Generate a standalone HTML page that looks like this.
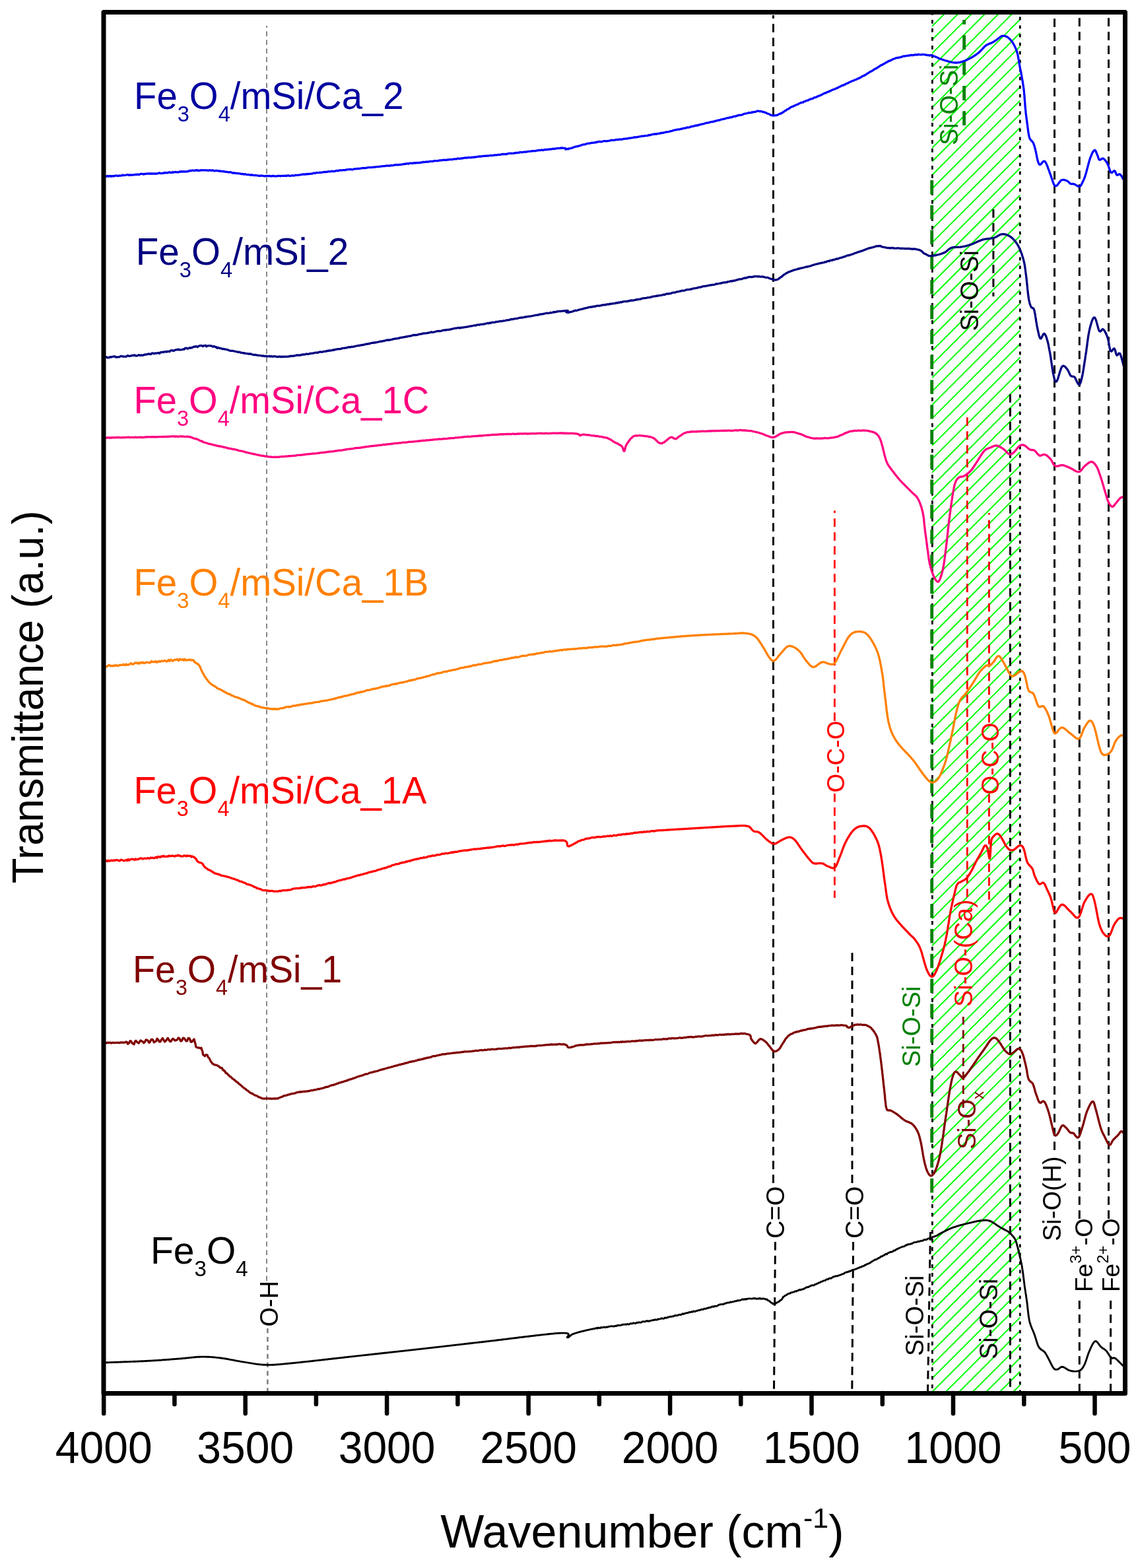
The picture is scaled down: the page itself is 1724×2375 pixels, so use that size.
<!DOCTYPE html><html><head><meta charset="utf-8"><title>FTIR spectra</title><style>html,body{margin:0;padding:0;background:#fff}svg{display:block}</style></head><body>
<svg width="1724" height="2375" viewBox="0 0 1724 2375" font-family="'Liberation Sans', Arial, sans-serif">
<rect width="1724" height="2375" fill="#fff"/>
<defs><clipPath id="gclip"><rect x="1412" y="22" width="133.5" height="2085"/></clipPath></defs>
<g clip-path="url(#gclip)"><path d="M1412,19.4L1545.5,-114.1M1412,39.9L1545.5,-93.6M1412,60.4L1545.5,-73.1M1412,80.9L1545.5,-52.6M1412,101.3L1545.5,-32.2M1412,121.8L1545.5,-11.7M1412,142.3L1545.5,8.8M1412,162.8L1545.5,29.3M1412,183.3L1545.5,49.8M1412,203.7L1545.5,70.2M1412,224.2L1545.5,90.7M1412,244.7L1545.5,111.2M1412,265.2L1545.5,131.7M1412,285.7L1545.5,152.2M1412,306.1L1545.5,172.6M1412,326.6L1545.5,193.1M1412,347.1L1545.5,213.6M1412,367.6L1545.5,234.1M1412,388.1L1545.5,254.6M1412,408.5L1545.5,275.0M1412,429.0L1545.5,295.5M1412,449.5L1545.5,316.0M1412,470.0L1545.5,336.5M1412,490.5L1545.5,357.0M1412,510.9L1545.5,377.4M1412,531.4L1545.5,397.9M1412,551.9L1545.5,418.4M1412,572.4L1545.5,438.9M1412,592.9L1545.5,459.4M1412,613.3L1545.5,479.8M1412,633.8L1545.5,500.3M1412,654.3L1545.5,520.8M1412,674.8L1545.5,541.3M1412,695.3L1545.5,561.8M1412,715.7L1545.5,582.2M1412,736.2L1545.5,602.7M1412,756.7L1545.5,623.2M1412,777.2L1545.5,643.7M1412,797.7L1545.5,664.2M1412,818.1L1545.5,684.6M1412,838.6L1545.5,705.1M1412,859.1L1545.5,725.6M1412,879.6L1545.5,746.1M1412,900.1L1545.5,766.6M1412,920.5L1545.5,787.0M1412,941.0L1545.5,807.5M1412,961.5L1545.5,828.0M1412,982.0L1545.5,848.5M1412,1002.5L1545.5,869.0M1412,1022.9L1545.5,889.4M1412,1043.4L1545.5,909.9M1412,1063.9L1545.5,930.4M1412,1084.4L1545.5,950.9M1412,1104.9L1545.5,971.4M1412,1125.3L1545.5,991.8M1412,1145.8L1545.5,1012.3M1412,1166.3L1545.5,1032.8M1412,1186.8L1545.5,1053.3M1412,1207.3L1545.5,1073.8M1412,1227.7L1545.5,1094.2M1412,1248.2L1545.5,1114.7M1412,1268.7L1545.5,1135.2M1412,1289.2L1545.5,1155.7M1412,1309.7L1545.5,1176.2M1412,1330.1L1545.5,1196.6M1412,1350.6L1545.5,1217.1M1412,1371.1L1545.5,1237.6M1412,1391.6L1545.5,1258.1M1412,1412.1L1545.5,1278.6M1412,1432.5L1545.5,1299.0M1412,1453.0L1545.5,1319.5M1412,1473.5L1545.5,1340.0M1412,1494.0L1545.5,1360.5M1412,1514.5L1545.5,1381.0M1412,1534.9L1545.5,1401.4M1412,1555.4L1545.5,1421.9M1412,1575.9L1545.5,1442.4M1412,1596.4L1545.5,1462.9M1412,1616.9L1545.5,1483.4M1412,1637.3L1545.5,1503.8M1412,1657.8L1545.5,1524.3M1412,1678.3L1545.5,1544.8M1412,1698.8L1545.5,1565.3M1412,1719.3L1545.5,1585.8M1412,1739.7L1545.5,1606.2M1412,1760.2L1545.5,1626.7M1412,1780.7L1545.5,1647.2M1412,1801.2L1545.5,1667.7M1412,1821.7L1545.5,1688.2M1412,1842.1L1545.5,1708.6M1412,1862.6L1545.5,1729.1M1412,1883.1L1545.5,1749.6M1412,1903.6L1545.5,1770.1M1412,1924.1L1545.5,1790.6M1412,1944.5L1545.5,1811.0M1412,1965.0L1545.5,1831.5M1412,1985.5L1545.5,1852.0M1412,2006.0L1545.5,1872.5M1412,2026.5L1545.5,1893.0M1412,2046.9L1545.5,1913.4M1412,2067.4L1545.5,1933.9M1412,2087.9L1545.5,1954.4M1412,2108.4L1545.5,1974.9M1412,2128.9L1545.5,1995.4M1412,2149.3L1545.5,2015.8M1412,2169.8L1545.5,2036.3M1412,2190.3L1545.5,2056.8M1412,2210.8L1545.5,2077.3M1412,2231.3L1545.5,2097.8" stroke="#00ff00" stroke-width="2" fill="none"/></g>
<line x1="404" y1="1940" x2="404" y2="39" stroke="#7a7a7a" stroke-width="1.8" stroke-dasharray="7.4 5.6" stroke-dashoffset="0"/>
<line x1="405.4" y1="2012" x2="405.4" y2="2107" stroke="#808080" stroke-width="2.6" stroke-dasharray="7.3 5.6" stroke-dashoffset="0"/>
<line x1="1171.5" y1="1792" x2="1171.5" y2="23" stroke="#000" stroke-width="3" stroke-dasharray="12.7 8.3" stroke-dashoffset="0"/>
<line x1="1174.5" y1="1881" x2="1172.5" y2="2107" stroke="#000" stroke-width="3" stroke-dasharray="12.7 8.3" stroke-dashoffset="0"/>
<line x1="1291" y1="1792" x2="1291" y2="1442" stroke="#000" stroke-width="3" stroke-dasharray="12.7 8.3" stroke-dashoffset="0"/>
<line x1="1292.6" y1="1881" x2="1290.8" y2="2107" stroke="#000" stroke-width="3" stroke-dasharray="12.7 8.3" stroke-dashoffset="0"/>
<line x1="1412.4" y1="22" x2="1412.4" y2="2107" stroke="#000" stroke-width="2.8" stroke-dasharray="5.6 7.4" stroke-dashoffset="4.9"/>
<line x1="1545.3" y1="22" x2="1545.3" y2="2107" stroke="#000" stroke-width="2.8" stroke-dasharray="5 8" stroke-dashoffset="9.6"/>
<line x1="1264.4" y1="1092" x2="1264.4" y2="773.5" stroke="#ff0000" stroke-width="2.8" stroke-dasharray="12.7 8.3" stroke-dashoffset="0"/>
<line x1="1264.4" y1="1202" x2="1264.4" y2="1360" stroke="#ff0000" stroke-width="2.8" stroke-dasharray="12.7 8.3" stroke-dashoffset="0"/>
<line x1="1498.4" y1="1094.5" x2="1498.4" y2="777" stroke="#ff0000" stroke-width="2.8" stroke-dasharray="12.7 8.3" stroke-dashoffset="0"/>
<line x1="1498.4" y1="1203" x2="1498.4" y2="1363" stroke="#ff0000" stroke-width="2.8" stroke-dasharray="12.7 8.3" stroke-dashoffset="0"/>
<line x1="1465.3" y1="1359" x2="1465.3" y2="624" stroke="#ff0000" stroke-width="2.8" stroke-dasharray="12.7 8.3" stroke-dashoffset="0"/>
<line x1="1459.3" y1="1678" x2="1459.3" y2="1540" stroke="#800000" stroke-width="2.8" stroke-dasharray="12.7 8.3" stroke-dashoffset="0"/>
<line x1="1460.6" y1="30" x2="1460.6" y2="190" stroke="#008000" stroke-width="4.8" stroke-dasharray="22 16.3" stroke-dashoffset="15"/>
<line x1="1411.7" y1="273" x2="1411.7" y2="1807" stroke="#008000" stroke-width="4.8" stroke-dasharray="21.4 16.4" stroke-dashoffset="0"/>
<line x1="1504.9" y1="317" x2="1504.9" y2="449" stroke="#000" stroke-width="3" stroke-dasharray="12.7 8.3" stroke-dashoffset="0"/>
<line x1="1530.4" y1="597" x2="1530.4" y2="2107" stroke="#000" stroke-width="3" stroke-dasharray="12.7 8.3" stroke-dashoffset="0"/>
<line x1="1597.5" y1="1742" x2="1597.5" y2="24" stroke="#000" stroke-width="3" stroke-dasharray="12.7 8.3" stroke-dashoffset="0"/>
<line x1="1635.3" y1="1846" x2="1635.3" y2="24" stroke="#000" stroke-width="3" stroke-dasharray="12.7 8.3" stroke-dashoffset="0"/>
<line x1="1635.3" y1="1970" x2="1635.3" y2="2107" stroke="#000" stroke-width="3" stroke-dasharray="12.7 8.3" stroke-dashoffset="0"/>
<line x1="1679.5" y1="1846" x2="1679.5" y2="24" stroke="#000" stroke-width="3" stroke-dasharray="12.7 8.3" stroke-dashoffset="0"/>
<line x1="1682.6" y1="1970" x2="1682.6" y2="2107" stroke="#000" stroke-width="3" stroke-dasharray="12.7 8.3" stroke-dashoffset="0"/>
<line x1="1409.5" y1="1866" x2="1405.5" y2="2107" stroke="#000" stroke-width="3" stroke-dasharray="12.7 8.3" stroke-dashoffset="0"/>
<path d="M157.3,267.2 L158.1,267.5 L159.0,267.2 L159.9,267.4 L160.9,267.4 L162.0,266.7 L163.2,266.5 L164.4,267.4 L165.6,266.6 L167.0,266.5 L168.3,267.3 L169.8,266.6 L171.2,267.0 L172.8,266.4 L174.3,266.5 L175.9,265.8 L177.5,266.3 L179.2,266.5 L180.8,265.9 L182.5,266.1 L184.2,265.9 L186.0,265.0 L187.7,265.7 L189.5,265.4 L191.2,265.0 L193.0,264.5 L194.7,265.4 L196.5,264.8 L198.2,265.0 L199.9,265.1 L201.7,264.8 L203.4,264.9 L205.0,264.2 L206.7,264.6 L208.3,264.0 L209.7,264.5 L211.2,264.4 L212.7,263.3 L214.2,263.3 L215.8,263.3 L217.3,264.1 L218.9,263.4 L220.4,263.5 L222.0,263.0 L223.6,263.2 L225.2,263.0 L226.8,262.8 L228.5,263.0 L230.1,262.9 L231.7,263.2 L233.3,262.9 L235.0,263.1 L236.6,262.9 L238.2,263.0 L239.8,262.5 L241.4,261.8 L243.0,262.5 L244.6,262.6 L246.2,262.4 L247.8,261.9 L249.4,262.0 L250.9,261.3 L252.5,262.0 L254.0,261.6 L255.5,261.1 L256.9,260.8 L258.4,261.6 L259.8,261.7 L261.2,260.5 L262.6,261.3 L264.0,260.8 L265.3,260.4 L266.6,260.5 L268.4,260.9 L270.3,260.9 L272.0,259.8 L273.8,260.3 L275.4,259.5 L277.1,260.2 L278.7,259.6 L280.3,260.1 L281.9,260.1 L283.4,259.4 L284.9,259.8 L286.4,258.8 L287.9,258.4 L289.3,258.9 L290.7,258.1 L292.1,258.2 L293.5,258.3 L294.9,258.5 L296.2,257.8 L297.6,257.6 L298.9,258.5 L300.2,257.8 L301.6,258.5 L302.9,258.4 L304.2,257.7 L305.5,257.8 L307.3,257.8 L309.0,257.9 L310.7,257.9 L312.3,257.9 L313.9,258.0 L315.4,258.4 L317.0,257.9 L318.5,257.9 L320.0,258.3 L321.4,257.9 L322.9,258.0 L324.4,259.0 L325.8,258.5 L327.3,258.7 L328.7,258.2 L330.2,258.8 L331.7,259.1 L333.2,258.8 L334.7,259.4 L336.2,259.6 L337.8,259.3 L339.3,259.9 L340.8,260.0 L342.4,260.3 L343.9,260.3 L345.5,260.8 L347.0,261.0 L348.5,260.7 L350.1,260.9 L351.6,261.6 L353.1,262.1 L354.7,261.8 L356.2,262.1 L357.8,262.5 L359.3,262.5 L360.8,262.7 L362.4,262.9 L363.9,263.1 L365.4,263.5 L367.0,263.4 L368.5,263.6 L370.0,264.1 L371.6,263.7 L373.1,264.3 L374.6,264.6 L376.2,264.5 L377.7,264.6 L379.2,265.2 L380.7,264.9 L382.3,265.0 L383.8,265.3 L385.3,265.7 L386.9,265.3 L388.4,265.6 L389.9,265.8 L391.5,266.3 L393.0,266.1 L394.5,266.5 L396.1,266.0 L397.6,266.2 L399.1,266.5 L400.7,266.8 L402.2,266.5 L403.8,266.3 L405.3,266.3 L406.8,266.6 L408.4,266.4 L409.9,266.9 L411.4,266.9 L413.0,266.4 L414.5,266.5 L416.1,266.9 L417.6,266.8 L419.1,266.9 L420.7,266.5 L422.2,266.3 L423.7,266.4 L425.2,266.8 L426.7,266.3 L428.2,266.3 L429.6,266.4 L431.1,266.3 L432.5,266.2 L434.0,266.6 L435.4,265.9 L436.9,265.7 L438.4,266.4 L439.9,266.3 L441.4,266.2 L442.9,265.7 L444.5,266.0 L446.2,265.9 L447.8,265.2 L449.5,265.4 L451.3,265.4 L452.6,265.1 L453.9,264.9 L455.3,264.6 L456.6,264.5 L458.0,264.2 L459.4,263.9 L460.8,264.2 L462.2,263.8 L463.7,264.1 L465.1,263.3 L466.6,263.8 L468.0,263.4 L469.5,263.4 L471.0,263.2 L472.6,263.1 L474.1,262.6 L475.6,262.0 L477.2,262.4 L478.8,261.7 L480.4,261.6 L482.0,261.7 L483.6,261.4 L485.2,261.2 L486.9,261.4 L488.5,261.0 L490.2,260.6 L491.6,260.4 L492.9,260.7 L494.3,260.3 L495.6,260.4 L497.0,259.9 L498.4,259.6 L499.7,259.8 L501.1,259.8 L502.5,259.2 L503.9,259.5 L505.2,259.5 L506.6,259.3 L508.1,259.2 L509.5,258.4 L510.9,258.7 L512.4,258.8 L513.8,258.0 L515.3,258.0 L516.8,257.9 L518.4,257.9 L519.9,257.7 L521.5,257.6 L523.1,257.7 L524.7,256.9 L526.4,256.8 L528.0,256.7 L529.8,256.5 L531.5,256.3 L533.3,256.8 L535.1,256.6 L536.9,255.8 L538.8,255.9 L540.1,255.6 L541.4,255.5 L542.7,255.4 L544.0,255.5 L545.4,255.3 L546.7,255.0 L548.1,254.7 L549.5,254.7 L551.0,254.4 L552.4,254.6 L553.9,254.6 L555.3,254.2 L556.8,253.8 L558.3,253.7 L559.8,253.7 L561.3,253.7 L562.8,253.7 L564.4,253.2 L565.9,253.4 L567.5,253.1 L569.0,252.8 L570.6,252.6 L572.2,252.6 L573.7,252.6 L575.3,252.2 L576.9,252.2 L578.5,251.9 L580.1,251.6 L581.7,251.6 L583.3,251.6 L584.9,250.9 L586.5,251.1 L588.1,250.9 L589.7,251.1 L591.3,251.0 L592.9,250.4 L594.5,250.6 L596.1,250.4 L597.7,249.8 L599.3,249.8 L600.8,249.4 L602.4,249.8 L604.0,249.5 L605.5,249.5 L607.1,249.3 L608.6,249.0 L610.2,248.9 L611.7,248.7 L613.2,248.1 L614.7,248.4 L616.2,247.8 L617.7,247.7 L619.2,248.1 L620.6,247.3 L622.1,247.2 L623.6,247.1 L625.0,247.6 L626.5,246.9 L627.9,246.6 L629.4,247.1 L630.8,246.4 L632.2,246.8 L633.7,246.5 L635.1,246.5 L636.5,246.5 L638.0,246.0 L639.4,246.1 L640.8,245.3 L642.3,245.7 L643.7,245.4 L645.2,245.4 L646.6,244.8 L648.1,245.2 L649.6,245.2 L651.0,244.3 L652.5,244.4 L654.0,244.4 L655.5,244.5 L657.0,243.9 L658.5,243.7 L660.0,243.6 L661.6,243.7 L663.1,243.7 L664.7,243.2 L666.2,243.0 L667.8,242.9 L669.4,242.7 L671.0,242.6 L672.7,242.2 L674.3,242.3 L676.0,242.5 L677.7,241.9 L679.4,242.0 L681.1,241.4 L682.8,241.6 L684.6,241.5 L685.9,241.3 L687.3,241.0 L688.6,240.9 L690.0,240.9 L691.4,240.9 L692.8,240.2 L694.2,240.0 L695.6,240.4 L697.1,240.4 L698.5,239.9 L700.0,239.7 L701.5,239.8 L703.0,239.2 L704.5,239.1 L706.0,238.9 L707.5,239.1 L709.0,238.7 L710.6,238.5 L712.1,238.7 L713.7,238.8 L715.2,238.1 L716.8,238.3 L718.4,237.9 L720.0,238.1 L721.5,237.7 L723.1,237.3 L724.7,237.1 L726.3,236.8 L727.9,237.0 L729.5,236.8 L731.1,236.4 L732.7,236.4 L734.3,236.2 L735.9,236.4 L737.5,235.8 L739.1,236.3 L740.7,235.7 L742.3,235.7 L743.8,235.4 L745.4,235.5 L747.0,235.4 L748.6,235.0 L750.1,234.8 L751.7,234.8 L753.2,234.8 L754.8,234.3 L756.3,234.4 L757.8,234.4 L759.4,233.8 L760.9,233.5 L762.4,233.4 L763.8,233.6 L765.3,233.4 L766.8,233.5 L768.2,233.3 L769.6,232.6 L771.1,232.4 L772.5,232.4 L773.8,232.2 L775.2,232.4 L776.6,232.4 L777.9,232.3 L779.2,231.7 L780.5,232.0 L781.8,231.5 L783.6,231.3 L785.5,231.4 L787.3,230.7 L789.1,230.5 L791.0,230.9 L792.8,230.3 L794.6,230.1 L796.4,230.1 L798.2,230.0 L800.0,229.3 L801.8,229.3 L803.6,229.2 L805.3,229.0 L807.1,228.6 L808.8,228.7 L810.5,228.8 L812.2,228.2 L813.9,228.1 L815.6,227.6 L817.3,227.5 L818.9,227.7 L820.5,227.0 L822.1,227.5 L823.7,227.3 L825.2,226.5 L826.8,227.0 L828.3,226.4 L829.7,226.5 L831.2,226.4 L832.6,225.8 L834.0,226.0 L835.4,225.8 L836.7,225.8 L838.0,225.2 L839.3,225.5 L840.5,225.5 L841.7,225.2 L842.8,225.0 L844.0,224.5 L845.1,224.7 L846.1,224.5 L847.1,224.7 L848.1,224.6 L849.0,224.4 L849.9,224.0 L854.6,224.3 L856.6,224.6 L856.9,224.8 L856.7,226.0 L857.3,226.1 L859.6,225.4 L860.6,225.9 L861.6,225.0 L862.7,224.9 L863.8,224.9 L865.0,224.5 L866.2,224.2 L867.4,223.9 L868.7,223.3 L870.1,222.8 L871.5,222.3 L872.9,221.8 L874.4,221.8 L876.0,221.4 L877.5,220.8 L879.2,220.5 L880.8,219.8 L882.5,219.2 L884.3,218.9 L886.1,218.9 L887.9,217.8 L889.7,217.7 L891.7,217.2 L893.6,217.2 L894.8,216.7 L896.1,216.4 L897.4,216.3 L898.8,216.2 L900.2,216.2 L901.6,215.6 L903.0,215.8 L904.5,215.0 L905.9,214.9 L907.4,214.6 L909.0,214.4 L910.5,214.8 L912.1,214.5 L913.7,213.9 L915.3,213.7 L916.9,213.7 L918.5,213.8 L920.1,213.6 L921.7,213.4 L923.4,213.1 L925.0,212.5 L926.6,212.5 L928.3,212.2 L929.9,212.3 L931.5,212.1 L933.1,211.6 L934.7,211.5 L936.3,211.7 L937.9,210.9 L939.5,211.3 L941.1,211.2 L942.6,211.1 L944.1,210.4 L945.6,210.3 L947.1,210.2 L948.6,210.0 L950.0,210.1 L951.6,209.6 L953.2,209.1 L954.8,209.3 L956.4,208.8 L957.9,208.7 L959.4,208.5 L960.9,207.7 L962.4,208.1 L963.9,207.8 L965.4,207.5 L966.8,207.3 L968.3,207.0 L969.7,206.6 L971.1,206.7 L972.6,206.1 L974.0,206.2 L975.5,206.1 L976.9,205.7 L978.4,205.6 L979.8,205.7 L981.3,205.4 L982.7,204.5 L984.2,204.8 L985.7,204.4 L987.2,203.7 L988.7,203.7 L990.3,203.3 L991.8,202.9 L993.4,203.0 L995.0,203.0 L996.6,202.3 L998.3,202.4 L999.7,202.0 L1001.1,201.3 L1002.5,201.6 L1003.9,201.1 L1005.3,201.1 L1006.7,200.7 L1008.2,200.4 L1009.6,199.8 L1011.1,199.9 L1012.6,199.7 L1014.0,199.3 L1015.5,198.7 L1017.0,198.6 L1018.5,198.1 L1020.0,197.5 L1021.5,197.1 L1023.1,196.8 L1024.6,196.6 L1026.1,196.2 L1027.6,196.2 L1029.2,196.0 L1030.7,195.6 L1032.2,195.1 L1033.8,195.0 L1035.3,194.4 L1036.9,194.2 L1038.4,194.1 L1039.9,193.4 L1041.5,192.9 L1043.0,193.2 L1044.6,192.7 L1046.1,192.1 L1047.6,191.7 L1049.1,191.5 L1050.7,191.2 L1052.2,190.6 L1053.7,190.1 L1055.2,189.9 L1056.7,190.0 L1058.2,189.2 L1059.7,189.1 L1061.3,188.5 L1062.8,188.2 L1064.4,187.8 L1066.0,187.6 L1067.6,187.0 L1069.2,186.5 L1070.8,186.2 L1072.4,185.9 L1074.0,185.8 L1075.6,185.0 L1077.2,184.6 L1078.8,184.6 L1080.5,184.1 L1082.1,184.0 L1083.7,183.1 L1085.3,183.0 L1086.9,182.6 L1088.5,181.9 L1090.1,182.2 L1091.6,181.3 L1093.2,180.8 L1094.7,180.7 L1096.2,180.1 L1097.7,180.1 L1099.2,179.5 L1100.7,179.0 L1102.1,178.6 L1103.5,178.7 L1104.9,178.0 L1106.3,178.1 L1107.6,177.5 L1108.9,177.6 L1110.2,176.8 L1111.5,176.4 L1112.7,176.2 L1113.9,176.3 L1115.0,175.9 L1117.2,175.1 L1119.4,174.4 L1121.4,174.4 L1123.4,174.2 L1125.3,173.4 L1127.0,172.5 L1128.7,172.1 L1130.4,171.8 L1131.9,171.5 L1133.4,171.1 L1134.8,170.7 L1136.1,170.9 L1137.4,170.8 L1138.6,170.0 L1139.8,170.3 L1140.9,169.7 L1142.0,169.7 L1143.1,169.6 L1144.1,169.5 L1147.2,168.2 L1149.1,168.2 L1150.4,168.5 L1151.5,168.9 L1152.9,168.5 L1154.3,168.9 L1155.8,169.7 L1157.2,169.6 L1158.6,170.3 L1160.1,170.7 L1161.6,171.5 L1163.0,172.2 L1164.4,172.3 L1165.9,173.3 L1167.3,174.0 L1168.8,174.6 L1170.3,174.8 L1171.8,175.2 L1173.2,174.8 L1174.4,174.8 L1175.6,174.5 L1176.9,174.6 L1178.3,173.9 L1180.0,173.0 L1182.0,172.0 L1183.0,172.0 L1184.2,171.3 L1185.3,170.7 L1186.5,169.7 L1187.8,169.0 L1189.0,167.9 L1190.4,167.5 L1191.8,166.1 L1193.2,165.5 L1194.6,164.9 L1196.1,163.9 L1197.7,162.6 L1199.3,161.8 L1200.9,161.5 L1202.5,160.5 L1203.8,160.1 L1205.1,159.5 L1206.4,158.6 L1207.8,158.4 L1209.2,157.7 L1210.6,156.8 L1212.0,156.3 L1213.5,155.5 L1215.0,155.2 L1216.5,155.1 L1218.0,153.9 L1219.5,153.7 L1221.1,152.7 L1222.6,152.2 L1224.1,152.0 L1225.6,151.1 L1227.1,150.4 L1228.6,149.9 L1230.1,149.7 L1231.6,149.1 L1233.0,148.0 L1234.4,147.6 L1235.8,147.6 L1237.2,146.5 L1238.5,146.1 L1239.9,145.4 L1241.3,145.1 L1242.7,144.4 L1244.1,143.9 L1245.5,143.1 L1246.9,142.3 L1248.3,141.6 L1249.7,141.0 L1251.1,140.9 L1252.5,139.8 L1253.8,139.1 L1255.2,139.2 L1256.6,138.0 L1258.0,137.9 L1259.4,136.7 L1260.8,136.4 L1262.2,135.6 L1263.6,135.4 L1265.1,134.6 L1266.6,134.0 L1268.1,133.4 L1269.6,132.8 L1271.1,131.7 L1272.6,131.2 L1274.1,130.4 L1275.6,129.5 L1277.1,129.4 L1278.5,128.5 L1279.9,128.1 L1281.4,127.0 L1282.7,126.6 L1284.1,125.9 L1285.4,125.6 L1286.6,124.5 L1287.8,124.2 L1288.9,123.8 L1290.0,123.0 L1292.0,122.4 L1293.8,121.8 L1295.4,120.9 L1296.9,120.5 L1298.2,119.9 L1299.4,119.1 L1300.6,118.7 L1301.8,118.6 L1303.1,117.5 L1304.5,116.8 L1305.8,115.9 L1307.0,115.3 L1308.1,114.6 L1309.2,114.6 L1310.3,113.7 L1311.5,113.1 L1312.7,112.4 L1314.1,111.3 L1315.6,110.6 L1317.2,109.3 L1319.1,108.1 L1320.1,108.0 L1321.2,107.3 L1322.4,106.6 L1323.6,105.5 L1324.9,105.0 L1326.2,103.9 L1327.6,103.6 L1329.0,102.7 L1330.4,101.4 L1331.9,101.0 L1333.3,99.6 L1334.8,98.7 L1336.3,98.4 L1337.7,97.2 L1339.2,96.6 L1340.6,95.9 L1342.0,94.6 L1343.3,94.5 L1344.6,93.4 L1345.9,92.9 L1347.1,92.2 L1348.3,92.0 L1350.0,91.2 L1351.7,90.2 L1353.2,89.4 L1354.7,89.0 L1356.1,88.5 L1357.5,87.8 L1358.9,87.5 L1360.2,87.6 L1361.6,87.2 L1362.9,87.0 L1364.3,86.7 L1365.7,86.3 L1367.2,85.6 L1368.7,85.1 L1370.2,85.0 L1371.7,84.8 L1373.2,84.6 L1374.8,84.4 L1376.4,84.0 L1378.0,84.2 L1379.6,83.5 L1381.2,83.5 L1382.9,83.7 L1384.4,83.5 L1386.0,82.9 L1387.6,82.8 L1389.1,83.2 L1390.6,82.5 L1392.0,82.5 L1393.7,82.8 L1395.5,82.8 L1397.2,82.5 L1398.8,82.5 L1400.5,82.7 L1402.1,83.2 L1403.6,83.1 L1405.2,83.7 L1406.7,83.7 L1408.1,84.1 L1409.6,83.6 L1411.0,83.9 L1412.6,84.2 L1414.1,85.0 L1415.6,85.4 L1417.0,85.7 L1418.3,86.7 L1419.7,86.9 L1421.1,87.8 L1422.5,88.4 L1423.9,89.0 L1425.4,89.5 L1426.9,90.0 L1428.4,90.5 L1429.9,91.0 L1431.5,91.5 L1433.2,92.0 L1434.8,92.4 L1436.3,92.9 L1437.9,93.3 L1439.3,93.7 L1440.7,94.0 L1442.0,94.3 L1444.1,94.7 L1445.9,94.9 L1447.5,95.0 L1449.1,95.0 L1450.7,94.9 L1452.3,94.7 L1453.8,94.5 L1455.2,94.1 L1456.7,93.7 L1458.2,93.3 L1459.6,92.7 L1461.1,92.2 L1462.6,91.6 L1464.1,91.0 L1465.6,90.3 L1467.1,89.6 L1468.5,88.9 L1470.0,88.1 L1471.5,87.3 L1473.0,86.4 L1474.3,85.6 L1475.6,84.8 L1476.9,84.0 L1478.2,83.1 L1479.4,82.2 L1480.7,81.3 L1482.0,80.3 L1483.3,79.2 L1484.4,78.2 L1485.6,77.0 L1486.7,75.8 L1487.9,74.5 L1489.0,73.3 L1490.2,72.0 L1491.3,70.9 L1492.5,69.8 L1493.6,68.9 L1495.1,67.9 L1496.6,67.2 L1498.2,66.5 L1499.7,65.9 L1501.2,65.4 L1502.6,64.8 L1504.0,64.1 L1505.5,63.2 L1507.0,62.2 L1508.4,61.3 L1509.7,60.3 L1511.0,59.4 L1512.2,58.5 L1513.8,57.2 L1515.3,56.0 L1516.7,55.0 L1518.4,54.4 L1519.9,54.3 L1521.6,54.4 L1523.3,54.8 L1525.0,55.5 L1526.7,56.5 L1527.7,57.3 L1528.8,58.2 L1529.9,59.2 L1530.9,60.4 L1532.0,61.6 L1533.0,62.9 L1534.0,64.3 L1534.9,65.8 L1535.6,67.0 L1536.3,68.3 L1537.0,69.6 L1537.6,70.9 L1538.3,72.3 L1538.9,73.8 L1539.5,75.3 L1540.1,76.9 L1540.6,78.5 L1541.1,80.2 L1541.5,81.6 L1541.8,83.0 L1542.1,84.5 L1542.4,86.0 L1542.7,87.6 L1543.0,89.2 L1543.3,90.8 L1543.5,92.4 L1543.8,94.0 L1544.0,95.6 L1544.3,97.1 L1544.5,98.6 L1544.8,100.0 L1545.1,101.6 L1545.4,103.1 L1545.7,104.6 L1546.0,106.0 L1546.3,107.4 L1546.6,108.8 L1546.9,110.2 L1547.1,111.6 L1547.4,113.1 L1547.7,114.7 L1548.0,116.4 L1548.2,117.8 L1548.5,119.2 L1548.7,120.6 L1549.0,122.1 L1549.2,123.6 L1549.5,125.1 L1549.7,126.7 L1550.0,128.2 L1550.2,129.9 L1550.4,131.5 L1550.7,133.2 L1550.9,134.8 L1551.1,136.6 L1551.3,138.3 L1551.4,139.7 L1551.6,141.1 L1551.7,142.6 L1551.9,144.1 L1552.0,145.6 L1552.1,147.2 L1552.2,148.8 L1552.3,150.4 L1552.4,151.9 L1552.5,153.5 L1552.7,155.1 L1552.8,156.7 L1552.9,158.3 L1553.0,159.8 L1553.1,161.3 L1553.2,162.8 L1553.4,164.2 L1553.5,165.6 L1553.7,167.3 L1553.9,169.0 L1554.0,170.7 L1554.2,172.3 L1554.4,173.9 L1554.6,175.4 L1554.8,177.0 L1555.0,178.5 L1555.2,180.0 L1555.4,181.5 L1555.6,183.0 L1555.8,184.5 L1556.0,186.0 L1556.2,187.5 L1556.4,189.1 L1556.6,190.6 L1556.8,192.3 L1557.0,193.9 L1557.2,195.6 L1557.5,197.2 L1557.7,198.8 L1557.9,200.4 L1558.1,201.9 L1558.4,203.4 L1558.6,204.7 L1558.9,206.0 L1559.2,207.2 L1559.5,208.3 L1560.3,210.3 L1561.3,211.7 L1562.2,212.8 L1563.2,213.7 L1564.2,214.7 L1565.0,215.9 L1565.7,217.3 L1566.2,218.7 L1566.7,220.1 L1567.2,221.7 L1567.7,223.6 L1568.3,225.8 L1568.6,227.0 L1568.9,228.4 L1569.3,230.0 L1569.6,231.6 L1570.0,233.3 L1570.3,235.1 L1570.7,236.8 L1571.0,238.6 L1571.4,240.2 L1571.7,241.8 L1572.1,243.2 L1572.4,244.4 L1572.7,245.4 L1573.8,248.2 L1574.7,249.2 L1575.9,249.3 L1577.1,248.5 L1578.4,246.9 L1579.7,245.3 L1580.9,244.4 L1582.2,244.2 L1583.3,244.9 L1584.7,247.1 L1585.2,248.0 L1585.6,249.1 L1586.2,250.4 L1586.7,251.7 L1587.3,253.2 L1587.8,254.8 L1588.4,256.3 L1589.0,258.0 L1589.6,259.5 L1590.1,261.1 L1590.7,262.6 L1591.2,264.0 L1591.8,265.7 L1592.4,267.4 L1593.0,269.1 L1593.6,270.9 L1594.1,272.6 L1594.7,274.3 L1595.2,275.8 L1595.7,277.2 L1596.2,278.4 L1596.7,279.4 L1598.5,282.0 L1600.5,281.5 L1601.4,280.7 L1602.4,279.5 L1603.5,278.0 L1604.7,276.4 L1605.8,274.9 L1607.0,273.6 L1608.2,272.8 L1609.9,272.3 L1611.6,272.4 L1613.3,272.8 L1614.9,273.3 L1616.4,273.9 L1618.0,274.9 L1619.3,276.1 L1620.6,277.4 L1621.9,278.3 L1623.7,278.6 L1625.4,278.5 L1627.3,278.8 L1628.6,279.4 L1630.0,280.3 L1631.5,281.2 L1632.8,282.1 L1633.9,282.6 L1636.6,282.1 L1637.1,281.3 L1637.7,280.3 L1638.4,279.1 L1639.1,277.8 L1639.8,276.4 L1640.6,274.8 L1641.4,273.1 L1642.2,271.3 L1642.9,269.4 L1643.7,267.3 L1644.1,266.1 L1644.5,264.7 L1645.0,263.3 L1645.4,261.8 L1645.8,260.2 L1646.3,258.6 L1646.7,256.9 L1647.1,255.2 L1647.6,253.5 L1648.0,251.8 L1648.5,250.1 L1648.9,248.5 L1649.3,246.9 L1649.8,245.3 L1650.2,243.8 L1650.6,242.5 L1651.0,241.2 L1651.4,240.0 L1652.2,237.8 L1653.0,235.8 L1653.8,234.0 L1654.5,232.3 L1655.3,230.8 L1656.0,229.6 L1656.7,228.6 L1657.4,227.9 L1658.0,227.4 L1659.0,227.5 L1659.9,228.8 L1660.8,230.7 L1661.5,232.7 L1662.3,234.5 L1663.0,236.2 L1663.6,238.0 L1664.2,239.8 L1664.8,241.3 L1665.6,242.2 L1667.2,241.8 L1669.1,240.4 L1671.1,240.0 L1672.1,240.6 L1673.2,241.6 L1674.3,242.8 L1675.5,244.3 L1676.6,245.9 L1677.6,247.6 L1678.3,248.9 L1678.9,250.5 L1679.5,252.3 L1680.1,254.2 L1680.7,256.0 L1681.3,257.7 L1681.9,259.2 L1682.5,260.5 L1683.1,261.3 L1684.5,261.6 L1686.0,260.4 L1687.4,259.0 L1688.6,258.6 L1689.5,259.8 L1690.3,261.8 L1691.0,263.8 L1691.9,265.1 L1693.4,265.0 L1695.1,264.0 L1696.8,264.0 L1697.7,264.9 L1698.8,266.3 L1699.8,268.0 L1700.8,269.7 L1701.6,271.2 L1702.2,272.2" fill="none" stroke="#0000ff" stroke-width="3.3" stroke-linejoin="round" stroke-linecap="round"/>
<path d="M157.3,541.2 L158.1,540.9 L159.0,541.4 L159.9,540.9 L161.0,540.7 L162.1,541.2 L163.2,542.0 L164.4,541.7 L165.7,541.6 L167.0,540.5 L168.4,541.0 L169.8,540.5 L171.3,540.2 L172.8,539.9 L174.4,540.0 L176.0,541.2 L177.6,540.9 L179.3,540.8 L181.0,540.7 L182.7,539.5 L184.4,539.5 L186.2,540.0 L187.9,540.1 L189.7,540.2 L191.5,540.1 L193.3,538.5 L195.1,539.3 L196.9,539.3 L198.7,538.9 L200.5,538.2 L202.2,538.6 L204.0,537.7 L205.7,539.1 L207.4,538.9 L209.1,538.2 L210.8,537.6 L212.5,538.5 L214.1,537.8 L215.7,538.2 L217.2,538.0 L218.7,537.2 L220.1,536.9 L221.5,537.1 L222.9,536.7 L224.7,536.0 L226.4,536.1 L228.2,536.8 L229.9,535.2 L231.6,535.0 L233.3,535.8 L235.0,534.9 L236.7,535.1 L238.4,534.8 L240.0,534.3 L241.6,535.3 L243.2,533.6 L244.8,533.7 L246.4,533.1 L247.9,533.6 L249.5,532.7 L251.0,532.6 L252.5,533.1 L254.0,532.1 L255.4,532.3 L256.9,532.6 L258.3,531.0 L259.7,530.7 L261.1,530.7 L262.5,531.5 L263.8,531.0 L265.2,530.1 L266.5,530.0 L267.8,529.5 L269.0,529.8 L270.3,528.9 L271.5,529.9 L273.5,529.9 L275.4,529.7 L277.3,529.0 L279.1,529.1 L280.8,527.1 L282.5,527.3 L284.1,528.2 L285.7,527.6 L287.2,526.6 L288.7,527.3 L290.1,526.5 L291.5,526.6 L292.9,525.4 L294.2,525.0 L295.5,525.3 L296.8,524.5 L298.1,524.8 L299.4,525.7 L300.7,524.4 L302.6,523.6 L304.3,523.5 L305.9,523.6 L307.4,524.6 L308.7,523.7 L310.1,523.6 L311.5,523.2 L312.9,524.8 L314.5,523.9 L316.1,523.7 L318.0,523.6 L320.1,523.9 L321.3,524.3 L322.5,525.4 L323.8,524.7 L325.1,524.7 L326.4,525.8 L327.8,525.7 L329.2,527.3 L330.7,526.4 L332.1,527.1 L333.6,527.6 L335.1,527.7 L336.6,528.5 L338.2,528.5 L339.8,528.7 L341.3,529.2 L342.9,529.2 L344.5,529.9 L346.1,530.1 L347.7,531.0 L349.3,531.3 L350.9,531.4 L352.5,531.3 L354.1,531.8 L355.5,532.1 L357.0,532.3 L358.5,532.6 L360.0,533.4 L361.6,533.1 L363.1,533.3 L364.7,534.2 L366.3,534.2 L368.0,534.8 L369.6,534.6 L371.2,535.3 L372.8,535.4 L374.5,535.7 L376.1,536.0 L377.7,536.0 L379.2,535.9 L380.8,536.3 L382.3,537.0 L383.8,537.3 L385.2,537.5 L386.7,537.3 L388.0,537.7 L389.4,538.0 L390.6,538.1 L391.8,538.4 L393.0,538.3 L395.1,538.7 L397.0,539.0 L398.7,538.8 L400.3,539.5 L401.7,539.7 L403.0,539.1 L404.3,539.9 L405.5,539.9 L406.8,539.7 L408.1,539.3 L409.4,540.0 L410.9,539.4 L412.5,540.2 L413.8,540.0 L415.1,539.6 L416.3,539.7 L417.6,540.2 L418.8,540.2 L420.0,540.4 L421.2,540.6 L422.5,540.1 L423.9,540.0 L425.3,540.7 L426.9,540.0 L428.6,540.6 L430.4,540.0 L432.3,540.4 L434.5,540.2 L436.8,540.1 L437.9,539.7 L439.1,539.9 L440.3,539.2 L441.5,539.5 L442.7,539.1 L444.0,539.4 L445.3,539.1 L446.6,538.7 L448.0,538.6 L449.4,538.0 L450.8,537.9 L452.2,538.1 L453.7,537.8 L455.1,538.0 L456.6,537.6 L458.1,537.0 L459.7,536.9 L461.2,537.0 L462.8,536.6 L464.4,536.0 L466.0,536.4 L467.7,536.2 L469.3,535.4 L471.0,535.5 L472.7,535.1 L474.4,535.2 L476.1,534.5 L477.8,534.2 L479.5,534.1 L481.3,534.3 L483.1,533.3 L484.8,533.0 L486.6,533.2 L488.4,533.1 L490.2,532.5 L491.5,532.2 L492.8,532.4 L494.1,532.1 L495.5,531.3 L496.8,531.7 L498.2,531.0 L499.6,530.8 L501.0,531.0 L502.4,530.4 L503.8,530.5 L505.2,529.8 L506.7,530.1 L508.1,529.3 L509.6,529.0 L511.1,529.0 L512.6,528.7 L514.0,528.6 L515.5,528.6 L517.1,528.2 L518.6,527.4 L520.1,527.3 L521.6,527.3 L523.1,526.9 L524.7,526.9 L526.2,526.4 L527.7,525.8 L529.3,525.7 L530.8,525.9 L532.4,525.2 L533.9,525.3 L535.5,525.2 L537.0,524.6 L538.6,524.3 L540.1,524.0 L541.7,523.5 L543.3,523.7 L544.8,523.1 L546.4,523.1 L547.9,522.4 L549.4,522.6 L551.0,522.2 L552.5,521.8 L554.0,521.4 L555.6,520.9 L557.1,521.1 L558.6,520.5 L560.1,520.5 L561.6,519.8 L563.1,519.5 L564.6,519.2 L566.1,519.5 L567.5,518.7 L569.0,519.0 L570.4,518.4 L571.9,518.3 L573.3,517.8 L574.7,517.7 L576.2,517.1 L577.6,517.0 L579.0,517.2 L580.4,516.3 L581.8,516.4 L583.2,515.9 L584.6,515.6 L586.0,515.1 L587.4,514.8 L588.8,515.3 L590.2,514.9 L591.7,514.6 L593.1,514.4 L594.5,514.2 L595.9,513.3 L597.3,513.4 L598.7,513.0 L600.2,512.8 L601.6,512.8 L603.1,512.4 L604.5,512.3 L606.0,511.3 L607.4,511.5 L608.9,511.2 L610.4,511.0 L611.9,510.6 L613.4,510.5 L614.9,509.8 L616.5,510.0 L618.0,509.3 L619.6,509.2 L621.1,509.1 L622.7,508.7 L624.3,508.1 L625.9,507.7 L627.6,507.5 L629.2,507.5 L630.9,507.5 L632.6,507.1 L634.3,506.4 L636.0,506.1 L637.3,506.2 L638.6,505.6 L640.0,505.5 L641.3,504.9 L642.6,504.8 L644.0,504.9 L645.3,504.8 L646.7,504.5 L648.0,504.1 L649.4,504.3 L650.8,503.8 L652.2,503.2 L653.6,502.9 L655.0,503.4 L656.4,503.2 L657.8,502.9 L659.2,502.5 L660.6,502.0 L662.0,501.6 L663.5,501.5 L664.9,501.3 L666.4,501.6 L667.8,501.3 L669.3,501.0 L670.7,500.3 L672.2,500.1 L673.7,499.9 L675.1,500.2 L676.6,499.4 L678.1,499.6 L679.6,499.3 L681.1,499.0 L682.6,499.1 L684.1,498.3 L685.6,498.2 L687.2,497.7 L688.7,497.4 L690.2,497.1 L691.7,497.1 L693.3,496.7 L694.8,496.4 L696.4,497.0 L697.9,496.1 L699.5,496.4 L701.1,496.0 L702.6,495.8 L704.2,495.5 L705.8,495.4 L707.4,495.1 L708.9,494.8 L710.5,494.4 L712.1,494.2 L713.7,494.0 L715.3,493.6 L716.9,493.3 L718.5,492.8 L720.2,493.1 L721.8,492.5 L723.4,491.9 L725.0,491.8 L726.6,492.1 L728.3,491.3 L729.9,491.1 L731.6,491.1 L733.2,491.0 L734.6,490.3 L736.0,490.2 L737.4,489.9 L738.9,489.4 L740.3,489.8 L741.8,488.9 L743.3,489.4 L744.9,488.5 L746.4,488.2 L748.0,488.5 L749.6,488.2 L751.2,487.5 L752.8,487.5 L754.4,487.1 L756.0,487.1 L757.7,486.3 L759.3,486.6 L761.0,486.4 L762.7,485.9 L764.4,485.8 L766.1,485.5 L767.8,484.8 L769.5,484.9 L771.2,484.6 L772.9,484.1 L774.6,483.4 L776.3,483.5 L778.1,483.4 L779.8,482.7 L781.5,482.6 L783.3,482.5 L785.0,482.0 L786.7,481.3 L788.5,481.4 L790.2,480.8 L791.9,481.0 L793.6,480.6 L795.3,480.0 L797.0,480.2 L798.7,479.7 L800.4,479.1 L802.1,479.3 L803.7,479.0 L805.4,478.7 L807.1,478.4 L808.7,478.0 L810.3,477.7 L811.9,477.4 L813.5,477.1 L815.1,477.2 L816.7,476.4 L818.2,475.9 L819.7,476.2 L821.2,475.7 L822.7,475.5 L824.2,475.3 L825.7,474.8 L827.1,474.5 L828.5,474.2 L829.9,474.5 L831.2,474.4 L832.6,474.0 L833.9,473.4 L835.2,473.8 L836.4,473.5 L837.6,473.1 L838.8,472.5 L840.0,473.0 L841.2,472.6 L842.3,472.4 L843.3,471.8 L844.4,472.2 L845.4,471.5 L846.4,471.7 L847.3,471.3 L848.2,471.3 L849.1,471.6 L849.9,471.4 L857.4,470.7 L860.2,470.5 L859.9,471.4 L858.5,472.5 L857.8,472.8 L859.6,473.1 L860.6,473.4 L861.6,473.1 L862.7,473.0 L863.9,472.3 L865.1,472.3 L866.4,472.1 L867.8,471.7 L869.1,471.1 L870.6,470.6 L872.0,470.1 L873.5,470.4 L875.1,470.0 L876.7,469.1 L878.3,469.1 L879.9,468.4 L881.6,468.2 L883.2,467.9 L884.9,467.1 L886.6,467.0 L888.4,466.3 L890.1,466.1 L891.9,465.4 L893.6,465.2 L894.9,465.0 L896.2,465.2 L897.6,464.4 L898.9,464.6 L900.3,463.9 L901.6,464.4 L903.0,463.5 L904.4,463.2 L905.8,463.1 L907.2,463.4 L908.7,463.0 L910.1,462.9 L911.6,462.4 L913.0,461.8 L914.5,461.8 L916.0,461.6 L917.5,461.8 L919.1,461.0 L920.6,460.8 L922.2,461.0 L923.7,460.2 L925.3,460.6 L926.9,459.9 L928.5,459.8 L930.1,459.6 L931.7,459.6 L933.3,458.7 L935.0,459.0 L936.6,458.2 L938.3,458.4 L940.0,457.5 L941.3,457.9 L942.7,457.2 L944.1,457.0 L945.5,456.6 L946.9,456.6 L948.3,456.4 L949.7,456.6 L951.2,456.1 L952.6,455.7 L954.1,455.9 L955.6,455.0 L957.1,454.8 L958.5,455.1 L960.0,454.9 L961.6,454.4 L963.1,454.4 L964.6,453.4 L966.1,453.8 L967.6,453.4 L969.2,453.1 L970.7,453.0 L972.2,452.1 L973.8,451.9 L975.3,451.6 L976.9,451.6 L978.4,451.4 L980.0,451.1 L981.5,450.7 L983.1,450.7 L984.6,450.5 L986.1,450.2 L987.7,449.3 L989.2,449.1 L990.7,448.9 L992.3,448.6 L993.8,448.6 L995.3,448.0 L996.8,448.1 L998.3,447.6 L999.8,447.3 L1001.3,447.3 L1002.8,447.2 L1004.3,446.3 L1005.8,446.1 L1007.3,446.3 L1008.8,445.4 L1010.3,445.0 L1011.8,444.8 L1013.3,445.0 L1014.8,444.6 L1016.3,444.5 L1017.8,443.8 L1019.3,443.2 L1020.8,443.1 L1022.3,443.1 L1023.8,442.5 L1025.3,442.0 L1026.8,441.9 L1028.2,441.6 L1029.7,441.2 L1031.2,441.0 L1032.7,440.4 L1034.2,440.0 L1035.7,440.3 L1037.2,440.0 L1038.7,439.4 L1040.2,438.9 L1041.7,438.7 L1043.2,438.6 L1044.7,438.6 L1046.2,437.9 L1047.7,438.0 L1049.2,437.3 L1050.7,436.8 L1052.2,436.8 L1053.7,436.5 L1055.2,436.2 L1056.7,436.0 L1058.2,435.1 L1059.7,435.1 L1061.3,435.1 L1062.9,434.3 L1064.5,433.9 L1066.1,433.7 L1067.7,433.5 L1069.3,433.3 L1070.9,432.8 L1072.6,432.8 L1074.2,432.1 L1075.9,431.9 L1077.5,431.9 L1079.2,431.4 L1080.9,431.4 L1082.5,431.1 L1084.2,430.2 L1085.8,430.0 L1087.4,429.8 L1089.0,429.5 L1090.6,429.1 L1092.2,429.2 L1093.8,428.3 L1095.3,428.3 L1096.9,427.7 L1098.4,428.0 L1099.9,427.5 L1101.3,427.5 L1102.7,426.6 L1104.1,426.7 L1105.5,426.4 L1106.8,425.7 L1108.1,426.0 L1109.4,425.8 L1110.6,425.0 L1111.8,425.4 L1112.9,425.1 L1114.0,424.7 L1115.0,424.4 L1117.8,423.6 L1120.2,422.9 L1122.3,422.8 L1124.1,422.6 L1125.6,421.7 L1127.0,421.5 L1128.2,421.0 L1129.3,421.1 L1130.4,421.0 L1131.5,420.7 L1132.6,420.0 L1133.9,419.8 L1135.4,419.3 L1137.0,419.5 L1138.6,419.6 L1140.2,419.5 L1141.8,418.7 L1143.4,418.9 L1145.1,418.5 L1146.7,418.7 L1148.3,419.1 L1149.8,418.6 L1151.4,419.1 L1152.9,419.2 L1154.4,419.2 L1155.8,418.9 L1157.5,419.7 L1159.1,420.0 L1160.7,420.5 L1162.3,420.2 L1163.9,420.7 L1165.4,421.4 L1166.8,422.1 L1168.2,422.5 L1169.5,422.6 L1170.7,423.4 L1171.8,423.6 L1174.0,424.0 L1175.4,424.0 L1176.8,423.7 L1179.1,422.8 L1180.1,421.7 L1181.1,421.4 L1182.1,420.4 L1183.2,419.5 L1184.3,419.1 L1185.5,417.8 L1186.8,416.9 L1188.1,415.8 L1189.6,415.1 L1191.2,413.7 L1192.8,413.2 L1194.7,411.8 L1196.6,411.7 L1197.7,410.6 L1198.9,410.7 L1200.1,410.1 L1201.3,409.6 L1202.6,409.1 L1203.9,408.7 L1205.3,408.6 L1206.6,408.0 L1208.1,407.7 L1209.5,407.0 L1211.0,407.0 L1212.5,406.2 L1214.0,406.1 L1215.5,405.8 L1217.1,405.3 L1218.6,405.0 L1220.2,404.6 L1221.8,403.9 L1223.4,404.1 L1225.1,403.5 L1226.7,403.1 L1228.3,402.8 L1230.0,402.0 L1231.6,401.5 L1232.9,401.1 L1234.3,400.7 L1235.6,400.4 L1237.0,400.0 L1238.4,399.6 L1239.8,399.4 L1241.2,398.9 L1242.7,398.6 L1244.1,398.5 L1245.6,397.8 L1247.0,397.9 L1248.5,397.5 L1250.0,396.7 L1251.5,396.8 L1253.0,395.8 L1254.5,395.4 L1256.0,395.7 L1257.5,394.6 L1259.0,394.2 L1260.5,394.5 L1262.0,393.4 L1263.5,393.5 L1265.0,393.0 L1266.5,392.3 L1268.0,391.9 L1269.5,392.1 L1271.0,391.2 L1272.5,390.7 L1273.9,390.4 L1275.4,390.2 L1276.9,389.4 L1278.4,388.8 L1279.9,388.8 L1281.5,387.8 L1283.0,387.2 L1284.6,386.7 L1286.2,386.9 L1287.9,386.0 L1289.5,385.7 L1291.1,385.0 L1292.7,384.7 L1294.4,383.7 L1296.0,383.1 L1297.6,382.9 L1299.2,381.8 L1300.7,381.5 L1302.3,381.3 L1303.8,380.6 L1305.3,380.0 L1306.8,379.9 L1308.2,379.0 L1309.6,378.7 L1311.0,378.0 L1312.3,377.3 L1313.6,377.1 L1314.8,376.6 L1316.0,376.0 L1317.1,375.9 L1318.1,375.4 L1319.1,375.4 L1322.2,374.6 L1324.5,373.9 L1326.2,373.5 L1327.6,372.7 L1328.6,372.8 L1329.6,372.9 L1330.8,372.4 L1332.2,372.8 L1333.5,372.3 L1334.5,373.1 L1335.5,373.4 L1336.4,373.8 L1337.4,374.1 L1338.7,374.4 L1340.4,374.6 L1342.6,375.2 L1345.4,375.7 L1346.4,375.5 L1347.6,375.7 L1348.8,376.0 L1350.1,375.5 L1351.5,375.6 L1353.0,375.5 L1354.5,376.2 L1356.1,376.1 L1357.8,376.2 L1359.5,375.9 L1361.2,375.9 L1362.9,376.2 L1364.7,376.5 L1366.5,376.2 L1368.2,376.3 L1370.0,376.4 L1371.8,376.8 L1373.5,376.3 L1375.2,376.9 L1376.9,376.3 L1378.5,376.9 L1380.1,377.1 L1381.6,376.9 L1383.1,377.3 L1384.5,377.0 L1385.8,377.0 L1387.0,377.3 L1388.1,377.4 L1389.1,377.9 L1392.1,378.4 L1394.3,379.2 L1395.9,380.3 L1397.0,381.0 L1397.9,382.0 L1398.7,383.0 L1399.6,383.8 L1400.8,384.3 L1402.3,384.7 L1403.6,385.6 L1404.9,386.4 L1406.3,387.1 L1407.7,387.6 L1409.4,387.7 L1411.3,387.7 L1412.6,387.3 L1414.0,387.4 L1415.6,386.8 L1417.2,386.9 L1418.9,386.1 L1420.7,385.9 L1422.4,385.5 L1424.1,385.0 L1425.7,384.5 L1427.3,383.9 L1428.8,383.4 L1430.1,382.9 L1431.7,382.1 L1433.0,381.3 L1434.3,380.3 L1435.4,379.4 L1436.5,378.4 L1437.6,377.5 L1438.8,376.6 L1440.0,375.9 L1441.4,375.3 L1442.8,374.9 L1444.2,374.7 L1445.7,374.5 L1447.2,374.5 L1448.7,374.4 L1450.3,374.4 L1451.9,374.4 L1453.4,374.3 L1455.0,374.2 L1456.5,374.0 L1458.0,373.7 L1459.5,373.4 L1461.0,373.1 L1462.5,372.8 L1463.9,372.4 L1465.4,372.0 L1466.9,371.6 L1468.5,371.1 L1470.0,370.6 L1471.6,370.1 L1472.9,369.6 L1474.3,369.1 L1475.7,368.5 L1477.1,367.8 L1478.5,367.2 L1479.9,366.5 L1481.4,365.9 L1482.8,365.2 L1484.2,364.6 L1485.7,364.1 L1487.1,363.5 L1488.5,363.1 L1490.1,362.7 L1491.6,362.4 L1493.2,362.1 L1494.8,361.9 L1496.4,361.7 L1498.0,361.5 L1499.6,361.4 L1501.1,361.2 L1502.6,360.9 L1504.1,360.6 L1505.5,360.3 L1507.1,359.7 L1508.7,359.0 L1510.2,358.2 L1511.6,357.4 L1513.0,356.6 L1514.4,355.8 L1515.8,355.2 L1517.2,354.8 L1518.6,354.6 L1520.1,354.6 L1521.6,354.8 L1523.1,355.0 L1524.6,355.5 L1526.1,356.0 L1527.5,356.7 L1529.0,357.4 L1530.4,358.3 L1531.8,359.3 L1532.8,360.1 L1533.8,361.0 L1534.8,362.0 L1535.8,363.1 L1536.8,364.2 L1537.8,365.3 L1538.8,366.6 L1539.7,367.9 L1540.6,369.2 L1541.5,370.6 L1542.3,372.0 L1543.1,373.4 L1543.8,374.7 L1544.4,376.0 L1545.0,377.4 L1545.7,378.8 L1546.2,380.3 L1546.8,381.8 L1547.4,383.3 L1547.9,384.8 L1548.4,386.4 L1548.9,387.9 L1549.4,389.5 L1549.9,391.1 L1550.3,392.6 L1550.7,394.2 L1551.1,395.6 L1551.4,397.0 L1551.7,398.4 L1552.0,399.8 L1552.2,401.2 L1552.5,402.6 L1552.7,404.0 L1552.9,405.4 L1553.1,406.9 L1553.3,408.4 L1553.5,409.9 L1553.7,411.5 L1553.9,413.2 L1554.2,415.0 L1554.4,416.8 L1554.6,418.1 L1554.7,419.5 L1554.9,421.0 L1555.1,422.5 L1555.3,424.1 L1555.4,425.8 L1555.6,427.4 L1555.8,429.1 L1555.9,430.8 L1556.1,432.6 L1556.3,434.3 L1556.5,436.0 L1556.6,437.7 L1556.8,439.4 L1557.0,441.0 L1557.2,442.6 L1557.3,444.1 L1557.5,445.6 L1557.7,447.0 L1557.9,448.3 L1558.0,449.6 L1558.2,450.7 L1558.6,453.2 L1559.0,455.3 L1559.4,457.2 L1559.8,458.8 L1560.2,460.3 L1560.7,461.5 L1561.1,462.7 L1561.5,463.8 L1562.0,464.8 L1563.1,466.1 L1564.3,466.4 L1565.5,467.0 L1566.7,469.5 L1567.0,470.5 L1567.3,471.7 L1567.5,473.0 L1567.8,474.4 L1568.1,476.0 L1568.4,477.6 L1568.6,479.3 L1568.9,481.0 L1569.2,482.8 L1569.5,484.6 L1569.7,486.4 L1570.0,488.2 L1570.3,489.9 L1570.6,491.5 L1570.8,493.1 L1571.1,494.6 L1571.4,495.9 L1571.8,497.9 L1572.2,499.9 L1572.7,501.9 L1573.1,503.8 L1573.5,505.6 L1573.9,507.3 L1574.3,508.9 L1574.8,510.2 L1575.2,511.3 L1575.6,512.2 L1576.1,512.8 L1577.0,512.8 L1577.9,511.5 L1578.9,509.5 L1579.9,507.5 L1580.8,505.9 L1581.7,505.3 L1582.4,505.6 L1583.1,506.4 L1583.8,507.5 L1584.4,508.9 L1585.1,510.6 L1585.7,512.5 L1586.4,514.7 L1586.7,515.8 L1587.0,517.0 L1587.3,518.3 L1587.7,519.6 L1588.0,521.0 L1588.3,522.4 L1588.6,523.9 L1588.9,525.5 L1589.2,527.1 L1589.5,528.7 L1589.8,530.4 L1590.2,532.1 L1590.5,533.8 L1590.8,535.5 L1591.1,537.3 L1591.3,538.7 L1591.6,540.1 L1591.8,541.6 L1592.1,543.2 L1592.3,544.8 L1592.5,546.4 L1592.8,548.1 L1593.0,549.7 L1593.3,551.4 L1593.5,553.1 L1593.7,554.8 L1594.0,556.4 L1594.2,558.0 L1594.5,559.6 L1594.7,561.1 L1594.9,562.5 L1595.2,563.9 L1595.4,565.2 L1595.7,566.3 L1595.9,567.4 L1596.5,570.2 L1597.1,572.8 L1597.7,575.0 L1598.3,576.7 L1599.0,577.8 L1599.7,578.2 L1600.6,577.8 L1601.0,577.2 L1601.5,576.4 L1602.0,575.2 L1602.5,573.9 L1603.0,572.3 L1603.5,570.6 L1604.1,568.8 L1604.6,566.9 L1605.2,565.0 L1605.7,563.2 L1606.3,561.4 L1606.9,559.8 L1607.4,558.3 L1608.0,557.0 L1608.5,555.9 L1609.0,555.2 L1610.6,554.2 L1612.2,554.5 L1613.7,555.7 L1615.2,557.4 L1616.6,559.0 L1617.5,560.2 L1618.3,561.7 L1619.1,563.4 L1619.9,565.1 L1620.7,566.8 L1621.4,568.2 L1622.2,569.3 L1623.6,570.1 L1625.0,570.2 L1626.4,570.3 L1627.9,571.2 L1628.7,572.3 L1629.5,573.9 L1630.4,575.7 L1631.3,577.7 L1632.1,579.5 L1633.0,581.0 L1633.8,582.1 L1634.5,582.5 L1635.2,582.3 L1635.8,581.8 L1636.4,580.9 L1636.9,579.7 L1637.5,578.1 L1638.0,576.1 L1638.6,573.8 L1639.2,571.2 L1639.4,570.1 L1639.7,569.0 L1639.9,567.8 L1640.2,566.5 L1640.4,565.1 L1640.7,563.7 L1640.9,562.2 L1641.2,560.7 L1641.4,559.1 L1641.7,557.5 L1641.9,555.9 L1642.2,554.2 L1642.5,552.6 L1642.7,550.9 L1643.0,549.1 L1643.2,547.4 L1643.5,545.7 L1643.8,544.0 L1644.0,542.3 L1644.3,540.6 L1644.5,538.9 L1644.8,537.3 L1645.0,535.8 L1645.2,534.4 L1645.5,532.8 L1645.7,531.3 L1645.9,529.7 L1646.1,528.1 L1646.3,526.5 L1646.6,524.9 L1646.8,523.2 L1647.0,521.6 L1647.2,519.9 L1647.4,518.3 L1647.6,516.7 L1647.9,515.1 L1648.1,513.5 L1648.3,511.9 L1648.5,510.4 L1648.8,508.9 L1649.0,507.4 L1649.2,506.0 L1649.5,504.6 L1649.7,503.3 L1650.0,502.0 L1650.2,500.8 L1650.5,499.6 L1651.0,497.4 L1651.6,495.3 L1652.1,493.2 L1652.7,491.1 L1653.3,489.2 L1653.8,487.4 L1654.4,485.8 L1655.0,484.3 L1655.6,483.1 L1656.2,482.1 L1656.8,481.3 L1657.4,480.9 L1658.0,480.8 L1658.5,481.1 L1659.1,481.9 L1659.6,483.0 L1660.2,484.5 L1660.8,486.2 L1661.3,488.1 L1661.9,490.1 L1662.4,492.2 L1663.0,494.2 L1663.5,496.1 L1664.0,497.9 L1664.5,499.4 L1665.0,500.7 L1665.5,501.5 L1667.0,502.1 L1668.4,500.6 L1669.8,498.9 L1671.2,498.7 L1671.9,499.4 L1672.6,500.2 L1673.4,501.3 L1674.2,502.6 L1674.9,504.1 L1675.7,505.6 L1676.4,507.3 L1677.1,509.1 L1677.8,510.9 L1678.2,512.2 L1678.6,513.6 L1678.9,515.2 L1679.3,516.9 L1679.6,518.7 L1679.9,520.5 L1680.2,522.2 L1680.5,524.0 L1680.8,525.7 L1681.1,527.2 L1681.5,528.6 L1681.8,529.8 L1682.1,530.9 L1682.5,531.6 L1683.9,532.1 L1685.4,530.4 L1686.8,528.4 L1688.1,527.9 L1688.7,528.8 L1689.3,530.2 L1689.8,532.0 L1690.3,534.0 L1690.8,535.8 L1691.3,537.3 L1691.9,538.2 L1693.4,537.4 L1694.9,535.2 L1696.6,535.4 L1697.0,536.2 L1697.5,537.3 L1698.0,538.6 L1698.5,540.2 L1699.0,541.9 L1699.5,543.7 L1700.0,545.5 L1700.5,547.4 L1700.9,549.1 L1701.4,550.7 L1701.7,552.1 L1702.0,553.3 L1702.3,554.2" fill="none" stroke="#000080" stroke-width="3.3" stroke-linejoin="round" stroke-linecap="round"/>
<path d="M157.3,663.1 L158.1,663.1 L159.0,663.2 L159.9,663.2 L160.9,663.1 L162.0,663.2 L163.1,662.6 L164.3,662.9 L165.6,663.2 L166.9,663.0 L168.3,663.1 L169.7,662.6 L171.1,662.8 L172.6,662.6 L174.1,662.8 L175.7,662.8 L177.3,662.4 L179.0,662.5 L180.6,662.6 L182.3,662.9 L184.0,662.8 L185.7,662.4 L187.5,662.8 L189.2,662.4 L191.0,662.6 L192.8,662.3 L194.6,662.2 L196.4,662.7 L198.1,662.3 L199.9,662.3 L201.7,662.7 L203.5,662.6 L205.2,662.2 L206.9,662.6 L208.7,662.3 L210.4,662.4 L212.0,662.1 L213.7,662.5 L215.3,662.3 L216.9,662.5 L218.5,662.4 L220.0,662.0 L221.5,662.0 L222.9,661.9 L224.5,661.9 L226.2,661.8 L227.9,661.9 L229.6,662.0 L231.3,661.6 L232.9,662.0 L234.6,661.8 L236.3,661.7 L238.0,662.0 L239.7,661.7 L241.4,661.6 L243.1,661.6 L244.8,661.7 L246.5,661.3 L248.2,661.8 L249.8,661.2 L251.5,661.5 L253.1,661.6 L254.7,661.0 L256.3,661.4 L257.9,661.2 L259.4,661.2 L260.9,660.9 L262.4,660.9 L263.9,660.9 L265.3,661.4 L266.7,660.9 L268.1,661.2 L269.5,661.3 L270.8,661.3 L272.1,660.9 L273.3,660.9 L274.5,661.0 L275.6,661.2 L276.7,660.8 L277.8,661.2 L278.8,661.3 L281.8,661.4 L284.2,661.1 L286.2,661.9 L287.7,661.6 L289.0,662.0 L290.1,662.5 L291.1,663.0 L292.0,663.1 L293.1,663.8 L294.3,664.1 L295.8,664.4 L297.2,664.8 L298.5,665.2 L299.7,665.6 L301.0,666.2 L302.2,667.1 L303.5,667.8 L304.8,667.9 L306.2,668.4 L307.7,669.6 L309.3,670.0 L311.1,670.5 L313.1,671.0 L315.2,671.9 L316.3,672.3 L317.5,672.4 L318.8,672.7 L320.0,672.8 L321.3,673.6 L322.6,673.4 L324.0,674.0 L325.4,674.5 L326.8,674.4 L328.3,675.1 L329.8,675.5 L331.3,675.7 L332.8,676.1 L334.4,676.0 L336.0,676.6 L337.5,676.7 L339.2,677.5 L340.8,677.5 L342.4,677.9 L344.1,678.6 L345.7,678.9 L347.4,679.3 L349.1,679.4 L350.7,679.8 L352.4,680.3 L354.1,680.5 L355.4,680.7 L356.8,681.1 L358.2,681.2 L359.7,681.7 L361.1,682.4 L362.6,682.7 L364.1,682.9 L365.6,683.2 L367.2,683.5 L368.7,683.7 L370.3,684.2 L371.9,684.9 L373.5,685.3 L375.0,685.4 L376.6,686.0 L378.2,686.4 L379.8,686.7 L381.4,687.0 L382.9,687.5 L384.5,687.6 L386.0,688.1 L387.6,688.2 L389.1,688.7 L390.6,689.2 L392.1,689.4 L393.5,689.5 L394.9,690.1 L396.3,690.2 L397.7,690.4 L399.0,690.3 L400.3,690.9 L401.5,690.9 L402.7,691.3 L404.7,691.4 L406.4,691.9 L408.1,691.9 L409.6,692.2 L411.0,692.0 L412.4,692.3 L413.6,692.4 L414.9,692.4 L416.1,692.2 L417.3,692.4 L418.5,692.4 L419.8,692.2 L421.2,692.3 L422.6,692.2 L424.2,691.8 L425.9,691.7 L427.7,691.3 L429.7,691.6 L431.9,691.5 L433.0,691.1 L434.2,691.2 L435.4,691.1 L436.6,691.0 L437.9,690.6 L439.1,690.8 L440.4,690.6 L441.7,690.6 L443.1,690.3 L444.4,690.3 L445.8,690.3 L447.2,690.1 L448.6,690.0 L450.1,689.4 L451.5,689.4 L453.0,689.4 L454.5,689.4 L456.0,689.0 L457.5,689.1 L459.1,688.9 L460.6,688.4 L462.2,688.5 L463.8,688.2 L465.4,687.9 L467.0,687.8 L468.6,687.7 L470.2,687.5 L471.9,687.3 L473.5,687.0 L475.2,687.1 L476.8,686.9 L478.5,686.8 L480.1,686.6 L481.8,686.2 L483.5,686.4 L485.2,685.7 L486.8,685.7 L488.5,685.5 L490.2,685.3 L491.5,685.0 L492.9,685.3 L494.3,684.8 L495.6,684.5 L497.0,684.6 L498.4,684.1 L499.8,684.2 L501.3,683.9 L502.7,683.9 L504.1,683.9 L505.6,683.6 L507.0,683.2 L508.5,683.2 L510.0,682.9 L511.4,682.6 L512.9,682.2 L514.4,682.3 L515.9,682.1 L517.4,682.1 L518.9,681.9 L520.4,681.5 L521.9,681.1 L523.5,681.2 L525.0,680.5 L526.5,680.3 L528.0,680.4 L529.6,680.2 L531.1,679.7 L532.6,679.8 L534.2,679.7 L535.7,679.2 L537.2,679.0 L538.8,678.7 L540.3,678.5 L541.8,678.7 L543.4,678.2 L544.9,678.3 L546.4,678.1 L548.0,677.7 L549.5,677.3 L551.0,677.5 L552.6,677.0 L554.1,676.8 L555.6,676.5 L557.1,676.7 L558.6,676.2 L560.1,675.9 L561.6,675.9 L563.1,675.5 L564.6,675.6 L566.1,675.3 L567.6,675.0 L569.1,675.2 L570.6,675.0 L572.0,674.3 L573.5,674.5 L575.0,674.2 L576.4,674.4 L577.9,674.1 L579.3,673.6 L580.8,673.5 L582.2,673.3 L583.6,673.6 L585.1,673.0 L586.5,673.0 L587.9,672.8 L589.4,672.7 L590.8,672.6 L592.2,672.5 L593.7,672.0 L595.1,672.2 L596.6,671.7 L598.0,671.7 L599.5,671.5 L601.0,671.3 L602.4,671.3 L603.9,671.1 L605.4,670.9 L606.9,670.9 L608.4,670.7 L609.9,670.2 L611.4,670.2 L613.0,670.1 L614.5,670.2 L616.1,670.1 L617.6,669.7 L619.2,669.2 L620.8,669.5 L622.4,669.2 L624.1,669.1 L625.7,669.0 L627.4,668.8 L629.1,668.6 L630.8,668.6 L632.5,668.2 L634.2,668.0 L636.0,668.1 L637.3,667.6 L638.7,667.5 L640.0,667.7 L641.4,667.1 L642.8,667.5 L644.2,667.2 L645.7,667.0 L647.1,666.7 L648.6,666.9 L650.1,666.8 L651.6,666.2 L653.1,666.3 L654.7,666.2 L656.2,666.0 L657.8,665.8 L659.3,665.5 L660.9,665.7 L662.5,665.7 L664.1,665.1 L665.7,665.0 L667.3,665.2 L668.9,665.1 L670.6,664.9 L672.2,664.3 L673.8,664.6 L675.5,664.6 L677.1,664.5 L678.7,664.2 L680.4,663.6 L682.0,664.0 L683.7,663.5 L685.3,663.6 L686.9,663.6 L688.6,663.3 L690.2,662.8 L691.8,662.8 L693.4,663.0 L695.0,662.4 L696.7,662.6 L698.2,662.3 L699.8,662.0 L701.4,662.2 L703.0,661.7 L704.5,661.6 L706.1,661.7 L707.6,661.4 L709.1,661.2 L710.6,661.4 L712.1,661.4 L713.6,661.3 L715.0,660.8 L716.5,660.8 L717.9,660.7 L719.3,660.7 L720.7,660.6 L722.0,660.7 L723.4,660.3 L724.7,660.0 L726.0,660.3 L727.2,659.8 L728.5,660.0 L729.7,659.9 L730.9,660.0 L732.1,659.7 L733.2,659.7 L735.4,659.3 L737.5,659.3 L739.5,659.0 L741.4,659.2 L743.2,658.9 L745.0,658.5 L746.6,658.5 L748.2,658.5 L749.7,658.6 L751.2,658.2 L752.6,658.4 L753.9,658.3 L755.2,657.9 L756.5,658.2 L757.8,657.8 L759.0,657.7 L760.2,657.9 L761.5,657.7 L762.7,658.0 L763.9,657.7 L765.2,657.6 L766.4,657.8 L767.7,657.3 L769.1,657.7 L770.5,657.3 L771.9,657.3 L773.4,657.7 L774.9,657.5 L776.5,657.2 L778.2,657.1 L779.9,657.5 L781.8,657.3 L783.1,657.4 L784.4,656.9 L785.8,657.2 L787.2,657.0 L788.6,656.9 L790.1,656.9 L791.6,657.0 L793.2,656.8 L794.7,656.8 L796.3,656.6 L797.9,657.0 L799.6,656.9 L801.2,657.0 L802.9,656.7 L804.6,656.9 L806.3,656.7 L808.0,656.7 L809.7,656.7 L811.4,656.8 L813.2,656.5 L814.9,656.3 L816.6,656.3 L818.3,656.3 L820.1,656.2 L821.8,656.7 L823.5,656.4 L825.2,656.6 L826.9,656.1 L828.6,656.4 L830.2,656.6 L831.8,656.4 L833.5,656.3 L835.0,656.3 L836.6,656.1 L838.2,656.1 L839.7,656.1 L841.1,656.2 L842.6,656.2 L844.0,656.5 L845.4,656.0 L846.7,656.1 L848.0,656.1 L849.2,656.0 L850.4,656.1 L851.6,656.0 L852.7,656.2 L853.7,655.9 L854.7,656.5 L858.0,656.1 L860.8,656.5 L863.1,656.4 L865.1,656.4 L866.8,656.3 L868.1,656.7 L869.2,656.3 L870.2,656.7 L871.0,656.6 L871.8,656.9 L872.5,657.1 L873.3,656.9 L874.2,657.0 L876.9,657.9 L877.9,659.3 L879.0,659.8 L879.5,659.5 L880.1,658.8 L883.9,658.1 L884.9,658.2 L886.0,658.4 L887.2,658.4 L888.6,658.8 L890.1,658.9 L891.7,658.8 L893.3,659.0 L895.0,659.5 L896.8,659.9 L898.6,659.9 L900.5,660.0 L902.3,660.6 L904.1,660.3 L905.9,660.6 L907.7,661.3 L909.4,661.3 L911.1,661.4 L912.7,662.0 L914.1,662.5 L915.5,662.5 L916.8,662.7 L917.9,662.8 L920.2,663.4 L922.1,664.6 L923.6,665.0 L924.8,666.0 L925.8,666.2 L926.8,667.0 L927.7,667.7 L928.8,668.6 L930.0,669.1 L931.4,670.0 L932.8,670.8 L934.3,671.4 L935.8,672.0 L937.2,672.7 L938.6,673.9 L939.8,674.2 L940.9,675.1 L941.9,675.8 L943.1,677.6 L943.9,679.4 L944.4,681.5 L944.9,682.8 L945.5,683.4 L946.0,683.1 L946.4,681.8 L946.8,680.4 L947.3,678.3 L947.8,676.2 L948.5,674.7 L949.4,672.9 L950.2,671.8 L951.0,670.4 L951.9,669.2 L952.9,667.8 L953.9,666.6 L955.0,664.9 L956.1,663.8 L957.3,662.9 L958.5,661.6 L959.8,660.8 L961.3,660.3 L962.8,659.8 L964.4,660.0 L966.1,660.0 L967.8,659.7 L969.6,659.7 L971.3,659.8 L973.0,660.1 L974.7,660.2 L976.2,660.5 L977.7,660.7 L979.2,660.7 L980.8,660.8 L982.3,661.5 L983.8,661.4 L985.3,661.8 L986.7,662.3 L988.1,662.8 L989.5,663.2 L990.9,664.1 L992.3,665.1 L993.6,666.5 L994.9,667.6 L996.1,669.0 L997.4,670.0 L998.7,670.9 L1000.1,671.4 L1001.5,671.5 L1002.8,671.5 L1004.1,670.8 L1005.5,670.3 L1007.0,669.2 L1008.4,668.1 L1009.9,666.7 L1011.3,665.9 L1012.7,664.5 L1014.0,663.5 L1015.2,662.7 L1016.3,662.3 L1018.2,662.2 L1019.5,663.2 L1020.7,663.9 L1022.0,664.4 L1023.8,664.8 L1024.9,664.2 L1026.0,663.2 L1027.2,662.3 L1028.5,661.4 L1029.9,660.5 L1031.2,659.7 L1032.7,658.7 L1034.1,657.6 L1035.7,656.5 L1037.2,656.0 L1038.5,655.5 L1039.7,655.1 L1040.8,654.6 L1041.8,654.7 L1043.0,654.6 L1044.2,654.4 L1045.7,653.9 L1047.4,654.0 L1049.5,653.7 L1052.0,653.9 L1055.0,653.6 L1056.1,653.8 L1057.2,653.7 L1058.4,653.2 L1059.7,653.3 L1061.0,653.6 L1062.4,653.2 L1063.9,653.2 L1065.4,653.1 L1067.0,653.3 L1068.6,653.3 L1070.2,653.0 L1071.9,653.2 L1073.6,653.0 L1075.3,652.6 L1077.0,653.0 L1078.8,652.7 L1080.5,652.5 L1082.3,653.0 L1084.1,652.4 L1085.8,652.6 L1087.6,652.5 L1089.3,652.7 L1091.0,652.4 L1092.7,652.3 L1094.4,652.3 L1096.1,652.2 L1097.7,652.4 L1099.2,652.2 L1100.7,652.4 L1102.2,652.1 L1103.6,652.1 L1105.0,652.0 L1106.2,652.4 L1107.5,652.3 L1108.6,652.3 L1111.1,652.1 L1113.3,651.9 L1115.3,651.7 L1117.2,652.1 L1118.8,651.8 L1120.4,651.5 L1121.9,651.5 L1123.2,651.5 L1124.5,651.8 L1125.8,652.0 L1127.0,651.6 L1128.3,652.0 L1129.6,651.8 L1131.0,652.1 L1132.4,652.3 L1134.0,652.4 L1135.6,652.7 L1137.1,652.7 L1138.7,652.7 L1140.2,653.3 L1141.7,653.7 L1143.2,653.8 L1144.7,654.3 L1146.2,654.6 L1147.6,654.8 L1149.1,655.3 L1150.5,655.8 L1151.9,656.2 L1153.3,656.7 L1154.9,657.0 L1156.5,657.9 L1158.1,658.4 L1159.7,659.2 L1161.2,659.7 L1162.8,660.3 L1164.3,660.8 L1165.7,661.5 L1167.1,661.7 L1168.5,662.2 L1169.8,662.5 L1171.1,662.5 L1172.9,662.2 L1174.4,661.5 L1175.9,660.8 L1177.3,660.0 L1178.6,659.1 L1180.0,658.3 L1181.5,657.4 L1183.1,656.5 L1184.6,656.4 L1186.3,655.6 L1187.9,655.5 L1189.6,654.8 L1191.4,654.9 L1193.1,654.6 L1194.8,654.6 L1196.4,654.5 L1197.9,654.3 L1199.5,654.4 L1200.9,654.5 L1202.3,654.6 L1203.7,654.7 L1205.0,655.2 L1206.5,655.8 L1208.0,655.9 L1209.8,656.9 L1211.1,657.0 L1212.5,657.4 L1213.9,657.8 L1215.4,658.6 L1217.0,659.1 L1218.6,660.0 L1220.2,660.8 L1221.7,661.4 L1223.3,661.8 L1224.8,662.2 L1226.3,662.5 L1227.7,663.2 L1229.4,663.5 L1231.0,663.9 L1232.6,663.9 L1234.0,664.3 L1235.5,663.9 L1237.1,664.0 L1238.7,664.0 L1240.6,664.1 L1242.6,664.2 L1243.9,663.8 L1245.4,664.0 L1246.8,664.0 L1248.4,663.7 L1250.0,663.5 L1251.6,663.7 L1253.3,663.8 L1255.0,663.7 L1256.7,663.5 L1258.4,663.1 L1260.0,662.9 L1261.7,662.8 L1263.3,662.8 L1264.9,662.1 L1266.4,661.8 L1268.0,661.5 L1269.6,661.3 L1271.2,660.2 L1272.7,659.5 L1274.3,658.9 L1275.8,658.5 L1277.4,657.8 L1278.9,656.8 L1280.3,656.1 L1281.8,655.7 L1283.2,655.1 L1284.6,654.6 L1285.9,654.1 L1287.2,653.3 L1289.1,653.1 L1290.9,653.0 L1292.6,652.8 L1294.2,652.2 L1295.7,652.4 L1297.3,652.3 L1298.8,652.4 L1300.4,652.0 L1302.1,652.2 L1303.7,652.3 L1305.3,652.1 L1306.9,651.9 L1308.6,652.0 L1310.3,652.1 L1311.9,652.2 L1313.5,652.3 L1315.1,652.8 L1316.5,652.7 L1317.8,653.3 L1319.8,653.6 L1321.5,654.1 L1323.1,654.6 L1324.6,655.1 L1325.9,655.9 L1327.2,656.8 L1328.4,657.5 L1329.4,658.8 L1330.4,659.8 L1331.3,661.1 L1332.1,662.5 L1332.9,664.0 L1333.5,665.4 L1334.1,666.8 L1334.6,668.4 L1335.1,670.0 L1335.6,671.7 L1336.1,673.5 L1336.6,675.3 L1337.0,676.7 L1337.4,678.1 L1337.7,679.7 L1338.1,681.2 L1338.5,682.8 L1338.9,684.5 L1339.3,686.0 L1339.6,687.6 L1340.0,689.0 L1340.4,690.4 L1340.9,692.2 L1341.4,694.0 L1341.9,695.7 L1342.4,697.3 L1343.0,698.8 L1343.6,700.3 L1344.2,701.7 L1345.0,703.2 L1345.8,704.6 L1346.6,705.9 L1347.6,707.2 L1348.6,708.6 L1349.8,710.2 L1350.6,711.3 L1351.5,712.5 L1352.4,713.7 L1353.4,715.0 L1354.4,716.3 L1355.4,717.6 L1356.4,718.9 L1357.4,720.1 L1358.3,721.3 L1359.2,722.4 L1360.3,723.8 L1361.3,724.9 L1362.2,726.0 L1363.1,727.0 L1364.1,728.1 L1365.3,729.4 L1366.8,730.9 L1367.7,731.8 L1368.6,732.8 L1369.7,733.8 L1370.8,735.0 L1371.9,736.1 L1373.1,737.3 L1374.3,738.5 L1375.5,739.7 L1376.7,740.9 L1377.8,742.0 L1378.9,743.1 L1380.0,744.2 L1380.9,745.1 L1381.8,746.0 L1383.3,747.4 L1384.6,748.6 L1385.7,749.5 L1386.7,750.4 L1387.6,751.2 L1388.5,752.2 L1389.4,753.5 L1390.2,754.8 L1391.0,756.2 L1391.7,757.6 L1392.4,759.1 L1393.1,760.7 L1393.8,762.3 L1394.4,764.0 L1395.0,765.7 L1395.5,767.1 L1395.9,768.5 L1396.3,770.0 L1396.7,771.4 L1397.1,773.0 L1397.5,774.5 L1397.9,776.0 L1398.2,777.6 L1398.5,779.2 L1398.8,780.8 L1399.0,782.2 L1399.2,783.6 L1399.4,785.0 L1399.6,786.3 L1399.7,787.7 L1399.8,789.1 L1400.0,790.6 L1400.1,792.2 L1400.3,793.9 L1400.5,795.7 L1400.7,797.7 L1400.9,798.9 L1401.0,800.2 L1401.2,801.6 L1401.4,802.9 L1401.5,804.4 L1401.7,805.9 L1401.9,807.4 L1402.1,808.9 L1402.3,810.5 L1402.5,812.0 L1402.7,813.6 L1403.0,815.2 L1403.2,816.8 L1403.4,818.4 L1403.6,820.0 L1403.8,821.5 L1404.0,823.0 L1404.2,824.5 L1404.4,826.0 L1404.6,827.6 L1404.8,829.2 L1405.0,830.9 L1405.2,832.5 L1405.5,834.1 L1405.7,835.8 L1405.9,837.4 L1406.1,839.0 L1406.3,840.6 L1406.5,842.2 L1406.7,843.7 L1406.9,845.3 L1407.2,846.8 L1407.4,848.2 L1407.7,849.7 L1407.9,851.0 L1408.2,852.4 L1408.6,854.1 L1409.0,855.8 L1409.4,857.4 L1409.8,859.1 L1410.2,860.6 L1410.7,862.1 L1411.1,863.6 L1411.6,865.0 L1412.0,866.4 L1412.5,867.7 L1412.9,868.9 L1413.4,870.1 L1413.8,871.2 L1414.6,873.1 L1415.5,874.9 L1416.3,876.5 L1417.2,877.9 L1418.0,879.0 L1418.8,879.9 L1419.5,880.6 L1421.4,881.4 L1423.3,878.7 L1423.7,877.8 L1424.1,876.9 L1424.5,875.8 L1424.9,874.7 L1425.4,873.4 L1425.8,872.0 L1426.3,870.6 L1426.7,869.0 L1427.2,867.4 L1427.6,865.6 L1428.1,863.8 L1428.5,861.9 L1428.9,859.9 L1429.1,858.7 L1429.4,857.4 L1429.6,856.1 L1429.8,854.8 L1430.0,853.4 L1430.2,851.9 L1430.5,850.5 L1430.7,849.0 L1430.9,847.5 L1431.1,845.9 L1431.3,844.4 L1431.5,842.8 L1431.7,841.2 L1431.9,839.5 L1432.1,837.9 L1432.3,836.2 L1432.5,834.5 L1432.8,832.8 L1433.0,831.1 L1433.2,829.4 L1433.4,827.7 L1433.6,826.0 L1433.8,824.6 L1433.9,823.2 L1434.1,821.7 L1434.3,820.3 L1434.5,818.8 L1434.6,817.3 L1434.8,815.8 L1435.0,814.2 L1435.1,812.7 L1435.3,811.1 L1435.5,809.6 L1435.6,808.0 L1435.8,806.4 L1436.0,804.9 L1436.1,803.3 L1436.3,801.7 L1436.5,800.1 L1436.7,798.5 L1436.8,797.0 L1437.0,795.4 L1437.2,793.8 L1437.4,792.3 L1437.5,790.7 L1437.7,789.2 L1437.9,787.6 L1438.1,786.1 L1438.3,784.6 L1438.5,783.0 L1438.7,781.4 L1438.9,779.8 L1439.1,778.2 L1439.4,776.5 L1439.6,774.8 L1439.8,773.2 L1440.0,771.5 L1440.3,769.8 L1440.5,768.1 L1440.7,766.5 L1441.0,764.8 L1441.2,763.2 L1441.4,761.5 L1441.7,759.9 L1441.9,758.4 L1442.1,756.8 L1442.4,755.3 L1442.6,753.9 L1442.8,752.4 L1443.0,751.1 L1443.2,749.7 L1443.4,748.5 L1443.6,747.2 L1443.8,746.1 L1444.0,745.0 L1444.4,742.5 L1444.9,740.3 L1445.2,738.4 L1445.6,736.8 L1445.9,735.4 L1446.2,734.1 L1446.6,733.0 L1446.9,732.0 L1447.3,731.0 L1447.7,729.9 L1448.5,728.0 L1449.4,726.5 L1450.3,725.3 L1451.3,724.3 L1452.4,723.4 L1453.9,722.6 L1455.6,722.2 L1457.4,722.0 L1459.0,721.5 L1460.4,720.9 L1461.8,720.2 L1463.2,719.4 L1464.7,718.3 L1465.8,717.4 L1467.1,716.3 L1468.3,715.2 L1469.6,714.0 L1470.9,712.6 L1472.2,711.1 L1473.0,710.1 L1473.8,709.0 L1474.6,707.8 L1475.4,706.7 L1476.2,705.4 L1477.0,704.1 L1477.9,702.8 L1478.8,701.3 L1479.8,699.8 L1480.6,698.6 L1481.4,697.4 L1482.2,696.0 L1483.1,694.6 L1484.0,693.1 L1484.9,691.7 L1485.9,690.2 L1486.8,688.8 L1487.7,687.4 L1488.6,686.1 L1489.5,684.9 L1490.3,683.8 L1491.1,682.9 L1492.7,681.4 L1494.1,680.4 L1495.4,679.8 L1496.8,679.3 L1498.1,678.8 L1499.6,678.3 L1501.0,677.7 L1502.4,677.0 L1503.8,676.4 L1505.3,675.8 L1506.8,675.3 L1508.2,675.0 L1509.7,675.0 L1511.2,675.2 L1512.6,675.7 L1514.1,676.4 L1515.5,677.2 L1517.0,678.0 L1518.4,679.0 L1519.8,679.9 L1521.2,681.0 L1522.5,682.2 L1523.9,683.6 L1525.2,685.0 L1526.4,686.2 L1527.6,687.2 L1528.8,687.8 L1530.6,688.1 L1532.2,687.8 L1533.7,686.9 L1535.5,685.5 L1536.4,684.7 L1537.4,683.6 L1538.4,682.4 L1539.5,681.1 L1540.5,679.7 L1541.6,678.4 L1542.6,677.2 L1543.6,676.2 L1544.5,675.4 L1546.3,674.3 L1547.9,673.8 L1549.5,673.8 L1551.3,674.3 L1552.5,674.9 L1553.8,675.8 L1555.1,676.9 L1556.5,678.1 L1557.8,679.3 L1559.1,680.3 L1560.3,681.0 L1562.1,681.5 L1563.7,681.5 L1565.3,681.6 L1567.0,682.2 L1568.1,683.1 L1569.2,684.2 L1570.3,685.6 L1571.5,687.0 L1572.6,688.3 L1573.8,689.3 L1574.9,690.0 L1576.5,690.1 L1578.0,689.6 L1579.6,688.9 L1581.2,688.3 L1582.8,688.4 L1584.0,688.9 L1585.3,689.7 L1586.7,690.7 L1588.0,691.8 L1589.3,693.1 L1590.5,694.3 L1591.7,695.6 L1592.6,696.8 L1593.4,698.2 L1594.2,699.7 L1595.0,701.2 L1595.7,702.7 L1596.5,704.0 L1597.5,705.0 L1598.5,705.8 L1599.9,706.2 L1601.4,706.1 L1603.0,705.8 L1604.7,705.3 L1606.4,704.9 L1608.1,704.6 L1609.7,704.6 L1611.1,704.8 L1612.5,705.2 L1613.8,705.7 L1615.2,706.2 L1616.6,706.8 L1618.0,707.4 L1619.5,708.1 L1621.0,708.7 L1622.4,709.4 L1623.9,710.2 L1625.5,711.1 L1627.1,712.1 L1628.6,713.0 L1630.2,713.7 L1631.7,714.3 L1633.1,714.7 L1634.4,714.7 L1635.7,714.3 L1636.9,713.5 L1638.0,712.3 L1639.1,711.0 L1640.1,709.6 L1641.2,708.2 L1642.3,706.9 L1643.4,705.8 L1644.8,704.6 L1646.3,703.4 L1647.8,702.2 L1649.3,701.1 L1650.7,700.2 L1652.2,699.7 L1653.5,699.5 L1654.8,699.7 L1655.9,700.3 L1657.1,701.2 L1658.2,702.3 L1659.3,703.6 L1660.3,705.2 L1661.4,706.9 L1662.0,708.0 L1662.6,709.2 L1663.2,710.6 L1663.8,712.0 L1664.3,713.4 L1664.9,715.0 L1665.4,716.6 L1666.0,718.2 L1666.5,719.8 L1667.1,721.5 L1667.6,723.2 L1668.2,724.9 L1668.7,726.3 L1669.1,727.7 L1669.6,729.2 L1670.1,730.8 L1670.5,732.4 L1671.0,734.0 L1671.5,735.6 L1671.9,737.2 L1672.4,738.8 L1672.8,740.3 L1673.3,741.9 L1673.7,743.3 L1674.1,744.7 L1674.5,746.1 L1674.9,747.3 L1675.5,749.2 L1676.0,751.0 L1676.5,752.7 L1677.0,754.3 L1677.4,755.7 L1677.9,757.1 L1678.4,758.4 L1678.9,759.6 L1679.4,760.8 L1680.4,762.8 L1681.6,764.6 L1682.7,766.1 L1683.9,767.1 L1685.0,767.6 L1686.1,767.3 L1687.2,766.4 L1688.3,765.0 L1689.4,763.5 L1690.6,762.0 L1691.7,760.7 L1692.9,759.3 L1694.1,757.8 L1695.3,756.3 L1696.4,755.0 L1697.4,754.1 L1699.2,753.2 L1700.8,753.0 L1701.9,753.0" fill="none" stroke="#ff0080" stroke-width="3.3" stroke-linejoin="round" stroke-linecap="round"/>
<path d="M157.3,1009.2 L158.1,1009.1 L159.1,1009.1 L160.2,1009.8 L161.5,1009.7 L162.8,1008.8 L164.2,1008.1 L165.8,1007.3 L167.3,1008.9 L169.0,1008.3 L170.7,1008.9 L172.5,1007.8 L174.2,1008.7 L176.0,1007.3 L177.8,1008.5 L179.6,1008.2 L181.4,1007.2 L183.1,1007.4 L184.8,1007.6 L186.5,1006.2 L187.9,1007.0 L189.4,1007.5 L190.9,1005.9 L192.4,1007.2 L193.9,1006.7 L195.5,1006.9 L197.0,1005.4 L198.6,1004.6 L200.2,1006.2 L201.8,1006.1 L203.4,1004.9 L204.9,1003.8 L206.5,1003.9 L208.0,1004.9 L209.6,1003.8 L211.1,1005.3 L212.5,1004.2 L214.0,1003.1 L215.4,1004.1 L216.7,1003.2 L218.0,1004.5 L219.3,1004.4 L221.2,1003.2 L223.0,1003.4 L224.6,1003.4 L226.2,1003.6 L227.7,1004.0 L229.2,1001.5 L230.7,1002.3 L232.1,1002.9 L233.5,1002.1 L234.9,1002.8 L236.4,1001.4 L237.9,1003.4 L239.5,1002.4 L241.1,1001.2 L242.5,1002.5 L244.0,1001.5 L245.5,1001.0 L247.1,1001.6 L248.7,1000.6 L250.3,1000.6 L251.9,1002.1 L253.5,1001.5 L255.1,999.6 L256.7,1001.4 L258.3,999.3 L259.8,999.9 L261.3,1001.3 L262.7,1000.4 L264.1,999.4 L265.4,999.5 L266.6,999.4 L268.7,998.5 L270.6,1000.7 L272.4,998.1 L274.0,998.9 L275.6,999.6 L277.0,998.6 L278.4,1000.1 L279.8,998.2 L281.2,1000.0 L283.0,999.8 L284.8,999.3 L286.6,999.9 L288.2,998.9 L289.7,1000.0 L291.0,1000.2 L292.2,999.7 L293.9,1000.7 L294.7,1002.8 L295.8,1003.6 L297.0,1004.0 L298.4,1005.3 L299.9,1005.7 L301.3,1007.3 L302.0,1008.6 L302.6,1009.2 L303.2,1010.4 L303.9,1011.9 L304.5,1013.9 L305.2,1015.2 L305.9,1016.6 L306.7,1018.3 L307.4,1020.0 L308.2,1020.7 L309.1,1022.3 L309.9,1024.2 L310.8,1025.4 L311.6,1026.4 L312.5,1027.9 L313.3,1029.0 L314.0,1029.7 L315.1,1031.4 L316.0,1032.4 L316.9,1033.8 L318.0,1034.3 L319.5,1035.8 L320.5,1036.8 L321.5,1037.5 L322.6,1037.7 L323.8,1038.7 L325.0,1039.3 L326.4,1040.2 L327.8,1041.2 L329.2,1042.4 L330.7,1043.4 L332.2,1043.6 L333.4,1044.0 L334.7,1045.1 L336.0,1045.4 L337.4,1046.1 L338.8,1047.6 L340.3,1047.7 L341.7,1049.0 L343.2,1049.4 L344.7,1050.6 L346.2,1051.3 L347.6,1051.2 L349.1,1051.9 L350.5,1053.3 L351.9,1053.6 L353.3,1054.0 L354.7,1055.0 L356.1,1055.6 L357.5,1055.8 L358.9,1056.3 L360.3,1056.5 L361.7,1057.3 L363.1,1057.6 L364.5,1058.6 L365.9,1059.2 L367.3,1059.3 L368.7,1060.3 L370.1,1060.4 L371.5,1061.1 L372.9,1062.3 L374.4,1062.8 L375.8,1063.9 L377.2,1064.3 L378.6,1065.0 L380.0,1065.1 L381.4,1066.5 L382.8,1066.3 L384.2,1067.5 L385.6,1068.3 L386.9,1068.8 L388.5,1069.3 L390.0,1069.4 L391.5,1070.1 L393.0,1070.6 L394.5,1070.4 L395.9,1071.6 L397.4,1071.9 L398.9,1071.7 L400.3,1072.3 L401.8,1072.3 L403.3,1072.4 L404.9,1073.1 L406.6,1072.7 L408.3,1073.6 L409.9,1074.0 L411.6,1073.5 L413.3,1074.3 L414.9,1073.5 L416.5,1074.3 L418.1,1073.7 L419.7,1074.4 L421.4,1073.7 L423.0,1074.0 L424.7,1072.8 L426.3,1072.5 L427.8,1072.9 L429.4,1072.3 L431.0,1071.8 L432.6,1071.0 L434.3,1070.8 L435.7,1070.7 L436.8,1070.2 L437.9,1071.0 L438.9,1070.6 L439.9,1070.6 L441.2,1070.1 L442.7,1069.5 L444.7,1068.9 L447.0,1069.1 L450.0,1068.0 L451.0,1068.3 L452.1,1068.0 L453.2,1067.9 L454.4,1067.2 L455.6,1067.1 L456.8,1067.3 L458.1,1066.6 L459.4,1066.9 L460.8,1066.3 L462.2,1066.2 L463.6,1065.9 L465.1,1066.0 L466.6,1065.6 L468.1,1065.2 L469.6,1065.0 L471.2,1065.0 L472.8,1065.1 L474.4,1064.4 L476.0,1063.9 L477.7,1063.7 L479.3,1063.4 L481.0,1063.4 L482.7,1063.3 L484.4,1062.8 L486.1,1062.1 L487.8,1061.9 L489.6,1061.7 L491.3,1061.4 L493.0,1061.0 L494.7,1061.3 L496.5,1060.5 L498.2,1060.2 L499.9,1059.9 L501.2,1059.6 L502.6,1059.4 L503.9,1058.7 L505.3,1058.7 L506.7,1058.7 L508.1,1057.5 L509.5,1057.6 L511.0,1057.1 L512.4,1056.4 L513.9,1056.0 L515.4,1056.4 L516.8,1055.4 L518.3,1055.6 L519.8,1054.6 L521.3,1054.5 L522.9,1053.8 L524.4,1053.9 L525.9,1053.8 L527.4,1052.8 L529.0,1052.8 L530.5,1052.7 L532.0,1051.7 L533.6,1051.5 L535.1,1051.4 L536.7,1051.1 L538.2,1050.0 L539.7,1050.1 L541.2,1049.2 L542.8,1048.8 L544.3,1049.3 L545.8,1047.9 L547.3,1048.4 L548.8,1047.9 L550.3,1047.4 L551.8,1047.1 L553.2,1046.7 L554.7,1045.9 L556.1,1045.7 L557.5,1045.1 L559.0,1045.5 L560.4,1045.0 L561.7,1044.7 L563.1,1043.8 L564.7,1043.8 L566.3,1043.1 L567.9,1043.3 L569.4,1042.9 L570.9,1042.8 L572.4,1042.1 L573.9,1041.8 L575.4,1041.5 L576.8,1040.5 L578.3,1040.7 L579.7,1039.8 L581.1,1039.9 L582.5,1039.3 L583.9,1039.8 L585.3,1038.6 L586.7,1039.2 L588.1,1038.9 L589.6,1038.1 L591.0,1038.2 L592.4,1037.1 L593.8,1036.9 L595.2,1036.4 L596.6,1036.2 L598.1,1035.8 L599.5,1036.3 L601.0,1035.2 L602.4,1035.4 L603.9,1034.7 L605.4,1034.2 L607.0,1034.2 L608.5,1033.6 L610.1,1034.0 L611.7,1033.1 L613.3,1032.9 L614.9,1032.5 L616.6,1032.1 L617.9,1031.7 L619.2,1031.1 L620.6,1030.7 L621.9,1031.1 L623.2,1030.1 L624.5,1030.0 L625.9,1030.0 L627.2,1029.4 L628.5,1029.5 L629.9,1029.0 L631.2,1028.3 L632.6,1027.6 L633.9,1027.7 L635.3,1027.2 L636.7,1027.3 L638.0,1026.6 L639.4,1026.4 L640.8,1026.1 L642.2,1025.4 L643.6,1025.4 L645.0,1025.1 L646.4,1024.0 L647.9,1024.4 L649.3,1024.0 L650.8,1023.6 L652.2,1022.7 L653.7,1022.2 L655.2,1021.7 L656.7,1021.5 L658.2,1021.6 L659.7,1020.8 L661.3,1020.0 L662.8,1019.9 L664.4,1019.3 L666.0,1019.5 L667.6,1019.2 L669.2,1019.0 L670.9,1017.8 L672.5,1017.7 L674.2,1017.0 L675.9,1017.4 L677.6,1016.9 L679.3,1016.2 L681.0,1016.2 L682.8,1015.4 L684.6,1015.3 L685.9,1014.7 L687.1,1014.3 L688.4,1014.7 L689.8,1014.2 L691.1,1013.7 L692.4,1013.7 L693.8,1013.1 L695.2,1013.0 L696.6,1012.0 L698.0,1011.7 L699.4,1011.4 L700.9,1011.6 L702.3,1011.4 L703.8,1010.5 L705.3,1010.6 L706.8,1009.9 L708.3,1010.1 L709.8,1009.9 L711.3,1008.9 L712.8,1009.5 L714.4,1008.8 L715.9,1008.0 L717.5,1007.9 L719.0,1007.4 L720.6,1007.6 L722.1,1007.5 L723.7,1006.4 L725.3,1006.1 L726.9,1006.3 L728.4,1006.2 L730.0,1005.7 L731.6,1005.1 L733.2,1004.5 L734.8,1004.7 L736.4,1004.2 L737.9,1004.2 L739.5,1003.7 L741.1,1003.5 L742.7,1003.4 L744.2,1002.8 L745.8,1002.8 L747.4,1001.8 L748.9,1001.2 L750.5,1001.8 L752.0,1000.7 L753.6,1001.3 L755.1,1000.5 L756.6,999.8 L758.1,999.7 L759.6,999.9 L761.1,999.3 L762.6,999.2 L764.0,998.4 L765.5,998.9 L766.9,998.1 L768.4,998.3 L769.8,997.4 L771.2,997.6 L772.6,997.2 L773.9,996.9 L775.3,996.2 L776.6,996.5 L778.0,996.5 L779.3,995.6 L780.5,995.7 L781.8,995.0 L783.6,995.7 L785.4,995.3 L787.2,994.7 L788.9,994.2 L790.6,993.5 L792.2,993.2 L793.9,993.5 L795.5,993.3 L797.1,993.2 L798.7,992.8 L800.2,992.1 L801.7,991.7 L803.2,991.7 L804.7,991.3 L806.2,991.2 L807.7,991.3 L809.1,990.6 L810.6,990.9 L812.0,990.4 L813.4,989.5 L814.8,990.0 L816.2,989.7 L817.6,989.4 L819.0,988.6 L820.4,989.2 L821.8,988.6 L823.2,988.4 L824.6,987.9 L826.0,987.5 L827.4,987.3 L828.8,987.3 L830.2,987.2 L831.6,986.8 L833.1,986.5 L834.5,987.0 L836.0,986.8 L837.5,986.8 L838.9,985.9 L840.4,986.2 L842.0,985.9 L843.5,985.2 L845.1,985.8 L846.7,985.1 L848.3,984.7 L849.9,984.5 L851.3,985.1 L852.7,984.2 L854.2,984.2 L855.6,984.2 L857.1,983.9 L858.6,984.0 L860.0,983.3 L861.5,983.5 L863.0,983.5 L864.6,983.4 L866.1,983.2 L867.6,982.7 L869.2,983.0 L870.7,983.2 L872.3,982.6 L873.9,982.6 L875.4,982.6 L877.0,981.9 L878.6,981.8 L880.2,982.4 L881.7,981.6 L883.3,981.6 L884.9,981.4 L886.5,981.9 L888.1,981.4 L889.7,981.6 L891.3,980.7 L892.9,980.7 L894.5,981.0 L896.0,980.5 L897.6,980.7 L899.2,980.5 L900.7,979.9 L902.3,979.8 L903.9,980.0 L905.4,980.0 L907.0,979.5 L908.5,979.5 L910.0,979.1 L911.5,979.2 L913.0,979.1 L914.5,979.1 L916.0,979.1 L917.5,979.3 L918.9,979.0 L920.4,978.9 L921.8,978.3 L923.2,978.3 L924.6,978.4 L926.0,978.5 L927.3,977.6 L928.7,977.3 L930.0,977.2 L931.7,977.4 L933.4,977.5 L935.1,976.6 L936.8,977.0 L938.4,976.6 L940.0,976.6 L941.6,976.4 L943.2,975.4 L944.8,975.8 L946.3,974.9 L947.8,974.7 L949.4,974.7 L950.9,974.5 L952.3,973.9 L953.8,973.8 L955.3,973.4 L956.7,973.1 L958.2,972.9 L959.6,972.5 L961.0,972.5 L962.5,972.3 L963.9,972.1 L965.3,972.2 L966.7,971.8 L968.1,971.5 L969.5,971.0 L970.9,971.1 L972.3,970.4 L973.7,970.2 L975.1,969.9 L976.5,970.2 L977.9,969.4 L979.3,969.3 L980.8,969.2 L982.2,969.2 L983.6,969.0 L985.1,968.8 L986.5,968.6 L988.0,968.0 L989.5,968.5 L991.0,968.1 L992.6,967.6 L994.1,967.4 L995.6,967.4 L997.1,966.8 L998.7,967.2 L1000.2,966.9 L1001.7,966.7 L1003.2,966.5 L1004.8,966.4 L1006.3,966.2 L1007.8,966.1 L1009.4,965.9 L1010.9,965.8 L1012.4,965.6 L1013.9,965.5 L1015.5,965.3 L1017.0,965.2 L1018.5,965.1 L1020.1,964.9 L1021.6,964.8 L1023.1,964.7 L1024.7,964.5 L1026.2,964.4 L1027.7,964.3 L1029.2,964.2 L1030.8,964.0 L1032.3,963.9 L1033.8,963.8 L1035.4,963.7 L1036.9,963.6 L1038.4,963.5 L1039.9,963.4 L1041.5,963.2 L1043.0,963.1 L1044.5,963.0 L1046.0,962.9 L1047.6,962.8 L1049.1,962.7 L1050.6,962.6 L1052.2,962.5 L1053.8,962.4 L1055.4,962.3 L1057.0,962.2 L1058.6,962.1 L1060.3,962.0 L1062.0,961.9 L1063.6,961.8 L1065.3,961.7 L1067.0,961.6 L1068.7,961.5 L1070.4,961.5 L1072.1,961.4 L1073.7,961.3 L1075.4,961.2 L1077.1,961.1 L1078.8,961.1 L1080.4,961.0 L1082.1,960.9 L1083.7,960.8 L1085.3,960.8 L1086.9,960.7 L1088.5,960.6 L1090.1,960.6 L1091.6,960.5 L1093.1,960.4 L1094.6,960.4 L1096.1,960.3 L1097.5,960.3 L1098.9,960.2 L1100.3,960.1 L1101.6,960.1 L1102.9,960.0 L1104.1,960.0 L1105.3,959.9 L1106.4,959.9 L1107.5,959.8 L1108.6,959.8 L1111.5,959.7 L1114.0,959.5 L1116.2,959.4 L1118.1,959.3 L1119.7,959.1 L1121.2,959.0 L1122.5,959.0 L1123.7,958.9 L1124.8,958.9 L1125.9,958.9 L1127.0,959.0 L1128.2,959.1 L1129.5,959.2 L1131.2,959.4 L1132.9,959.7 L1134.5,959.9 L1136.0,960.2 L1137.5,960.6 L1138.9,961.1 L1140.3,961.7 L1141.7,962.4 L1143.1,963.2 L1144.4,964.2 L1145.4,965.1 L1146.4,966.1 L1147.4,967.2 L1148.4,968.5 L1149.3,969.7 L1150.3,971.1 L1151.2,972.5 L1152.1,973.9 L1153.0,975.3 L1153.8,976.7 L1154.7,978.0 L1155.5,979.4 L1156.3,980.6 L1157.2,982.0 L1158.1,983.5 L1159.0,985.0 L1159.8,986.5 L1160.6,988.0 L1161.4,989.5 L1162.2,990.8 L1163.0,992.2 L1163.7,993.4 L1164.5,994.5 L1165.2,995.5 L1166.5,997.1 L1167.7,998.6 L1168.8,999.8 L1170.0,1000.7 L1171.2,1001.1 L1172.6,1000.9 L1173.5,1000.4 L1174.5,999.7 L1175.5,998.7 L1176.5,997.5 L1177.6,996.2 L1178.7,994.8 L1179.7,993.4 L1180.9,992.0 L1182.0,990.7 L1183.1,989.5 L1184.2,988.3 L1185.3,987.0 L1186.5,985.6 L1187.6,984.2 L1188.8,982.9 L1190.0,981.6 L1191.2,980.5 L1192.4,979.6 L1193.7,978.9 L1195.0,978.5 L1196.4,978.4 L1197.8,978.5 L1199.3,978.9 L1200.8,979.4 L1202.4,980.1 L1203.9,980.9 L1205.5,981.9 L1207.0,982.9 L1208.4,984.0 L1209.8,985.1 L1210.8,986.1 L1211.8,987.1 L1212.8,988.3 L1213.8,989.6 L1214.7,991.0 L1215.6,992.4 L1216.5,993.8 L1217.4,995.2 L1218.3,996.6 L1219.2,997.9 L1220.1,999.2 L1220.9,1000.4 L1221.8,1001.4 L1223.0,1002.8 L1224.2,1004.2 L1225.3,1005.6 L1226.4,1006.8 L1227.5,1007.9 L1228.6,1008.9 L1229.7,1009.6 L1230.9,1010.2 L1232.2,1010.4 L1233.4,1010.3 L1234.7,1009.8 L1236.0,1009.0 L1237.4,1008.1 L1238.8,1007.0 L1240.2,1005.9 L1241.6,1004.9 L1243.0,1004.0 L1244.3,1003.3 L1245.6,1002.9 L1247.2,1002.8 L1248.8,1003.0 L1250.4,1003.5 L1251.9,1004.1 L1253.4,1004.7 L1254.9,1005.3 L1256.2,1005.7 L1257.5,1005.9 L1259.2,1006.1 L1260.6,1006.3 L1261.9,1006.2 L1263.3,1005.5 L1264.9,1003.8 L1265.5,1003.0 L1266.1,1002.0 L1266.8,1000.9 L1267.4,999.7 L1268.1,998.4 L1268.8,997.1 L1269.5,995.6 L1270.2,994.1 L1270.9,992.6 L1271.6,991.1 L1272.3,989.5 L1273.1,988.0 L1273.8,986.5 L1274.6,985.0 L1275.3,983.6 L1276.0,982.3 L1276.7,980.9 L1277.4,979.5 L1278.2,978.1 L1278.9,976.6 L1279.6,975.2 L1280.4,973.7 L1281.2,972.3 L1281.9,970.8 L1282.7,969.5 L1283.4,968.1 L1284.2,966.9 L1284.9,965.7 L1285.7,964.6 L1286.5,963.6 L1287.2,962.7 L1288.7,961.2 L1290.1,959.9 L1291.6,958.9 L1293.0,958.2 L1294.5,957.6 L1296.0,957.2 L1297.6,956.9 L1299.2,956.8 L1300.6,956.7 L1302.0,956.7 L1303.4,956.7 L1304.9,956.9 L1306.4,957.1 L1307.9,957.5 L1309.5,958.1 L1311.0,958.9 L1312.5,960.0 L1314.0,961.3 L1314.8,962.1 L1315.6,963.1 L1316.4,964.1 L1317.3,965.1 L1318.1,966.3 L1319.0,967.5 L1319.8,968.8 L1320.6,970.1 L1321.5,971.5 L1322.3,972.9 L1323.1,974.4 L1323.9,975.8 L1324.7,977.4 L1325.5,978.9 L1326.2,980.4 L1327.0,982.0 L1327.6,983.5 L1328.3,985.1 L1328.9,986.6 L1329.4,987.9 L1329.9,989.3 L1330.3,990.7 L1330.8,992.1 L1331.2,993.5 L1331.6,994.9 L1331.9,996.4 L1332.3,997.8 L1332.6,999.3 L1333.0,1000.8 L1333.3,1002.3 L1333.6,1003.8 L1333.9,1005.3 L1334.2,1006.9 L1334.5,1008.4 L1334.8,1010.0 L1335.1,1011.5 L1335.3,1013.1 L1335.6,1014.6 L1335.9,1016.2 L1336.1,1017.7 L1336.4,1019.3 L1336.7,1020.8 L1336.9,1022.3 L1337.1,1023.8 L1337.3,1025.3 L1337.5,1026.8 L1337.7,1028.2 L1337.9,1029.8 L1338.1,1031.3 L1338.3,1032.8 L1338.4,1034.3 L1338.6,1035.8 L1338.8,1037.4 L1338.9,1038.9 L1339.1,1040.5 L1339.3,1042.0 L1339.4,1043.6 L1339.6,1045.2 L1339.8,1046.8 L1340.0,1048.4 L1340.2,1050.0 L1340.4,1051.7 L1340.6,1053.3 L1340.8,1055.0 L1341.0,1056.4 L1341.2,1057.8 L1341.3,1059.3 L1341.5,1060.8 L1341.7,1062.3 L1341.9,1063.8 L1342.0,1065.4 L1342.2,1066.9 L1342.4,1068.5 L1342.6,1070.1 L1342.8,1071.6 L1342.9,1073.2 L1343.1,1074.8 L1343.3,1076.4 L1343.5,1078.0 L1343.7,1079.6 L1343.9,1081.1 L1344.2,1082.7 L1344.4,1084.2 L1344.6,1085.7 L1344.8,1087.2 L1345.1,1088.6 L1345.4,1090.1 L1345.6,1091.5 L1345.9,1092.8 L1346.2,1094.2 L1346.5,1095.5 L1346.8,1096.7 L1347.3,1098.5 L1347.7,1100.1 L1348.2,1101.8 L1348.7,1103.3 L1349.2,1104.8 L1349.7,1106.3 L1350.2,1107.7 L1350.8,1109.0 L1351.3,1110.4 L1351.9,1111.7 L1352.5,1113.0 L1353.2,1114.3 L1353.9,1115.5 L1354.6,1116.8 L1355.3,1118.1 L1356.1,1119.4 L1356.9,1120.8 L1357.8,1122.1 L1358.7,1123.5 L1359.5,1124.7 L1360.4,1125.9 L1361.3,1127.0 L1362.2,1128.2 L1363.2,1129.4 L1364.3,1130.6 L1365.4,1131.8 L1366.4,1133.1 L1367.6,1134.3 L1368.7,1135.5 L1369.8,1136.7 L1371.0,1137.9 L1372.1,1139.1 L1373.3,1140.2 L1374.4,1141.4 L1375.5,1142.6 L1376.6,1143.7 L1377.7,1144.9 L1378.7,1146.0 L1379.7,1147.1 L1380.7,1148.2 L1381.6,1149.3 L1382.5,1150.3 L1383.6,1151.7 L1384.7,1153.1 L1385.7,1154.4 L1386.7,1155.8 L1387.7,1157.1 L1388.6,1158.4 L1389.5,1159.7 L1390.4,1161.0 L1391.2,1162.3 L1392.1,1163.5 L1392.9,1164.7 L1393.6,1165.8 L1394.4,1167.0 L1395.2,1168.0 L1395.9,1169.1 L1396.7,1170.1 L1397.4,1171.1 L1398.6,1172.7 L1399.8,1174.2 L1400.9,1175.6 L1402.0,1176.9 L1403.0,1178.2 L1403.9,1179.3 L1404.9,1180.4 L1405.8,1181.3 L1406.7,1182.2 L1407.5,1182.9 L1409.4,1184.3 L1410.9,1185.1 L1412.4,1185.2 L1414.1,1184.8 L1415.2,1184.4 L1416.4,1183.8 L1417.6,1183.0 L1418.8,1182.1 L1420.1,1180.8 L1421.3,1179.2 L1422.6,1177.3 L1423.2,1176.3 L1423.8,1175.2 L1424.4,1174.0 L1425.0,1172.7 L1425.6,1171.4 L1426.2,1169.9 L1426.8,1168.5 L1427.5,1166.9 L1428.1,1165.4 L1428.7,1163.8 L1429.3,1162.3 L1429.9,1160.7 L1430.5,1159.2 L1431.0,1157.6 L1431.5,1156.1 L1432.0,1154.7 L1432.5,1153.2 L1432.9,1151.7 L1433.4,1150.2 L1433.8,1148.8 L1434.2,1147.3 L1434.6,1145.8 L1434.9,1144.4 L1435.3,1142.9 L1435.6,1141.4 L1435.9,1139.9 L1436.3,1138.4 L1436.6,1136.9 L1437.0,1135.3 L1437.3,1133.7 L1437.7,1132.1 L1438.0,1130.6 L1438.4,1129.2 L1438.7,1127.7 L1439.0,1126.2 L1439.4,1124.7 L1439.7,1123.1 L1440.0,1121.6 L1440.3,1120.0 L1440.7,1118.5 L1441.0,1116.9 L1441.3,1115.3 L1441.6,1113.7 L1442.0,1112.1 L1442.3,1110.5 L1442.6,1108.9 L1443.0,1107.3 L1443.3,1105.7 L1443.6,1104.2 L1443.9,1102.8 L1444.2,1101.2 L1444.5,1099.7 L1444.8,1098.1 L1445.1,1096.5 L1445.4,1095.0 L1445.7,1093.4 L1446.0,1091.8 L1446.3,1090.2 L1446.6,1088.7 L1446.9,1087.1 L1447.2,1085.6 L1447.5,1084.2 L1447.8,1082.7 L1448.1,1081.3 L1448.4,1080.0 L1448.7,1078.7 L1449.0,1077.5 L1449.5,1075.5 L1450.0,1073.7 L1450.4,1071.9 L1450.9,1070.3 L1451.3,1068.7 L1451.8,1067.2 L1452.3,1065.8 L1452.8,1064.4 L1453.4,1063.1 L1453.9,1061.8 L1454.6,1060.5 L1455.5,1059.0 L1456.4,1057.7 L1457.4,1056.5 L1458.4,1055.4 L1459.5,1054.3 L1460.6,1053.2 L1461.7,1052.0 L1462.9,1050.7 L1464.0,1049.2 L1464.8,1048.1 L1465.7,1046.9 L1466.5,1045.6 L1467.4,1044.4 L1468.3,1043.0 L1469.2,1041.7 L1470.1,1040.3 L1471.0,1038.9 L1471.9,1037.6 L1472.8,1036.2 L1473.6,1034.9 L1474.5,1033.6 L1475.3,1032.3 L1476.2,1030.8 L1477.1,1029.4 L1478.0,1027.9 L1478.9,1026.4 L1479.7,1025.0 L1480.5,1023.5 L1481.4,1022.2 L1482.2,1020.8 L1483.0,1019.5 L1483.8,1018.3 L1484.7,1017.2 L1485.9,1015.7 L1487.2,1014.3 L1488.4,1013.0 L1489.7,1011.8 L1490.9,1010.7 L1492.1,1009.7 L1493.2,1008.9 L1494.2,1008.2 L1496.4,1007.6 L1498.1,1008.0 L1499.8,1007.8 L1500.9,1007.0 L1502.0,1006.0 L1503.2,1004.8 L1504.3,1003.5 L1505.5,1002.1 L1506.4,1000.9 L1507.3,999.5 L1508.3,997.9 L1509.2,996.4 L1510.2,995.1 L1511.2,994.1 L1512.1,993.7 L1513.1,993.8 L1514.1,994.3 L1515.1,995.2 L1516.1,996.5 L1517.2,998.2 L1518.6,1000.3 L1519.2,1001.3 L1519.9,1002.5 L1520.6,1003.8 L1521.4,1005.3 L1522.2,1006.8 L1523.0,1008.4 L1523.9,1010.1 L1524.7,1011.7 L1525.6,1013.3 L1526.4,1014.9 L1527.2,1016.4 L1527.9,1017.8 L1528.6,1019.0 L1529.3,1020.1 L1529.9,1021.0 L1531.6,1023.2 L1532.8,1024.2 L1533.9,1024.2 L1535.6,1023.8 L1536.6,1023.3 L1537.8,1022.6 L1539.2,1021.5 L1540.6,1020.4 L1542.0,1019.2 L1543.3,1018.1 L1544.7,1017.2 L1545.9,1016.6 L1546.9,1016.3 L1548.4,1016.5 L1549.5,1017.2 L1550.5,1018.4 L1551.5,1020.3 L1552.5,1022.9 L1552.9,1024.0 L1553.2,1025.2 L1553.6,1026.7 L1554.0,1028.2 L1554.3,1029.9 L1554.7,1031.6 L1555.0,1033.4 L1555.4,1035.2 L1555.8,1036.9 L1556.2,1038.6 L1556.5,1040.3 L1556.9,1041.8 L1557.3,1043.2 L1557.8,1044.5 L1558.2,1045.5 L1559.3,1047.3 L1560.6,1048.1 L1561.8,1048.5 L1563.1,1048.9 L1564.4,1049.6 L1565.7,1051.1 L1566.3,1052.2 L1566.9,1053.5 L1567.4,1054.9 L1568.0,1056.5 L1568.6,1058.2 L1569.2,1060.0 L1569.8,1061.7 L1570.4,1063.4 L1571.0,1065.1 L1571.6,1066.6 L1572.1,1067.9 L1572.7,1069.0 L1573.3,1069.9 L1574.8,1070.9 L1576.3,1070.6 L1577.8,1069.9 L1579.3,1069.4 L1580.8,1069.9 L1581.5,1070.6 L1582.3,1071.5 L1583.0,1072.5 L1583.8,1073.7 L1584.5,1075.0 L1585.3,1076.4 L1586.0,1077.9 L1586.8,1079.5 L1587.5,1081.3 L1588.3,1083.1 L1588.8,1084.3 L1589.2,1085.6 L1589.7,1087.0 L1590.2,1088.5 L1590.6,1090.1 L1591.1,1091.8 L1591.6,1093.5 L1592.1,1095.2 L1592.6,1096.8 L1593.0,1098.5 L1593.5,1100.1 L1593.9,1101.6 L1594.4,1103.1 L1594.8,1104.4 L1595.2,1105.6 L1595.6,1106.7 L1595.9,1107.6 L1597.2,1110.6 L1598.1,1111.1 L1599.6,1110.4 L1600.5,1109.8 L1601.5,1108.7 L1602.5,1107.3 L1603.7,1105.8 L1604.9,1104.3 L1606.2,1103.1 L1607.6,1102.3 L1609.0,1102.0 L1610.2,1102.2 L1611.4,1102.8 L1612.7,1103.6 L1614.0,1104.6 L1615.4,1105.7 L1616.8,1106.9 L1618.2,1108.2 L1619.6,1109.4 L1620.9,1110.5 L1622.2,1111.4 L1623.6,1112.5 L1625.1,1113.7 L1626.5,1114.9 L1627.9,1116.2 L1629.4,1117.3 L1630.7,1118.3 L1632.0,1118.9 L1633.3,1119.1 L1634.5,1118.9 L1635.3,1118.3 L1636.1,1117.4 L1636.9,1116.2 L1637.6,1114.8 L1638.3,1113.3 L1638.9,1111.6 L1639.6,1109.8 L1640.2,1108.1 L1640.9,1106.3 L1641.5,1104.7 L1642.2,1103.3 L1642.9,1102.0 L1644.0,1100.2 L1645.1,1098.5 L1646.2,1096.7 L1647.3,1095.1 L1648.3,1093.7 L1649.4,1092.6 L1650.4,1091.9 L1651.4,1091.6 L1652.3,1091.7 L1653.1,1092.1 L1653.9,1092.9 L1654.6,1093.9 L1655.4,1095.3 L1656.2,1097.1 L1657.1,1099.3 L1658.0,1102.0 L1658.3,1103.0 L1658.7,1104.2 L1659.1,1105.5 L1659.4,1106.8 L1659.8,1108.3 L1660.2,1109.8 L1660.6,1111.5 L1661.0,1113.1 L1661.4,1114.9 L1661.8,1116.6 L1662.2,1118.4 L1662.6,1120.1 L1663.1,1121.9 L1663.5,1123.7 L1663.9,1125.4 L1664.3,1127.1 L1664.7,1128.7 L1665.1,1130.3 L1665.5,1131.8 L1665.9,1133.2 L1666.3,1134.5 L1666.7,1135.7 L1667.0,1136.8 L1667.4,1137.7 L1668.8,1140.5 L1670.0,1142.2 L1671.3,1143.1 L1672.5,1143.5 L1673.7,1143.5 L1675.0,1143.4 L1676.4,1143.2 L1677.8,1142.7 L1679.3,1141.8 L1680.7,1140.7 L1682.1,1139.3 L1683.4,1137.7 L1684.1,1136.5 L1684.8,1135.2 L1685.5,1133.7 L1686.1,1132.1 L1686.8,1130.4 L1687.4,1128.7 L1688.0,1127.0 L1688.6,1125.4 L1689.3,1124.0 L1690.0,1122.7 L1691.1,1121.1 L1692.2,1119.5 L1693.3,1118.1 L1694.5,1116.9 L1695.6,1115.8 L1696.7,1114.9 L1697.6,1114.2 L1699.6,1113.7 L1701.2,1114.3 L1702.3,1114.8" fill="none" stroke="#ff8000" stroke-width="3.3" stroke-linejoin="round" stroke-linecap="round"/>
<path d="M157.3,1304.6 L158.1,1304.6 L159.1,1304.5 L160.2,1304.1 L161.4,1303.6 L162.7,1304.6 L164.1,1303.3 L165.6,1304.2 L167.1,1303.8 L168.7,1303.0 L170.4,1303.9 L172.1,1302.8 L173.9,1303.5 L175.6,1302.6 L177.4,1302.6 L179.2,1303.2 L181.0,1304.0 L182.8,1302.4 L184.6,1302.5 L186.3,1303.3 L188.0,1303.9 L189.7,1303.0 L191.3,1302.5 L192.8,1303.6 L194.2,1301.5 L195.6,1303.2 L197.4,1301.8 L199.0,1301.4 L200.6,1301.2 L202.2,1301.5 L203.6,1302.5 L205.0,1301.0 L206.4,1301.8 L207.8,1301.8 L209.1,1301.1 L210.5,1301.3 L211.9,1300.2 L213.3,1300.0 L214.7,1300.2 L216.2,1301.1 L217.7,1300.4 L219.4,1300.0 L221.1,1300.5 L222.9,1300.0 L224.2,1299.5 L225.6,1300.5 L227.0,1300.1 L228.5,1299.0 L230.0,1299.5 L231.5,1299.2 L233.1,1299.8 L234.7,1299.3 L236.3,1298.1 L237.9,1299.5 L239.5,1297.4 L241.2,1297.8 L242.8,1298.4 L244.5,1296.9 L246.2,1297.4 L247.8,1296.3 L249.4,1297.5 L251.1,1297.5 L252.7,1297.0 L254.2,1297.5 L255.8,1296.1 L257.3,1296.8 L258.8,1296.5 L260.2,1296.4 L261.6,1296.1 L263.0,1296.8 L264.8,1297.0 L266.6,1296.0 L268.4,1296.4 L270.2,1295.1 L272.0,1296.5 L273.7,1296.4 L275.4,1297.2 L277.1,1297.0 L278.7,1295.9 L280.3,1296.2 L281.9,1296.9 L283.4,1295.7 L284.8,1296.8 L286.2,1296.3 L287.5,1296.3 L288.7,1296.4 L289.9,1298.2 L291.0,1297.0 L292.0,1297.4 L294.5,1298.6 L296.1,1300.3 L297.1,1300.8 L297.7,1302.4 L298.4,1303.7 L299.4,1305.0 L300.9,1305.8 L302.5,1306.6 L304.0,1306.6 L305.5,1307.4 L306.7,1308.2 L307.8,1309.9 L308.6,1311.4 L309.3,1312.0 L310.4,1313.4 L311.6,1314.4 L313.0,1315.3 L314.5,1316.5 L316.1,1317.5 L317.7,1318.1 L319.0,1318.6 L320.4,1319.8 L321.8,1320.5 L323.3,1321.4 L324.9,1322.6 L326.8,1323.1 L328.0,1323.4 L329.3,1323.9 L330.7,1324.4 L332.1,1324.2 L333.5,1325.5 L335.0,1325.8 L336.6,1326.3 L338.2,1326.7 L339.8,1326.8 L341.4,1327.3 L342.8,1327.4 L344.2,1328.4 L345.7,1328.3 L347.2,1328.8 L348.7,1329.5 L350.3,1329.9 L351.8,1330.6 L353.4,1330.8 L355.0,1331.3 L356.5,1332.0 L358.1,1332.5 L359.6,1333.3 L361.1,1333.5 L362.6,1334.9 L364.2,1335.1 L365.7,1335.2 L367.2,1335.9 L368.7,1336.6 L370.2,1337.2 L371.7,1337.5 L373.2,1338.8 L374.8,1339.5 L376.3,1339.6 L377.8,1340.2 L379.2,1340.3 L380.6,1340.9 L382.0,1341.8 L383.5,1342.3 L384.9,1343.5 L386.3,1343.5 L387.7,1344.0 L389.1,1345.5 L390.5,1345.6 L391.9,1345.8 L393.3,1346.7 L394.7,1346.6 L396.0,1347.5 L397.6,1348.4 L399.1,1348.6 L400.7,1348.7 L402.2,1348.5 L403.7,1348.8 L405.2,1348.8 L406.6,1349.5 L408.1,1349.4 L409.6,1349.7 L411.0,1349.3 L412.4,1349.3 L414.1,1350.0 L415.6,1350.2 L417.1,1350.2 L418.6,1350.1 L420.0,1350.1 L421.6,1350.0 L423.2,1349.4 L425.0,1349.5 L427.0,1349.2 L428.3,1348.7 L429.5,1348.5 L430.8,1348.6 L432.1,1348.4 L433.4,1348.6 L434.8,1348.6 L436.2,1347.9 L437.6,1348.1 L439.2,1347.9 L440.7,1347.6 L442.4,1346.7 L444.2,1346.2 L446.0,1346.0 L447.9,1345.6 L450.0,1345.3 L451.2,1345.6 L452.3,1345.7 L453.5,1345.5 L454.7,1345.0 L455.9,1345.0 L457.1,1345.0 L458.4,1344.2 L459.6,1344.6 L460.9,1344.7 L462.2,1344.5 L463.5,1344.3 L464.9,1343.9 L466.3,1343.4 L467.7,1343.9 L469.1,1343.3 L470.6,1343.5 L472.2,1343.5 L473.7,1342.7 L475.4,1342.5 L477.0,1342.8 L478.7,1342.3 L480.5,1341.4 L482.3,1341.0 L484.2,1340.7 L486.1,1341.1 L488.1,1340.6 L490.2,1339.4 L491.3,1339.9 L492.5,1339.8 L493.7,1339.1 L495.0,1338.5 L496.3,1338.4 L497.6,1337.7 L498.9,1337.3 L500.2,1337.9 L501.6,1337.2 L503.0,1336.8 L504.4,1336.8 L505.9,1335.9 L507.3,1336.0 L508.8,1335.6 L510.3,1334.6 L511.8,1334.2 L513.3,1333.9 L514.8,1333.4 L516.4,1333.3 L517.9,1332.6 L519.5,1332.3 L521.1,1331.6 L522.6,1332.0 L524.2,1331.0 L525.8,1330.7 L527.4,1330.4 L529.0,1330.3 L530.6,1329.3 L532.2,1329.4 L533.8,1328.5 L535.4,1328.1 L536.9,1327.7 L538.5,1326.8 L540.1,1326.7 L541.6,1326.1 L543.2,1325.4 L544.7,1325.8 L546.2,1324.8 L547.7,1324.6 L549.2,1324.5 L550.7,1323.9 L552.2,1323.3 L553.6,1323.1 L555.0,1322.7 L556.4,1322.5 L557.8,1321.5 L559.2,1321.5 L560.5,1320.9 L561.8,1320.5 L563.1,1320.7 L564.8,1319.9 L566.4,1319.5 L568.1,1319.3 L569.6,1319.0 L571.2,1318.0 L572.7,1317.7 L574.2,1317.2 L575.7,1316.8 L577.1,1316.5 L578.6,1315.8 L580.0,1315.5 L581.4,1315.0 L582.8,1315.0 L584.1,1314.3 L585.5,1314.1 L586.8,1313.7 L588.2,1312.6 L589.5,1312.5 L590.8,1312.5 L592.2,1312.0 L593.5,1310.8 L594.8,1310.4 L596.2,1310.3 L597.5,1309.6 L598.9,1309.3 L600.2,1308.7 L601.6,1308.9 L603.0,1308.7 L604.4,1308.4 L605.9,1307.2 L607.3,1307.4 L608.8,1306.9 L610.3,1306.0 L611.8,1306.4 L613.4,1306.1 L615.0,1304.9 L616.6,1305.3 L617.9,1304.4 L619.2,1304.2 L620.6,1304.3 L621.9,1303.9 L623.2,1302.9 L624.5,1302.8 L625.9,1302.6 L627.2,1302.1 L628.5,1301.7 L629.9,1301.5 L631.2,1301.6 L632.6,1300.6 L633.9,1300.8 L635.3,1300.4 L636.7,1299.7 L638.0,1299.7 L639.4,1299.7 L640.8,1299.3 L642.2,1298.5 L643.6,1299.2 L645.0,1298.7 L646.4,1298.5 L647.9,1297.4 L649.3,1297.3 L650.8,1296.7 L652.2,1297.2 L653.7,1296.4 L655.2,1295.9 L656.7,1296.0 L658.2,1296.2 L659.7,1295.8 L661.3,1294.9 L662.8,1294.5 L664.4,1295.0 L666.0,1294.4 L667.6,1294.2 L669.2,1293.3 L670.9,1293.0 L672.5,1293.4 L674.2,1292.8 L675.9,1292.2 L677.6,1292.8 L679.3,1292.2 L681.0,1292.1 L682.8,1291.1 L684.6,1291.6 L685.9,1290.6 L687.2,1291.2 L688.5,1290.6 L689.8,1290.2 L691.2,1290.3 L692.6,1290.4 L694.0,1289.6 L695.4,1289.2 L696.8,1289.4 L698.2,1288.9 L699.7,1288.6 L701.2,1288.5 L702.6,1288.1 L704.1,1288.1 L705.6,1288.0 L707.1,1287.8 L708.7,1288.0 L710.2,1287.4 L711.8,1287.4 L713.3,1286.9 L714.9,1286.8 L716.4,1286.3 L718.0,1286.3 L719.6,1285.9 L721.2,1286.4 L722.8,1286.0 L724.4,1285.5 L726.0,1285.6 L727.6,1285.8 L729.2,1284.8 L730.8,1285.3 L732.4,1284.7 L734.0,1284.6 L735.6,1284.7 L737.2,1284.1 L738.8,1284.0 L740.4,1284.0 L742.0,1284.1 L743.6,1283.3 L745.2,1283.6 L746.8,1283.3 L748.4,1283.0 L750.0,1282.6 L751.5,1282.4 L753.1,1281.9 L754.6,1281.8 L756.2,1281.6 L757.7,1282.1 L759.2,1281.4 L760.8,1281.1 L762.3,1280.9 L763.8,1281.5 L765.2,1281.3 L766.7,1281.0 L768.2,1280.4 L769.6,1280.2 L771.0,1280.1 L772.4,1280.1 L773.8,1279.6 L775.2,1279.8 L776.6,1279.4 L777.9,1280.0 L779.2,1279.9 L780.5,1279.3 L781.8,1278.8 L783.6,1279.4 L785.5,1278.5 L787.3,1278.3 L789.1,1277.8 L791.0,1277.9 L792.8,1277.8 L794.6,1277.6 L796.4,1277.1 L798.2,1277.2 L800.0,1276.5 L801.8,1276.6 L803.5,1276.2 L805.3,1276.3 L807.0,1275.8 L808.8,1275.5 L810.5,1275.6 L812.2,1275.4 L813.9,1275.5 L815.6,1275.3 L817.2,1275.3 L818.8,1275.1 L820.5,1274.9 L822.0,1274.9 L823.6,1274.3 L825.2,1274.1 L826.7,1274.6 L828.2,1273.6 L829.7,1274.0 L831.1,1273.8 L832.5,1273.1 L833.9,1273.8 L835.3,1273.7 L836.6,1273.4 L837.9,1273.4 L839.2,1273.4 L840.4,1272.6 L841.6,1273.0 L842.8,1272.9 L843.9,1273.2 L845.0,1273.1 L846.1,1273.1 L847.1,1272.9 L848.1,1273.2 L849.0,1273.0 L849.9,1273.0 L853.6,1272.9 L856.2,1273.5 L857.8,1274.7 L858.7,1276.2 L859.1,1277.2 L859.3,1279.3 L859.5,1280.2 L859.8,1281.1 L860.6,1281.6 L862.0,1281.9 L863.3,1281.4 L864.4,1280.3 L865.7,1280.3 L867.3,1279.3 L869.3,1278.1 L870.4,1277.7 L871.5,1277.3 L872.6,1276.1 L873.8,1276.2 L875.0,1275.0 L876.3,1274.2 L877.7,1273.7 L879.2,1273.5 L880.8,1272.3 L882.5,1272.2 L884.4,1271.9 L886.5,1270.8 L888.7,1270.2 L889.8,1270.1 L891.0,1270.0 L892.2,1269.9 L893.5,1269.6 L894.7,1269.4 L896.1,1268.6 L897.4,1268.5 L898.8,1268.5 L900.2,1268.8 L901.6,1268.2 L903.1,1268.3 L904.6,1267.6 L906.1,1267.5 L907.6,1267.5 L909.2,1267.8 L910.8,1267.6 L912.4,1267.5 L914.1,1266.9 L915.8,1267.0 L917.5,1266.8 L919.2,1266.6 L920.9,1266.1 L922.7,1266.7 L924.5,1265.8 L926.3,1266.4 L928.1,1266.1 L930.0,1265.0 L931.3,1265.3 L932.6,1265.5 L934.0,1265.5 L935.4,1264.8 L936.7,1264.5 L938.2,1264.2 L939.6,1264.8 L941.0,1263.9 L942.5,1264.1 L944.0,1263.5 L945.5,1263.7 L947.0,1263.9 L948.5,1262.9 L950.0,1263.4 L951.6,1262.9 L953.1,1263.1 L954.7,1262.7 L956.2,1262.1 L957.8,1262.5 L959.4,1261.9 L961.0,1261.3 L962.6,1261.1 L964.2,1261.4 L965.8,1261.1 L967.4,1260.8 L969.0,1260.5 L970.6,1260.5 L972.2,1260.3 L973.8,1260.6 L975.4,1259.6 L977.0,1260.2 L978.6,1260.1 L980.2,1259.2 L981.7,1259.9 L983.3,1259.5 L984.9,1259.5 L986.4,1258.8 L988.0,1258.7 L989.5,1258.6 L991.0,1259.1 L992.6,1258.5 L994.1,1258.2 L995.6,1258.1 L997.1,1257.8 L998.7,1257.5 L1000.2,1257.8 L1001.7,1257.7 L1003.2,1257.6 L1004.8,1257.5 L1006.3,1257.4 L1007.8,1257.3 L1009.4,1257.2 L1010.9,1257.1 L1012.4,1257.0 L1013.9,1256.9 L1015.5,1256.8 L1017.0,1256.7 L1018.5,1256.6 L1020.1,1256.5 L1021.6,1256.4 L1023.1,1256.3 L1024.7,1256.2 L1026.2,1256.1 L1027.7,1256.1 L1029.2,1256.0 L1030.8,1255.9 L1032.3,1255.8 L1033.8,1255.7 L1035.4,1255.6 L1036.9,1255.5 L1038.4,1255.4 L1039.9,1255.3 L1041.5,1255.3 L1043.0,1255.2 L1044.5,1255.1 L1046.0,1255.0 L1047.6,1254.9 L1049.1,1254.8 L1050.6,1254.7 L1052.2,1254.6 L1053.8,1254.5 L1055.4,1254.4 L1057.0,1254.3 L1058.6,1254.2 L1060.3,1254.1 L1061.9,1254.0 L1063.6,1253.9 L1065.2,1253.8 L1066.9,1253.7 L1068.6,1253.6 L1070.3,1253.5 L1071.9,1253.4 L1073.6,1253.3 L1075.3,1253.2 L1077.0,1253.1 L1078.6,1253.0 L1080.3,1252.9 L1081.9,1252.8 L1083.5,1252.7 L1085.1,1252.6 L1086.7,1252.5 L1088.3,1252.4 L1089.9,1252.3 L1091.4,1252.2 L1092.9,1252.1 L1094.4,1252.0 L1095.9,1251.9 L1097.3,1251.9 L1098.7,1251.8 L1100.1,1251.7 L1101.4,1251.6 L1102.7,1251.6 L1104.0,1251.5 L1105.2,1251.5 L1106.4,1251.4 L1107.5,1251.3 L1108.6,1251.3 L1111.3,1251.2 L1113.7,1251.1 L1115.9,1251.0 L1117.9,1250.9 L1119.7,1250.8 L1121.4,1250.7 L1122.9,1250.6 L1124.3,1250.6 L1125.7,1250.6 L1126.9,1250.6 L1128.0,1250.7 L1129.2,1250.8 L1130.2,1250.9 L1131.3,1251.1 L1132.4,1251.3 L1134.5,1252.0 L1136.1,1253.0 L1137.3,1254.2 L1138.3,1255.5 L1139.3,1256.7 L1140.2,1257.8 L1141.4,1258.7 L1142.9,1259.3 L1144.3,1259.6 L1145.7,1259.7 L1147.1,1259.8 L1148.6,1260.3 L1150.3,1261.1 L1151.4,1261.9 L1152.5,1262.8 L1153.7,1263.9 L1154.9,1265.1 L1156.2,1266.4 L1157.4,1267.6 L1158.6,1268.9 L1159.9,1270.1 L1161.1,1271.2 L1162.2,1272.1 L1163.6,1273.2 L1164.9,1274.2 L1166.2,1275.2 L1167.5,1276.1 L1168.8,1276.9 L1170.0,1277.5 L1171.3,1277.9 L1172.6,1278.1 L1174.1,1278.0 L1175.6,1277.4 L1177.0,1276.7 L1178.5,1275.7 L1180.0,1274.8 L1181.5,1273.8 L1183.1,1273.0 L1184.5,1272.3 L1186.0,1271.6 L1187.6,1270.8 L1189.2,1270.0 L1190.7,1269.3 L1192.2,1268.8 L1193.6,1268.4 L1195.0,1268.2 L1196.6,1268.2 L1198.1,1268.4 L1199.5,1268.8 L1200.8,1269.6 L1202.3,1270.6 L1203.9,1272.1 L1204.7,1273.0 L1205.6,1273.9 L1206.4,1275.1 L1207.3,1276.3 L1208.3,1277.6 L1209.2,1278.9 L1210.1,1280.3 L1211.1,1281.7 L1212.0,1283.2 L1213.0,1284.6 L1213.9,1285.9 L1214.9,1287.3 L1215.8,1288.5 L1216.8,1289.8 L1217.9,1291.2 L1218.9,1292.6 L1220.0,1294.0 L1221.1,1295.3 L1222.1,1296.7 L1223.2,1298.0 L1224.2,1299.3 L1225.1,1300.4 L1226.1,1301.5 L1226.9,1302.5 L1227.7,1303.4 L1229.5,1305.3 L1230.7,1306.5 L1231.9,1307.3 L1233.7,1307.8 L1235.1,1308.0 L1236.8,1308.0 L1238.5,1307.9 L1240.4,1307.7 L1242.2,1307.6 L1244.0,1307.6 L1245.6,1307.8 L1247.2,1308.3 L1248.7,1309.1 L1250.1,1310.0 L1251.5,1310.9 L1253.0,1311.7 L1254.5,1312.3 L1255.9,1312.8 L1257.4,1313.5 L1259.0,1314.1 L1260.6,1314.6 L1262.1,1314.8 L1263.6,1314.6 L1264.9,1313.8 L1265.6,1313.1 L1266.3,1312.2 L1266.9,1311.1 L1267.6,1309.9 L1268.2,1308.5 L1268.7,1307.1 L1269.3,1305.6 L1269.9,1304.0 L1270.5,1302.3 L1271.1,1300.7 L1271.7,1299.0 L1272.4,1297.4 L1272.9,1296.2 L1273.4,1294.9 L1273.9,1293.5 L1274.5,1292.1 L1275.0,1290.7 L1275.5,1289.3 L1276.0,1287.8 L1276.6,1286.3 L1277.1,1284.9 L1277.7,1283.4 L1278.3,1281.9 L1278.8,1280.5 L1279.4,1279.1 L1280.0,1277.7 L1280.7,1276.4 L1281.3,1275.1 L1282.1,1273.7 L1282.8,1272.2 L1283.7,1270.8 L1284.5,1269.3 L1285.3,1267.9 L1286.2,1266.5 L1287.1,1265.1 L1287.9,1263.8 L1288.8,1262.5 L1289.7,1261.3 L1290.6,1260.2 L1291.5,1259.1 L1292.3,1258.1 L1293.2,1257.2 L1294.7,1255.8 L1296.2,1254.7 L1297.7,1253.7 L1299.1,1252.9 L1300.6,1252.3 L1302.1,1251.9 L1303.6,1251.5 L1305.1,1251.3 L1306.6,1251.1 L1308.1,1251.0 L1309.6,1251.0 L1311.0,1251.2 L1312.5,1251.5 L1314.0,1252.1 L1315.5,1253.0 L1317.0,1254.2 L1317.8,1255.0 L1318.6,1255.9 L1319.5,1257.0 L1320.3,1258.1 L1321.2,1259.3 L1322.0,1260.6 L1322.9,1261.9 L1323.7,1263.3 L1324.6,1264.7 L1325.4,1266.2 L1326.1,1267.7 L1326.9,1269.2 L1327.6,1270.7 L1328.3,1272.1 L1328.9,1273.6 L1329.4,1274.9 L1329.9,1276.2 L1330.4,1277.5 L1330.8,1278.8 L1331.2,1280.1 L1331.6,1281.4 L1331.9,1282.7 L1332.3,1284.1 L1332.6,1285.5 L1332.9,1287.0 L1333.2,1288.5 L1333.5,1290.1 L1333.9,1291.8 L1334.2,1293.5 L1334.5,1295.4 L1334.9,1297.4 L1335.1,1298.6 L1335.3,1299.9 L1335.5,1301.2 L1335.8,1302.5 L1336.0,1304.0 L1336.2,1305.4 L1336.4,1306.9 L1336.6,1308.4 L1336.9,1310.0 L1337.1,1311.6 L1337.3,1313.2 L1337.5,1314.8 L1337.7,1316.4 L1337.9,1318.1 L1338.2,1319.7 L1338.4,1321.3 L1338.6,1323.0 L1338.8,1324.6 L1339.0,1326.2 L1339.2,1327.7 L1339.4,1329.3 L1339.6,1330.8 L1339.8,1332.3 L1340.0,1333.8 L1340.2,1335.2 L1340.4,1336.5 L1340.6,1337.8 L1340.8,1339.1 L1341.1,1341.0 L1341.3,1342.7 L1341.6,1344.5 L1341.8,1346.1 L1342.0,1347.7 L1342.2,1349.2 L1342.4,1350.7 L1342.6,1352.2 L1342.8,1353.6 L1343.0,1355.0 L1343.2,1356.4 L1343.4,1357.7 L1343.7,1359.1 L1343.9,1360.4 L1344.2,1361.8 L1344.5,1363.1 L1344.9,1364.5 L1345.3,1365.9 L1345.7,1367.4 L1346.2,1368.8 L1346.6,1370.3 L1347.1,1371.7 L1347.6,1373.1 L1348.1,1374.5 L1348.6,1375.9 L1349.2,1377.3 L1349.8,1378.7 L1350.4,1380.0 L1351.0,1381.4 L1351.7,1382.8 L1352.4,1384.2 L1353.2,1385.5 L1354.0,1386.9 L1354.8,1388.3 L1355.7,1389.7 L1356.5,1390.8 L1357.3,1392.0 L1358.2,1393.2 L1359.2,1394.5 L1360.2,1395.7 L1361.3,1396.9 L1362.3,1398.2 L1363.4,1399.4 L1364.6,1400.7 L1365.7,1401.9 L1366.8,1403.1 L1367.9,1404.3 L1369.0,1405.5 L1370.1,1406.7 L1371.2,1407.8 L1372.2,1408.9 L1373.2,1409.9 L1374.2,1410.9 L1375.0,1411.8 L1375.9,1412.7 L1376.6,1413.5 L1378.3,1415.3 L1379.7,1416.6 L1380.8,1417.7 L1381.8,1418.5 L1382.7,1419.3 L1383.6,1420.1 L1384.5,1421.1 L1385.5,1422.4 L1386.3,1423.5 L1387.1,1424.5 L1387.9,1425.6 L1388.7,1426.7 L1389.5,1427.9 L1390.3,1429.2 L1391.2,1430.5 L1392.0,1432.0 L1392.8,1433.6 L1393.6,1435.4 L1394.4,1437.3 L1394.8,1438.5 L1395.3,1439.8 L1395.8,1441.1 L1396.2,1442.6 L1396.7,1444.1 L1397.1,1445.7 L1397.6,1447.3 L1398.0,1449.0 L1398.5,1450.7 L1399.0,1452.4 L1399.4,1454.1 L1399.9,1455.7 L1400.3,1457.4 L1400.8,1459.0 L1401.2,1460.5 L1401.7,1462.0 L1402.1,1463.4 L1402.5,1464.8 L1403.0,1466.0 L1403.4,1467.1 L1404.3,1469.3 L1405.2,1471.4 L1406.1,1473.3 L1407.0,1474.9 L1407.9,1476.3 L1408.7,1477.5 L1409.6,1478.4 L1410.4,1479.0 L1411.3,1479.3 L1412.2,1479.3 L1413.2,1478.9 L1414.1,1478.2 L1415.0,1477.1 L1415.9,1475.8 L1416.8,1474.1 L1417.8,1472.1 L1418.8,1469.9 L1419.3,1468.9 L1419.7,1467.7 L1420.2,1466.4 L1420.7,1465.1 L1421.2,1463.7 L1421.8,1462.2 L1422.3,1460.7 L1422.8,1459.1 L1423.3,1457.5 L1423.9,1455.9 L1424.4,1454.2 L1424.9,1452.5 L1425.4,1450.9 L1425.9,1449.3 L1426.4,1447.6 L1426.9,1446.0 L1427.4,1444.5 L1427.8,1443.0 L1428.2,1441.6 L1428.7,1440.0 L1429.1,1438.4 L1429.5,1436.9 L1429.9,1435.4 L1430.3,1434.0 L1430.6,1432.6 L1431.0,1431.2 L1431.3,1429.8 L1431.6,1428.3 L1431.9,1426.9 L1432.3,1425.4 L1432.6,1423.9 L1432.9,1422.3 L1433.2,1420.7 L1433.6,1419.0 L1433.9,1417.2 L1434.2,1415.8 L1434.4,1414.4 L1434.7,1413.0 L1434.9,1411.5 L1435.2,1410.0 L1435.4,1408.4 L1435.7,1406.9 L1435.9,1405.3 L1436.2,1403.6 L1436.4,1402.0 L1436.7,1400.4 L1437.0,1398.7 L1437.2,1397.1 L1437.5,1395.5 L1437.7,1393.9 L1438.0,1392.3 L1438.2,1390.7 L1438.5,1389.1 L1438.7,1387.6 L1439.0,1386.1 L1439.2,1384.7 L1439.5,1383.3 L1439.8,1381.6 L1440.1,1380.0 L1440.5,1378.4 L1440.8,1376.7 L1441.1,1375.2 L1441.4,1373.6 L1441.8,1372.1 L1442.1,1370.5 L1442.4,1369.0 L1442.7,1367.6 L1443.1,1366.1 L1443.4,1364.7 L1443.7,1363.3 L1444.0,1362.0 L1444.3,1360.7 L1444.6,1359.4 L1444.9,1358.1 L1445.2,1356.9 L1445.7,1355.0 L1446.1,1353.1 L1446.5,1351.3 L1446.9,1349.5 L1447.3,1347.8 L1447.7,1346.3 L1448.1,1344.8 L1448.5,1343.4 L1448.9,1342.1 L1449.4,1340.9 L1449.9,1339.9 L1451.1,1338.2 L1452.4,1337.1 L1453.7,1336.5 L1455.1,1335.9 L1456.5,1335.2 L1457.9,1334.4 L1459.4,1333.6 L1460.9,1332.9 L1462.5,1331.9 L1464.0,1330.5 L1464.8,1329.6 L1465.7,1328.5 L1466.5,1327.4 L1467.4,1326.1 L1468.2,1324.8 L1469.1,1323.5 L1469.9,1322.1 L1470.8,1320.7 L1471.6,1319.2 L1472.3,1318.0 L1473.0,1316.7 L1473.7,1315.3 L1474.3,1313.9 L1475.0,1312.5 L1475.7,1311.1 L1476.4,1309.7 L1477.1,1308.3 L1477.7,1306.9 L1478.4,1305.5 L1479.1,1304.2 L1479.9,1302.8 L1480.6,1301.4 L1481.4,1300.0 L1482.2,1298.7 L1483.0,1297.3 L1483.7,1296.0 L1484.5,1294.7 L1485.2,1293.4 L1485.9,1292.2 L1486.6,1291.0 L1487.5,1289.2 L1488.4,1287.4 L1489.3,1285.6 L1490.1,1283.9 L1490.9,1282.4 L1491.6,1281.3 L1492.3,1280.6 L1493.7,1280.7 L1494.9,1282.4 L1496.0,1285.3 L1496.4,1286.6 L1496.7,1288.3 L1497.1,1290.4 L1497.4,1292.6 L1497.8,1294.8 L1498.1,1296.8 L1498.5,1298.6 L1498.8,1299.9 L1499.1,1300.5 L1499.4,1300.4 L1499.6,1299.9 L1499.7,1299.1 L1499.9,1298.0 L1500.0,1296.6 L1500.1,1295.1 L1500.2,1293.4 L1500.4,1291.5 L1500.5,1289.6 L1500.6,1287.6 L1500.7,1285.6 L1500.8,1283.6 L1500.9,1281.6 L1501.1,1279.8 L1501.2,1278.1 L1501.4,1276.5 L1501.5,1275.1 L1501.7,1274.0 L1502.3,1271.2 L1503.0,1269.5 L1503.8,1268.3 L1504.6,1267.5 L1505.5,1266.5 L1506.8,1265.1 L1508.2,1263.8 L1509.7,1262.9 L1511.1,1262.7 L1512.2,1263.1 L1513.3,1263.9 L1514.4,1265.1 L1515.5,1266.6 L1516.8,1268.4 L1517.5,1269.5 L1518.2,1270.7 L1519.0,1272.0 L1519.8,1273.5 L1520.6,1275.0 L1521.4,1276.5 L1522.1,1278.0 L1522.9,1279.3 L1523.6,1280.6 L1524.3,1281.6 L1525.5,1283.3 L1526.7,1284.7 L1527.7,1285.7 L1528.8,1286.6 L1529.9,1287.2 L1531.7,1287.9 L1533.4,1287.9 L1535.6,1287.2 L1536.8,1286.5 L1538.1,1285.5 L1539.6,1284.2 L1541.0,1283.0 L1542.5,1281.9 L1543.8,1281.0 L1545.0,1280.6 L1546.7,1280.6 L1548.1,1281.2 L1549.4,1282.7 L1550.7,1285.3 L1551.1,1286.3 L1551.5,1287.5 L1551.9,1288.9 L1552.3,1290.4 L1552.6,1292.0 L1553.0,1293.6 L1553.4,1295.3 L1553.8,1297.1 L1554.2,1298.8 L1554.6,1300.4 L1555.0,1302.0 L1555.4,1303.5 L1555.8,1304.8 L1556.3,1306.0 L1557.2,1307.7 L1558.1,1309.1 L1559.1,1310.3 L1560.2,1311.3 L1561.2,1312.3 L1562.1,1313.3 L1563.0,1314.3 L1563.8,1315.5 L1564.5,1317.0 L1565.1,1318.6 L1565.5,1320.2 L1566.0,1321.8 L1566.4,1323.5 L1566.9,1325.1 L1567.6,1326.8 L1568.2,1328.2 L1568.9,1329.7 L1569.6,1331.3 L1570.3,1332.9 L1571.1,1334.5 L1571.9,1335.9 L1572.7,1337.2 L1573.5,1338.3 L1574.2,1339.0 L1575.9,1339.2 L1577.6,1338.2 L1579.2,1337.0 L1580.8,1337.1 L1581.7,1337.9 L1582.5,1339.1 L1583.3,1340.5 L1584.0,1342.2 L1584.8,1344.0 L1585.6,1345.8 L1586.4,1347.5 L1587.0,1348.8 L1587.7,1350.1 L1588.3,1351.5 L1589.0,1352.9 L1589.6,1354.3 L1590.3,1355.8 L1590.9,1357.3 L1591.5,1359.0 L1592.1,1360.7 L1592.5,1362.1 L1593.0,1363.7 L1593.4,1365.4 L1593.8,1367.1 L1594.2,1368.9 L1594.6,1370.8 L1595.0,1372.5 L1595.4,1374.2 L1595.8,1375.8 L1596.1,1377.2 L1596.5,1378.5 L1596.8,1379.5 L1597.9,1382.8 L1599.6,1382.3 L1600.3,1381.6 L1601.0,1380.5 L1601.8,1379.0 L1602.7,1377.4 L1603.7,1375.7 L1604.7,1374.1 L1605.8,1372.6 L1606.8,1371.3 L1607.9,1370.5 L1609.0,1370.1 L1610.1,1370.2 L1611.3,1370.7 L1612.5,1371.6 L1613.7,1372.6 L1615.0,1373.9 L1616.2,1375.3 L1617.5,1376.7 L1618.8,1378.0 L1620.1,1379.3 L1621.3,1380.4 L1622.5,1381.5 L1623.8,1382.9 L1625.1,1384.3 L1626.3,1385.8 L1627.6,1387.2 L1628.8,1388.5 L1630.0,1389.4 L1631.2,1390.0 L1632.4,1390.2 L1633.5,1389.8 L1634.2,1389.2 L1634.8,1388.4 L1635.4,1387.3 L1636.0,1386.0 L1636.6,1384.5 L1637.2,1382.9 L1637.8,1381.2 L1638.4,1379.4 L1638.9,1377.6 L1639.5,1375.7 L1640.0,1373.9 L1640.6,1372.2 L1641.2,1370.5 L1641.7,1368.9 L1642.3,1367.5 L1642.9,1366.3 L1643.9,1364.5 L1644.9,1362.8 L1645.9,1361.1 L1646.9,1359.5 L1647.9,1358.1 L1648.9,1356.8 L1649.8,1355.8 L1650.7,1354.9 L1651.6,1354.4 L1652.4,1354.1 L1653.4,1354.2 L1654.2,1354.7 L1655.0,1355.6 L1655.7,1357.0 L1656.4,1358.9 L1657.1,1361.4 L1658.0,1364.4 L1658.3,1365.4 L1658.6,1366.6 L1658.8,1367.8 L1659.1,1369.1 L1659.4,1370.5 L1659.7,1372.0 L1660.0,1373.6 L1660.4,1375.2 L1660.7,1376.9 L1661.0,1378.6 L1661.3,1380.3 L1661.6,1382.0 L1661.9,1383.7 L1662.3,1385.5 L1662.6,1387.2 L1662.9,1388.9 L1663.2,1390.5 L1663.6,1392.1 L1663.9,1393.7 L1664.2,1395.1 L1664.5,1396.5 L1664.9,1397.9 L1665.2,1399.1 L1665.5,1400.2 L1666.2,1402.4 L1666.9,1404.4 L1667.6,1406.2 L1668.3,1407.8 L1669.0,1409.2 L1669.6,1410.5 L1670.3,1411.7 L1671.0,1412.7 L1671.7,1413.6 L1672.4,1414.5 L1673.1,1415.3 L1674.6,1416.8 L1676.1,1417.9 L1677.6,1418.4 L1679.1,1418.2 L1680.6,1417.2 L1681.2,1416.4 L1681.8,1415.4 L1682.5,1414.1 L1683.1,1412.7 L1683.7,1411.1 L1684.3,1409.4 L1685.0,1407.7 L1685.6,1406.0 L1686.2,1404.4 L1686.8,1402.8 L1687.5,1401.4 L1688.1,1400.2 L1689.1,1398.6 L1690.0,1397.1 L1691.0,1395.7 L1692.0,1394.4 L1692.9,1393.2 L1693.9,1392.2 L1694.8,1391.4 L1695.7,1390.8 L1697.6,1390.3 L1699.5,1390.7 L1701.1,1391.3 L1702.3,1391.7" fill="none" stroke="#ff0000" stroke-width="3.3" stroke-linejoin="round" stroke-linecap="round"/>
<path d="M157.3,1579.5 L158.1,1579.5 L159.1,1579.5 L160.2,1579.2 L161.3,1579.9 L162.6,1579.1 L164.0,1579.7 L165.5,1579.1 L167.0,1579.2 L168.6,1580.0 L170.3,1579.2 L171.9,1579.6 L173.7,1579.4 L175.4,1579.4 L177.2,1579.4 L179.0,1579.1 L180.8,1579.8 L182.5,1579.0 L184.3,1579.1 L186.0,1578.9 L187.6,1579.1 L189.2,1579.2 L190.8,1578.0 L192.3,1578.4 L193.7,1581.2 L195.4,1579.9 L197.0,1576.7 L198.6,1577.0 L200.1,1580.0 L201.6,1581.0 L203.1,1581.7 L204.5,1577.3 L205.9,1576.3 L207.4,1578.2 L208.8,1579.1 L210.2,1580.0 L211.6,1577.6 L213.1,1575.9 L214.6,1576.9 L216.2,1577.8 L217.8,1579.8 L219.4,1578.3 L221.1,1574.9 L222.9,1575.5 L224.3,1576.4 L225.7,1579.2 L227.1,1578.7 L228.6,1575.3 L230.1,1574.2 L231.6,1575.2 L233.2,1578.8 L234.8,1577.7 L236.4,1577.2 L238.0,1573.2 L239.7,1574.9 L241.3,1577.9 L243.0,1577.9 L244.6,1574.6 L246.3,1572.6 L247.9,1575.1 L249.5,1577.9 L251.1,1576.7 L252.7,1574.5 L254.3,1572.3 L255.8,1575.0 L257.3,1577.2 L258.8,1577.7 L260.2,1575.4 L261.6,1573.4 L263.0,1573.9 L264.8,1576.0 L266.6,1575.7 L268.4,1575.0 L270.2,1571.9 L272.0,1573.1 L273.8,1577.0 L275.5,1576.3 L277.2,1572.2 L278.8,1572.3 L280.5,1574.7 L282.0,1576.9 L283.5,1576.8 L285.0,1572.7 L286.3,1572.3 L287.6,1573.7 L288.8,1577.9 L290.0,1578.3 L291.0,1577.8 L292.0,1576.2 L294.0,1574.0 L295.3,1578.7 L295.9,1580.7 L296.3,1582.4 L296.6,1584.3 L296.9,1585.8 L297.6,1586.1 L299.4,1586.9 L301.4,1587.0 L303.3,1587.8 L304.9,1587.1 L305.6,1589.6 L306.2,1591.0 L306.6,1592.0 L307.1,1594.2 L307.5,1596.8 L308.0,1597.9 L308.6,1597.8 L310.3,1599.7 L312.3,1597.5 L314.0,1598.0 L315.0,1600.6 L315.8,1601.9 L316.7,1602.5 L317.7,1604.2 L318.6,1606.3 L319.6,1608.2 L320.6,1609.1 L321.8,1611.0 L323.1,1611.6 L324.4,1612.7 L326.0,1613.0 L327.6,1613.1 L329.3,1614.0 L330.8,1614.8 L332.2,1615.7 L333.8,1617.5 L335.1,1617.2 L336.3,1617.8 L337.7,1620.8 L338.7,1620.7 L339.7,1622.1 L340.8,1622.5 L342.0,1625.4 L343.3,1625.4 L345.0,1627.2 L345.9,1628.3 L347.0,1629.0 L348.1,1630.4 L349.2,1630.9 L350.4,1631.8 L351.6,1633.3 L352.9,1634.2 L354.2,1635.2 L355.5,1635.8 L356.9,1637.4 L358.2,1638.3 L359.6,1639.6 L360.7,1640.1 L361.8,1641.4 L363.0,1642.4 L364.2,1643.0 L365.4,1644.3 L366.6,1645.4 L367.9,1646.6 L369.1,1647.6 L370.3,1648.6 L371.6,1649.0 L372.9,1650.4 L374.1,1651.4 L375.3,1651.9 L376.6,1653.1 L377.8,1654.2 L379.2,1655.1 L380.7,1656.0 L382.2,1656.2 L383.7,1657.5 L385.2,1658.5 L386.7,1659.1 L388.2,1659.5 L389.7,1660.0 L391.1,1661.3 L392.4,1661.9 L393.7,1662.2 L394.9,1662.5 L396.0,1663.3 L398.0,1663.9 L399.5,1664.1 L400.8,1664.1 L402.1,1663.8 L403.5,1663.7 L405.2,1663.8 L406.6,1663.8 L408.1,1664.1 L409.7,1663.8 L411.4,1664.4 L413.1,1664.1 L414.8,1664.0 L416.5,1664.0 L418.1,1664.0 L419.7,1663.8 L421.2,1663.8 L422.6,1662.9 L423.9,1662.5 L425.2,1662.0 L426.6,1661.3 L427.9,1661.2 L429.4,1660.1 L430.9,1659.5 L432.5,1659.3 L433.7,1659.1 L434.9,1658.8 L436.0,1658.3 L437.1,1657.8 L438.3,1657.9 L439.5,1657.4 L440.9,1656.8 L442.3,1656.5 L443.9,1656.5 L445.7,1656.1 L447.7,1655.6 L450.0,1654.5 L451.1,1654.5 L452.2,1654.3 L453.3,1653.9 L454.4,1654.2 L455.6,1653.5 L456.8,1654.0 L458.0,1653.6 L459.2,1653.5 L460.5,1653.2 L461.8,1653.4 L463.1,1653.0 L464.5,1653.0 L465.9,1652.9 L467.4,1652.5 L468.8,1652.5 L470.4,1651.9 L471.9,1651.5 L473.5,1651.6 L475.2,1651.1 L476.9,1650.6 L478.6,1650.6 L480.4,1650.0 L482.3,1649.3 L484.2,1649.5 L486.1,1648.7 L488.1,1648.6 L490.2,1647.7 L491.3,1647.7 L492.5,1646.9 L493.6,1646.5 L494.8,1646.4 L496.0,1646.3 L497.3,1645.9 L498.5,1645.4 L499.8,1644.6 L501.1,1644.4 L502.4,1643.7 L503.8,1643.6 L505.1,1643.6 L506.5,1642.7 L507.8,1642.5 L509.2,1642.0 L510.7,1641.2 L512.1,1641.1 L513.5,1640.2 L515.0,1639.8 L516.4,1639.6 L517.9,1638.8 L519.4,1638.9 L520.9,1638.0 L522.3,1637.7 L523.9,1637.4 L525.4,1636.3 L526.9,1636.5 L528.4,1635.2 L529.9,1635.1 L531.5,1634.6 L533.0,1634.4 L534.5,1633.4 L536.1,1633.3 L537.6,1632.6 L539.1,1632.0 L540.7,1631.2 L542.2,1630.7 L543.7,1630.3 L545.3,1629.8 L546.8,1629.4 L548.3,1629.2 L549.8,1628.4 L551.3,1628.1 L552.8,1627.2 L554.3,1626.8 L555.8,1626.8 L557.3,1626.5 L558.8,1625.5 L560.2,1624.9 L561.7,1624.6 L563.1,1624.3 L564.6,1623.9 L566.0,1623.6 L567.5,1623.0 L569.0,1622.8 L570.5,1622.5 L572.0,1622.1 L573.5,1621.6 L575.0,1621.0 L576.5,1620.4 L578.1,1620.4 L579.6,1619.5 L581.1,1619.6 L582.7,1618.8 L584.2,1618.5 L585.7,1618.0 L587.3,1617.7 L588.8,1617.0 L590.4,1616.8 L591.9,1616.5 L593.4,1615.8 L595.0,1615.6 L596.5,1615.0 L598.0,1614.6 L599.5,1614.2 L601.1,1613.9 L602.6,1613.6 L604.1,1612.8 L605.6,1612.4 L607.1,1612.5 L608.6,1611.6 L610.1,1611.7 L611.5,1611.3 L613.0,1610.5 L614.5,1610.5 L615.9,1609.8 L617.4,1609.9 L618.8,1609.0 L620.2,1608.6 L621.6,1608.2 L623.0,1608.4 L624.3,1607.6 L625.7,1607.4 L627.1,1607.6 L628.4,1607.0 L629.7,1606.7 L631.0,1606.3 L632.3,1606.0 L633.5,1605.2 L634.8,1605.5 L636.0,1604.9 L637.8,1604.8 L639.5,1604.1 L641.1,1604.1 L642.7,1603.0 L644.2,1603.4 L645.7,1602.3 L647.0,1602.3 L648.4,1601.9 L649.7,1602.0 L651.0,1601.5 L652.2,1601.4 L653.4,1601.0 L654.6,1600.3 L655.8,1599.8 L657.0,1599.6 L658.2,1599.7 L659.4,1599.7 L660.6,1599.2 L661.8,1598.7 L663.1,1598.6 L664.4,1598.4 L665.7,1597.8 L667.1,1597.9 L668.5,1597.3 L670.0,1596.9 L671.5,1596.7 L673.1,1596.8 L674.8,1596.7 L676.6,1596.1 L678.4,1595.9 L680.4,1595.9 L682.4,1595.3 L684.6,1595.2 L685.7,1595.1 L686.9,1594.8 L688.1,1594.5 L689.3,1594.8 L690.6,1594.6 L691.8,1594.1 L693.1,1594.4 L694.5,1594.2 L695.8,1594.2 L697.2,1594.0 L698.6,1593.6 L700.0,1593.6 L701.4,1593.2 L702.8,1593.3 L704.3,1592.7 L705.8,1592.8 L707.3,1592.8 L708.8,1592.9 L710.3,1592.6 L711.9,1592.6 L713.4,1592.5 L715.0,1592.4 L716.6,1592.0 L718.2,1591.8 L719.8,1591.6 L721.4,1591.2 L723.0,1591.6 L724.6,1591.3 L726.2,1590.8 L727.9,1590.7 L729.5,1590.5 L731.2,1590.8 L732.8,1590.6 L734.5,1590.1 L736.1,1590.3 L737.7,1590.1 L739.4,1589.7 L741.0,1589.7 L742.7,1590.0 L744.3,1589.2 L746.0,1589.2 L747.6,1589.3 L749.2,1589.4 L750.8,1589.3 L752.4,1588.8 L754.0,1588.9 L755.6,1588.3 L757.2,1588.4 L758.8,1588.6 L760.4,1588.4 L761.9,1588.1 L763.4,1588.1 L765.0,1587.8 L766.5,1587.8 L768.0,1587.9 L769.4,1587.9 L770.9,1587.1 L772.3,1587.5 L773.7,1587.5 L775.1,1587.1 L776.5,1586.9 L777.9,1586.7 L779.2,1586.7 L780.5,1586.7 L781.8,1586.6 L783.6,1586.0 L785.5,1586.6 L787.3,1585.9 L789.1,1585.9 L791.0,1585.5 L792.8,1585.7 L794.6,1585.1 L796.4,1585.1 L798.2,1585.0 L800.0,1584.8 L801.7,1584.8 L803.5,1584.4 L805.3,1584.5 L807.0,1584.6 L808.7,1584.3 L810.4,1584.5 L812.1,1584.3 L813.8,1583.8 L815.5,1583.6 L817.1,1583.7 L818.8,1583.7 L820.4,1583.3 L822.0,1583.3 L823.5,1583.2 L825.1,1582.9 L826.6,1582.8 L828.1,1582.6 L829.6,1582.5 L831.0,1582.4 L832.4,1582.6 L833.8,1582.0 L835.2,1581.9 L836.5,1582.4 L837.8,1582.0 L839.1,1582.1 L840.3,1582.2 L841.5,1582.0 L842.7,1581.8 L843.8,1582.1 L844.9,1581.8 L846.0,1581.6 L847.0,1581.4 L848.0,1581.3 L849.0,1581.8 L849.9,1581.9 L854.1,1581.7 L856.8,1582.4 L858.4,1583.2 L859.2,1584.0 L859.6,1584.7 L860.0,1586.0 L860.7,1586.3 L862.1,1586.7 L863.3,1586.7 L864.4,1586.3 L865.4,1586.4 L866.5,1585.7 L867.5,1585.6 L868.7,1585.3 L870.1,1584.8 L871.8,1584.1 L873.8,1583.6 L876.2,1583.2 L879.0,1582.8 L880.0,1582.7 L881.1,1582.9 L882.2,1582.8 L883.4,1582.8 L884.6,1582.5 L885.9,1582.6 L887.1,1581.9 L888.5,1582.0 L889.8,1581.7 L891.2,1581.9 L892.7,1581.8 L894.1,1581.7 L895.6,1581.5 L897.1,1581.3 L898.7,1581.1 L900.3,1580.8 L901.8,1580.8 L903.4,1580.9 L905.1,1580.8 L906.7,1580.3 L908.3,1580.8 L910.0,1580.0 L911.7,1580.0 L913.3,1580.1 L915.0,1579.9 L916.7,1579.9 L918.4,1579.9 L920.1,1579.7 L921.7,1579.7 L923.4,1579.4 L925.1,1579.4 L926.7,1579.1 L928.4,1578.7 L930.0,1578.6 L931.4,1578.5 L932.9,1578.6 L934.3,1578.4 L935.8,1578.5 L937.2,1578.5 L938.7,1578.6 L940.2,1577.9 L941.7,1578.5 L943.1,1577.6 L944.7,1578.2 L946.2,1578.2 L947.7,1577.6 L949.2,1577.8 L950.7,1577.5 L952.3,1577.5 L953.8,1577.6 L955.3,1577.6 L956.9,1576.9 L958.4,1576.8 L960.0,1577.2 L961.5,1576.9 L963.1,1577.0 L964.7,1576.4 L966.2,1576.8 L967.8,1576.2 L969.3,1576.0 L970.9,1576.1 L972.5,1576.5 L974.0,1575.9 L975.6,1575.9 L977.1,1575.7 L978.7,1575.4 L980.3,1575.6 L981.8,1575.5 L983.4,1575.3 L984.9,1575.5 L986.4,1575.1 L988.0,1575.5 L989.5,1575.3 L991.0,1575.0 L992.6,1574.5 L994.1,1574.7 L995.7,1574.7 L997.2,1574.6 L998.8,1574.3 L1000.3,1574.4 L1001.9,1574.5 L1003.5,1574.2 L1005.1,1573.5 L1006.6,1573.9 L1008.2,1573.8 L1009.8,1573.6 L1011.4,1573.8 L1013.0,1572.9 L1014.5,1572.8 L1016.1,1573.3 L1017.7,1572.6 L1019.3,1572.5 L1020.8,1573.0 L1022.4,1572.5 L1023.9,1572.8 L1025.5,1572.6 L1027.0,1572.4 L1028.6,1572.0 L1030.1,1571.7 L1031.6,1572.3 L1033.2,1572.1 L1034.7,1572.0 L1036.2,1571.6 L1037.7,1571.3 L1039.1,1571.5 L1040.6,1571.2 L1042.0,1570.9 L1043.5,1570.7 L1044.9,1570.8 L1046.3,1570.5 L1047.7,1570.5 L1049.1,1571.0 L1050.8,1570.8 L1052.5,1570.6 L1054.2,1570.2 L1055.9,1570.3 L1057.6,1569.7 L1059.2,1569.9 L1060.9,1570.1 L1062.5,1569.8 L1064.2,1569.8 L1065.8,1569.4 L1067.4,1569.0 L1068.9,1568.6 L1070.5,1568.7 L1072.1,1569.0 L1073.6,1568.7 L1075.2,1568.6 L1076.7,1568.6 L1078.2,1568.1 L1079.7,1567.9 L1081.2,1568.4 L1082.6,1568.0 L1084.1,1567.4 L1085.6,1567.9 L1087.0,1567.8 L1088.4,1567.7 L1089.8,1567.1 L1091.2,1567.1 L1092.6,1567.4 L1094.0,1567.3 L1095.4,1567.0 L1096.7,1567.4 L1098.5,1566.7 L1100.3,1567.1 L1102.2,1566.4 L1104.0,1566.5 L1105.8,1566.8 L1107.6,1566.5 L1109.4,1566.4 L1111.2,1566.4 L1112.9,1566.1 L1114.6,1566.0 L1116.3,1566.1 L1118.0,1565.8 L1119.6,1566.1 L1121.1,1565.9 L1122.6,1565.2 L1124.1,1565.4 L1125.5,1565.9 L1126.8,1565.3 L1128.1,1565.3 L1129.3,1565.8 L1130.4,1566.0 L1131.4,1566.3 L1132.4,1566.5 L1135.1,1567.1 L1136.6,1568.4 L1137.3,1569.8 L1137.5,1571.7 L1137.7,1573.2 L1138.4,1574.1 L1139.6,1576.0 L1140.7,1577.2 L1141.9,1578.9 L1143.1,1579.9 L1144.4,1580.7 L1145.6,1579.7 L1146.8,1578.7 L1148.0,1577.3 L1149.3,1575.5 L1150.6,1574.4 L1151.8,1573.6 L1153.3,1573.9 L1154.7,1574.4 L1156.1,1575.0 L1157.6,1576.4 L1159.2,1577.4 L1160.2,1578.5 L1161.2,1579.0 L1162.3,1580.5 L1163.3,1581.7 L1164.4,1583.5 L1165.5,1584.5 L1166.5,1585.7 L1167.4,1587.0 L1168.2,1588.2 L1169.6,1589.8 L1170.5,1591.1 L1171.4,1592.0 L1172.6,1592.5 L1173.8,1592.5 L1175.2,1592.3 L1176.6,1591.8 L1178.3,1590.8 L1180.1,1589.2 L1180.8,1588.5 L1181.6,1587.7 L1182.4,1586.0 L1183.2,1584.9 L1184.0,1583.4 L1184.9,1582.1 L1185.8,1580.3 L1186.7,1579.2 L1187.6,1577.9 L1188.5,1576.5 L1189.4,1574.7 L1190.3,1573.3 L1191.1,1572.6 L1192.0,1571.6 L1193.3,1569.9 L1194.4,1568.7 L1195.5,1568.2 L1196.6,1567.2 L1197.8,1566.6 L1199.1,1566.0 L1200.5,1565.6 L1202.1,1564.4 L1203.9,1563.8 L1205.1,1563.2 L1206.3,1563.3 L1207.6,1562.4 L1209.0,1562.7 L1210.5,1562.1 L1212.0,1561.6 L1213.5,1561.0 L1215.1,1561.1 L1216.6,1560.2 L1218.3,1560.2 L1219.9,1560.0 L1221.5,1559.5 L1223.1,1558.7 L1224.6,1558.4 L1226.2,1558.2 L1227.7,1558.3 L1229.2,1557.5 L1230.7,1557.9 L1232.1,1557.5 L1233.6,1557.0 L1235.0,1556.9 L1236.5,1556.5 L1238.0,1555.8 L1239.4,1555.8 L1240.9,1555.2 L1242.4,1555.3 L1243.8,1555.5 L1245.3,1554.9 L1246.9,1554.9 L1248.4,1554.4 L1249.9,1554.5 L1251.5,1554.1 L1253.0,1554.4 L1254.6,1553.8 L1256.3,1553.6 L1258.0,1553.6 L1259.8,1553.2 L1261.5,1553.2 L1263.3,1553.5 L1265.0,1553.1 L1266.8,1553.0 L1268.5,1552.8 L1270.1,1553.2 L1271.7,1553.2 L1273.3,1552.8 L1274.7,1552.5 L1276.0,1552.8 L1277.2,1553.2 L1278.3,1553.1 L1281.0,1553.3 L1282.7,1554.1 L1283.7,1555.8 L1284.6,1555.9 L1285.8,1556.7 L1287.2,1556.4 L1288.6,1555.3 L1289.9,1554.5 L1291.4,1554.0 L1293.2,1553.4 L1294.7,1552.4 L1296.3,1552.1 L1298.0,1552.0 L1299.8,1551.7 L1301.6,1552.3 L1303.4,1551.7 L1305.1,1552.0 L1306.6,1552.5 L1308.1,1552.4 L1309.7,1552.4 L1311.2,1552.5 L1312.7,1553.0 L1314.2,1553.6 L1315.7,1554.6 L1317.0,1555.0 L1318.2,1556.0 L1319.3,1556.7 L1320.4,1557.9 L1321.5,1559.5 L1322.5,1560.1 L1323.5,1561.8 L1324.4,1562.8 L1325.2,1564.2 L1326.0,1565.7 L1326.7,1566.6 L1327.3,1567.9 L1327.8,1568.9 L1328.3,1570.0 L1328.7,1570.9 L1329.1,1572.7 L1329.5,1574.6 L1330.0,1577.0 L1330.2,1578.2 L1330.4,1579.4 L1330.7,1580.6 L1330.9,1581.9 L1331.1,1583.2 L1331.4,1584.6 L1331.6,1586.0 L1331.8,1587.5 L1332.1,1589.0 L1332.3,1590.6 L1332.5,1592.2 L1332.8,1593.9 L1333.0,1595.6 L1333.3,1597.3 L1333.5,1599.0 L1333.7,1600.8 L1334.0,1602.5 L1334.2,1604.3 L1334.5,1606.2 L1334.7,1608.0 L1334.9,1609.3 L1335.0,1610.7 L1335.2,1612.1 L1335.4,1613.6 L1335.6,1615.1 L1335.7,1616.6 L1335.9,1618.2 L1336.1,1619.7 L1336.3,1621.3 L1336.5,1622.9 L1336.6,1624.6 L1336.8,1626.2 L1337.0,1627.8 L1337.2,1629.5 L1337.4,1631.1 L1337.5,1632.7 L1337.7,1634.3 L1337.9,1636.0 L1338.0,1637.5 L1338.2,1639.1 L1338.4,1640.7 L1338.6,1642.2 L1338.7,1643.7 L1338.9,1645.2 L1339.0,1646.6 L1339.2,1648.0 L1339.4,1649.3 L1339.5,1650.6 L1339.7,1652.5 L1339.9,1654.3 L1340.1,1656.1 L1340.3,1658.0 L1340.5,1659.7 L1340.6,1661.5 L1340.8,1663.2 L1340.9,1664.9 L1341.1,1666.5 L1341.3,1668.1 L1341.4,1669.6 L1341.6,1671.0 L1341.8,1672.4 L1341.9,1673.7 L1342.1,1674.9 L1342.3,1676.1 L1342.5,1677.2 L1342.8,1678.1 L1343.0,1679.0 L1344.2,1681.5 L1345.6,1681.9 L1347.2,1681.6 L1349.0,1681.9 L1350.1,1682.5 L1351.4,1683.1 L1352.7,1683.8 L1354.0,1684.6 L1355.4,1685.4 L1356.9,1686.3 L1358.4,1687.3 L1359.5,1688.1 L1360.6,1689.0 L1361.8,1690.0 L1363.0,1691.0 L1364.2,1692.0 L1365.4,1693.1 L1366.7,1694.1 L1367.9,1695.1 L1369.1,1696.0 L1370.3,1696.8 L1371.8,1697.7 L1373.3,1698.4 L1374.9,1699.0 L1376.4,1699.6 L1377.9,1700.2 L1379.4,1700.9 L1380.8,1701.7 L1382.1,1702.7 L1383.2,1703.7 L1384.2,1704.9 L1385.3,1706.0 L1386.2,1707.3 L1387.1,1708.7 L1388.0,1710.1 L1388.9,1711.5 L1389.7,1713.0 L1390.4,1714.6 L1391.0,1715.9 L1391.5,1717.2 L1392.0,1718.5 L1392.4,1719.9 L1392.8,1721.3 L1393.2,1722.8 L1393.6,1724.3 L1394.0,1725.9 L1394.4,1727.5 L1394.8,1729.3 L1395.2,1731.2 L1395.5,1732.5 L1395.8,1733.9 L1396.0,1735.3 L1396.3,1736.9 L1396.6,1738.4 L1396.9,1740.1 L1397.1,1741.7 L1397.4,1743.4 L1397.7,1745.0 L1398.0,1746.7 L1398.2,1748.3 L1398.5,1750.0 L1398.8,1751.5 L1399.1,1753.1 L1399.3,1754.5 L1399.6,1755.9 L1399.9,1757.2 L1400.3,1759.1 L1400.7,1760.9 L1401.1,1762.7 L1401.6,1764.3 L1402.0,1765.9 L1402.4,1767.4 L1402.8,1768.9 L1403.2,1770.2 L1403.7,1771.5 L1404.1,1772.7 L1404.6,1773.8 L1405.5,1775.7 L1406.5,1777.5 L1407.5,1779.0 L1408.5,1780.1 L1409.5,1780.8 L1410.6,1780.9 L1411.6,1780.6 L1412.5,1779.9 L1413.6,1778.9 L1414.6,1777.5 L1415.6,1775.8 L1416.7,1773.8 L1417.7,1771.4 L1418.1,1770.3 L1418.5,1769.2 L1419.0,1768.1 L1419.4,1766.9 L1419.8,1765.6 L1420.2,1764.3 L1420.6,1762.9 L1421.0,1761.5 L1421.5,1760.0 L1421.9,1758.5 L1422.3,1756.8 L1422.7,1755.1 L1423.1,1753.3 L1423.5,1751.5 L1424.0,1749.5 L1424.4,1747.5 L1424.8,1745.4 L1425.0,1744.2 L1425.3,1742.9 L1425.5,1741.7 L1425.7,1740.3 L1425.9,1739.0 L1426.2,1737.6 L1426.4,1736.1 L1426.6,1734.7 L1426.9,1733.2 L1427.1,1731.7 L1427.3,1730.2 L1427.5,1728.6 L1427.8,1727.0 L1428.0,1725.4 L1428.2,1723.8 L1428.5,1722.2 L1428.7,1720.6 L1428.9,1719.0 L1429.2,1717.3 L1429.4,1715.7 L1429.6,1714.0 L1429.8,1712.4 L1430.1,1710.8 L1430.3,1709.1 L1430.5,1707.5 L1430.8,1705.9 L1431.0,1704.3 L1431.2,1702.7 L1431.4,1701.1 L1431.7,1699.5 L1431.9,1698.0 L1432.1,1696.5 L1432.4,1694.9 L1432.6,1693.3 L1432.8,1691.7 L1433.1,1690.1 L1433.3,1688.4 L1433.6,1686.8 L1433.8,1685.1 L1434.0,1683.4 L1434.3,1681.8 L1434.5,1680.1 L1434.8,1678.4 L1435.0,1676.8 L1435.3,1675.1 L1435.5,1673.4 L1435.7,1671.8 L1436.0,1670.2 L1436.2,1668.6 L1436.4,1667.0 L1436.7,1665.4 L1436.9,1663.9 L1437.1,1662.4 L1437.4,1660.9 L1437.6,1659.5 L1437.8,1658.1 L1438.0,1656.7 L1438.2,1655.4 L1438.4,1654.1 L1438.6,1652.9 L1438.8,1651.7 L1439.0,1650.6 L1439.4,1648.3 L1439.8,1646.1 L1440.1,1644.2 L1440.5,1642.4 L1440.8,1640.7 L1441.1,1639.2 L1441.4,1637.8 L1441.7,1636.5 L1442.0,1635.2 L1442.3,1634.1 L1442.6,1633.0 L1442.9,1632.0 L1443.2,1631.0 L1443.5,1630.0 L1444.4,1627.5 L1445.2,1625.6 L1446.0,1624.3 L1447.0,1623.5 L1448.0,1623.1 L1449.2,1623.5 L1450.6,1624.6 L1452.0,1626.1 L1453.4,1627.6 L1454.6,1628.8 L1456.2,1630.6 L1457.7,1632.2 L1459.3,1632.5 L1460.3,1632.0 L1461.3,1631.0 L1462.3,1629.8 L1463.4,1628.3 L1464.6,1626.7 L1465.9,1625.0 L1466.7,1623.9 L1467.6,1622.7 L1468.6,1621.4 L1469.5,1620.0 L1470.5,1618.6 L1471.5,1617.2 L1472.5,1615.8 L1473.5,1614.4 L1474.4,1613.1 L1475.3,1611.8 L1476.2,1610.5 L1477.1,1609.2 L1477.9,1608.0 L1478.7,1606.8 L1479.5,1605.5 L1480.3,1604.3 L1481.1,1603.1 L1482.0,1601.8 L1482.9,1600.5 L1483.8,1599.3 L1484.7,1598.0 L1485.6,1596.7 L1486.5,1595.4 L1487.5,1594.0 L1488.5,1592.7 L1489.4,1591.3 L1490.4,1590.0 L1491.4,1588.6 L1492.3,1587.3 L1493.3,1585.9 L1494.2,1584.5 L1495.2,1583.0 L1496.2,1581.5 L1497.2,1580.0 L1498.1,1578.6 L1499.1,1577.3 L1500.0,1576.1 L1500.9,1575.1 L1501.7,1574.2 L1503.5,1572.7 L1505.2,1572.0 L1506.7,1571.9 L1508.3,1572.3 L1509.4,1573.0 L1510.5,1574.0 L1511.5,1575.2 L1512.6,1576.7 L1513.7,1578.2 L1514.9,1579.8 L1515.7,1580.9 L1516.5,1582.2 L1517.3,1583.5 L1518.2,1584.9 L1519.0,1586.3 L1519.9,1587.6 L1520.7,1588.9 L1521.6,1590.1 L1522.4,1591.1 L1523.7,1592.5 L1525.0,1593.7 L1526.3,1594.8 L1527.5,1595.7 L1528.8,1596.4 L1529.9,1596.8 L1531.4,1596.7 L1532.8,1596.1 L1534.1,1595.0 L1535.6,1593.9 L1536.8,1593.0 L1538.0,1591.8 L1539.4,1590.5 L1540.7,1589.4 L1541.9,1588.6 L1543.1,1588.3 L1544.4,1588.6 L1545.5,1589.4 L1546.6,1590.7 L1547.7,1592.5 L1548.8,1594.9 L1549.2,1595.9 L1549.6,1597.1 L1550.0,1598.4 L1550.5,1599.8 L1550.9,1601.3 L1551.3,1602.9 L1551.7,1604.5 L1552.1,1606.1 L1552.5,1607.8 L1552.9,1609.4 L1553.3,1611.0 L1553.7,1612.6 L1554.1,1614.1 L1554.4,1615.6 L1554.8,1617.3 L1555.1,1619.0 L1555.4,1620.7 L1555.7,1622.4 L1556.0,1624.1 L1556.2,1625.8 L1556.5,1627.5 L1556.8,1629.0 L1557.1,1630.5 L1557.4,1631.9 L1557.8,1633.2 L1558.2,1634.4 L1559.2,1636.2 L1560.3,1637.5 L1561.4,1638.4 L1562.6,1639.3 L1563.8,1640.4 L1564.8,1642.0 L1565.3,1643.2 L1565.8,1644.6 L1566.3,1646.0 L1566.8,1647.6 L1567.2,1649.2 L1567.6,1650.8 L1568.1,1652.4 L1568.5,1654.0 L1569.0,1655.5 L1569.5,1657.0 L1570.1,1658.6 L1570.7,1660.3 L1571.3,1662.1 L1571.9,1663.8 L1572.5,1665.5 L1573.1,1667.0 L1573.8,1668.3 L1574.4,1669.4 L1575.1,1670.2 L1576.7,1670.4 L1578.3,1669.1 L1580.0,1667.9 L1581.7,1668.3 L1582.4,1669.1 L1583.0,1670.1 L1583.7,1671.3 L1584.4,1672.8 L1585.1,1674.3 L1585.7,1676.0 L1586.4,1677.8 L1587.0,1679.6 L1587.7,1681.5 L1588.3,1683.4 L1588.7,1684.7 L1589.1,1686.1 L1589.5,1687.6 L1589.9,1689.1 L1590.3,1690.7 L1590.7,1692.4 L1591.1,1694.0 L1591.5,1695.6 L1591.9,1697.3 L1592.3,1698.9 L1592.6,1700.5 L1593.0,1702.0 L1593.3,1703.4 L1593.7,1704.8 L1594.0,1706.0 L1594.5,1708.0 L1594.9,1709.9 L1595.3,1711.7 L1595.7,1713.3 L1596.1,1714.9 L1596.5,1716.3 L1596.8,1717.5 L1597.3,1718.4 L1597.7,1719.2 L1599.1,1720.1 L1600.7,1719.3 L1602.4,1717.3 L1603.1,1716.3 L1603.8,1715.0 L1604.5,1713.4 L1605.3,1711.7 L1606.0,1710.0 L1606.8,1708.4 L1607.6,1706.9 L1608.3,1705.8 L1609.0,1705.0 L1610.5,1704.5 L1611.9,1705.2 L1613.2,1706.5 L1614.7,1707.9 L1615.8,1709.0 L1616.9,1710.3 L1618.1,1711.8 L1619.2,1713.2 L1620.3,1714.5 L1621.3,1715.4 L1622.9,1716.0 L1624.3,1715.8 L1626.0,1716.3 L1627.1,1717.3 L1628.3,1718.9 L1629.6,1720.7 L1631.0,1722.2 L1632.3,1723.1 L1633.5,1722.9 L1634.1,1722.3 L1634.7,1721.5 L1635.2,1720.5 L1635.8,1719.2 L1636.3,1717.8 L1636.9,1716.3 L1637.4,1714.6 L1637.9,1712.9 L1638.5,1711.2 L1639.0,1709.4 L1639.6,1707.7 L1640.1,1706.0 L1640.5,1704.6 L1641.0,1703.2 L1641.4,1701.7 L1641.8,1700.2 L1642.2,1698.6 L1642.6,1697.0 L1643.1,1695.4 L1643.5,1693.8 L1643.9,1692.2 L1644.4,1690.6 L1644.8,1689.0 L1645.3,1687.5 L1645.7,1686.1 L1646.2,1684.7 L1646.7,1683.4 L1647.4,1681.6 L1648.2,1679.8 L1649.0,1678.0 L1649.8,1676.2 L1650.6,1674.5 L1651.5,1673.0 L1652.3,1671.5 L1653.1,1670.3 L1653.9,1669.3 L1654.6,1668.7 L1655.2,1668.3 L1656.0,1668.3 L1656.6,1668.9 L1657.1,1669.9 L1657.6,1671.2 L1658.1,1673.0 L1658.6,1675.0 L1659.2,1677.2 L1659.9,1679.6 L1660.2,1680.7 L1660.6,1681.9 L1660.9,1683.3 L1661.3,1684.7 L1661.7,1686.2 L1662.1,1687.8 L1662.5,1689.4 L1663.0,1691.1 L1663.4,1692.8 L1663.8,1694.5 L1664.2,1696.2 L1664.6,1697.9 L1665.1,1699.5 L1665.5,1701.1 L1665.9,1702.6 L1666.3,1704.1 L1666.7,1705.5 L1667.0,1706.7 L1667.4,1707.9 L1668.1,1710.0 L1668.8,1711.8 L1669.4,1713.4 L1670.0,1714.8 L1670.5,1716.0 L1671.1,1717.2 L1671.7,1718.4 L1672.4,1719.6 L1673.1,1721.0 L1673.8,1722.4 L1674.5,1724.0 L1675.3,1725.6 L1676.1,1727.3 L1676.9,1728.9 L1677.6,1730.4 L1678.4,1731.8 L1679.2,1732.9 L1679.9,1733.7 L1680.6,1734.2 L1681.6,1734.1 L1682.6,1733.2 L1683.4,1731.7 L1684.3,1730.0 L1685.3,1728.2 L1686.3,1726.7 L1687.3,1725.6 L1688.4,1724.5 L1689.5,1723.4 L1690.7,1722.3 L1691.8,1721.2 L1692.9,1720.2 L1693.8,1719.2 L1695.2,1717.4 L1696.4,1715.7 L1697.5,1714.3 L1698.5,1713.5 L1700.0,1713.9 L1701.3,1715.3 L1702.3,1716.3" fill="none" stroke="#800000" stroke-width="3.3" stroke-linejoin="round" stroke-linecap="round"/>
<path d="M157.3,2063.9 L158.1,2063.9 L159.0,2063.8 L159.9,2063.8 L161.0,2063.8 L162.1,2063.7 L163.2,2063.7 L164.4,2063.6 L165.7,2063.6 L167.0,2063.6 L168.4,2063.5 L169.8,2063.5 L171.3,2063.4 L172.8,2063.4 L174.4,2063.3 L176.0,2063.2 L177.6,2063.2 L179.3,2063.1 L181.0,2063.1 L182.7,2063.0 L184.4,2063.0 L186.2,2062.9 L187.9,2062.8 L189.7,2062.8 L191.5,2062.7 L193.3,2062.6 L195.1,2062.6 L196.9,2062.5 L198.7,2062.4 L200.5,2062.4 L202.2,2062.3 L204.0,2062.2 L205.7,2062.2 L207.4,2062.1 L209.1,2062.0 L210.8,2062.0 L212.5,2061.9 L214.1,2061.8 L215.7,2061.7 L217.2,2061.7 L218.7,2061.6 L220.1,2061.5 L221.5,2061.5 L222.9,2061.4 L224.7,2061.3 L226.4,2061.2 L228.2,2061.1 L229.9,2061.0 L231.6,2060.9 L233.3,2060.8 L234.9,2060.7 L236.6,2060.6 L238.2,2060.5 L239.8,2060.4 L241.4,2060.3 L243.0,2060.2 L244.6,2060.1 L246.1,2059.9 L247.7,2059.8 L249.2,2059.7 L250.7,2059.6 L252.2,2059.5 L253.6,2059.4 L255.1,2059.3 L256.5,2059.2 L258.0,2059.1 L259.4,2058.9 L260.8,2058.8 L262.2,2058.7 L263.5,2058.6 L264.9,2058.5 L266.2,2058.4 L267.6,2058.3 L268.9,2058.2 L270.2,2058.1 L271.5,2058.0 L273.4,2057.9 L275.2,2057.7 L276.9,2057.5 L278.6,2057.4 L280.3,2057.2 L282.0,2057.0 L283.6,2056.9 L285.1,2056.7 L286.7,2056.5 L288.2,2056.4 L289.7,2056.2 L291.2,2056.1 L292.7,2055.9 L294.1,2055.8 L295.5,2055.7 L297.0,2055.5 L298.4,2055.4 L299.8,2055.3 L301.2,2055.2 L302.6,2055.2 L304.1,2055.1 L305.5,2055.1 L307.1,2055.1 L308.8,2055.1 L310.3,2055.1 L311.9,2055.1 L313.4,2055.2 L314.9,2055.2 L316.4,2055.3 L317.9,2055.4 L319.4,2055.4 L320.8,2055.6 L322.3,2055.7 L323.8,2055.8 L325.3,2055.9 L326.8,2056.1 L328.3,2056.3 L329.9,2056.4 L331.4,2056.6 L333.1,2056.8 L334.7,2057.0 L336.1,2057.2 L337.5,2057.4 L338.9,2057.6 L340.3,2057.8 L341.8,2058.0 L343.2,2058.3 L344.7,2058.5 L346.2,2058.8 L347.7,2059.1 L349.1,2059.4 L350.6,2059.7 L352.2,2059.9 L353.7,2060.2 L355.2,2060.5 L356.7,2060.8 L358.2,2061.1 L359.7,2061.4 L361.2,2061.6 L362.7,2061.9 L364.2,2062.2 L365.7,2062.4 L367.2,2062.7 L368.7,2062.9 L370.2,2063.1 L371.8,2063.4 L373.3,2063.6 L374.8,2063.9 L376.3,2064.1 L377.8,2064.4 L379.3,2064.6 L380.9,2064.9 L382.4,2065.1 L383.9,2065.4 L385.4,2065.6 L386.9,2065.9 L388.4,2066.1 L390.0,2066.3 L391.5,2066.5 L393.1,2066.6 L394.6,2066.8 L396.2,2066.9 L397.8,2067.1 L399.4,2067.2 L401.1,2067.2 L402.7,2067.3 L404.1,2067.3 L405.5,2067.4 L406.8,2067.4 L408.0,2067.4 L409.2,2067.4 L410.4,2067.4 L411.6,2067.3 L412.8,2067.3 L413.9,2067.2 L415.1,2067.2 L416.3,2067.1 L417.6,2067.0 L418.9,2066.9 L420.2,2066.8 L421.6,2066.7 L423.1,2066.6 L424.7,2066.4 L426.3,2066.3 L428.1,2066.1 L430.0,2065.9 L432.0,2065.7 L434.2,2065.5 L436.5,2065.3 L439.0,2065.1 L441.6,2064.8 L442.7,2064.7 L443.7,2064.6 L444.9,2064.5 L446.0,2064.4 L447.2,2064.2 L448.4,2064.1 L449.6,2064.0 L450.8,2063.9 L452.1,2063.7 L453.3,2063.6 L454.6,2063.5 L456.0,2063.3 L457.3,2063.2 L458.7,2063.0 L460.1,2062.9 L461.4,2062.7 L462.9,2062.6 L464.3,2062.4 L465.7,2062.3 L467.2,2062.1 L468.7,2062.0 L470.2,2061.8 L471.7,2061.6 L473.2,2061.5 L474.7,2061.3 L476.3,2061.1 L477.8,2060.9 L479.4,2060.8 L481.0,2060.6 L482.6,2060.4 L484.2,2060.2 L485.8,2060.1 L487.4,2059.9 L489.0,2059.7 L490.6,2059.5 L492.2,2059.3 L493.9,2059.1 L495.5,2059.0 L497.1,2058.8 L498.8,2058.6 L500.4,2058.4 L502.0,2058.2 L503.7,2058.0 L505.3,2057.8 L507.0,2057.7 L508.6,2057.5 L510.3,2057.3 L511.9,2057.1 L513.5,2056.9 L515.2,2056.7 L516.8,2056.6 L518.4,2056.4 L520.0,2056.2 L521.7,2056.0 L523.3,2055.8 L524.9,2055.6 L526.4,2055.5 L528.0,2055.3 L529.6,2055.1 L531.2,2054.9 L532.7,2054.8 L534.3,2054.6 L535.8,2054.4 L537.3,2054.3 L538.8,2054.1 L540.3,2053.9 L541.8,2053.8 L543.3,2053.6 L544.8,2053.4 L546.3,2053.3 L547.8,2053.1 L549.3,2052.9 L550.8,2052.8 L552.3,2052.6 L553.8,2052.5 L555.2,2052.3 L556.7,2052.1 L558.2,2052.0 L559.7,2051.8 L561.2,2051.6 L562.7,2051.5 L564.2,2051.3 L565.7,2051.1 L567.2,2051.0 L568.7,2050.8 L570.2,2050.7 L571.7,2050.5 L573.2,2050.3 L574.7,2050.2 L576.2,2050.0 L577.7,2049.8 L579.2,2049.7 L580.7,2049.5 L582.2,2049.3 L583.7,2049.2 L585.2,2049.0 L586.7,2048.9 L588.1,2048.7 L589.6,2048.5 L591.1,2048.4 L592.6,2048.2 L594.1,2048.0 L595.6,2047.9 L597.1,2047.7 L598.6,2047.5 L600.1,2047.4 L601.6,2047.2 L603.1,2047.1 L604.6,2046.9 L606.1,2046.7 L607.6,2046.6 L609.1,2046.4 L610.6,2046.2 L612.1,2046.1 L613.6,2045.9 L615.1,2045.7 L616.6,2045.6 L618.1,2045.4 L619.6,2045.2 L621.0,2045.1 L622.5,2044.9 L624.0,2044.7 L625.5,2044.6 L627.0,2044.4 L628.5,2044.2 L630.0,2044.1 L631.5,2043.9 L633.0,2043.7 L634.5,2043.6 L636.0,2043.4 L637.5,2043.2 L639.0,2043.1 L640.5,2042.9 L641.9,2042.7 L643.4,2042.6 L644.9,2042.4 L646.4,2042.2 L647.8,2042.1 L649.3,2041.9 L650.8,2041.7 L652.2,2041.6 L653.7,2041.4 L655.1,2041.2 L656.6,2041.1 L658.0,2040.9 L659.5,2040.7 L660.9,2040.6 L662.4,2040.4 L663.8,2040.2 L665.3,2040.1 L666.7,2039.9 L668.2,2039.8 L669.6,2039.6 L671.1,2039.4 L672.5,2039.3 L673.9,2039.1 L675.4,2038.9 L676.8,2038.8 L678.3,2038.6 L679.7,2038.4 L681.2,2038.3 L682.7,2038.1 L684.1,2037.9 L685.6,2037.8 L687.0,2037.6 L688.5,2037.4 L690.0,2037.2 L691.4,2037.1 L692.9,2036.9 L694.4,2036.7 L695.9,2036.6 L697.4,2036.4 L698.9,2036.2 L700.4,2036.1 L701.9,2035.9 L703.4,2035.7 L704.9,2035.5 L706.4,2035.4 L707.9,2035.2 L709.4,2035.0 L711.0,2034.8 L712.5,2034.7 L714.1,2034.5 L715.6,2034.3 L717.2,2034.1 L718.7,2033.9 L720.3,2033.8 L721.9,2033.6 L723.5,2033.4 L725.1,2033.2 L726.7,2033.0 L728.3,2032.9 L729.9,2032.7 L731.6,2032.5 L733.2,2032.3 L734.6,2032.1 L736.0,2032.0 L737.4,2031.8 L738.9,2031.6 L740.3,2031.5 L741.8,2031.3 L743.3,2031.1 L744.9,2030.9 L746.4,2030.8 L748.0,2030.6 L749.6,2030.4 L751.2,2030.2 L752.8,2030.0 L754.4,2029.8 L756.0,2029.6 L757.7,2029.4 L759.3,2029.2 L761.0,2029.0 L762.7,2028.8 L764.4,2028.6 L766.1,2028.4 L767.8,2028.2 L769.5,2027.9 L771.2,2027.7 L772.9,2027.5 L774.6,2027.3 L776.3,2027.1 L778.1,2026.9 L779.8,2026.7 L781.5,2026.5 L783.3,2026.3 L785.0,2026.0 L786.7,2025.8 L788.5,2025.6 L790.2,2025.4 L791.9,2025.2 L793.6,2025.0 L795.3,2024.8 L797.0,2024.6 L798.7,2024.4 L800.4,2024.2 L802.1,2024.0 L803.7,2023.8 L805.4,2023.6 L807.1,2023.4 L808.7,2023.2 L810.3,2023.0 L811.9,2022.8 L813.5,2022.6 L815.1,2022.5 L816.7,2022.3 L818.2,2022.1 L819.7,2021.9 L821.2,2021.8 L822.7,2021.6 L824.2,2021.4 L825.7,2021.3 L827.1,2021.1 L828.5,2021.0 L829.9,2020.8 L831.2,2020.7 L832.6,2020.5 L833.9,2020.4 L835.2,2020.3 L836.4,2020.2 L837.6,2020.1 L838.8,2019.9 L840.0,2019.8 L841.2,2019.7 L842.3,2019.6 L843.3,2019.5 L844.4,2019.5 L845.4,2019.4 L846.4,2019.3 L847.3,2019.3 L848.2,2019.2 L849.1,2019.1 L849.9,2019.1 L856.9,2019.1 L860.5,2020.0 L861.5,2021.3 L861.1,2022.8 L859.9,2024.3 L859.2,2025.4 L859.6,2025.9 L860.8,2025.7 L861.8,2025.2 L862.7,2024.4 L863.8,2023.4 L865.1,2022.2 L866.9,2021.1 L869.3,2020.1 L870.3,2019.8 L871.4,2019.4 L872.6,2019.1 L873.9,2018.7 L875.2,2018.3 L876.6,2017.9 L878.0,2017.5 L879.5,2017.1 L881.0,2016.7 L882.5,2016.3 L884.1,2016.0 L885.7,2015.6 L887.3,2015.2 L889.0,2014.8 L890.6,2014.4 L892.2,2014.1 L893.8,2013.7 L895.4,2013.4 L897.0,2013.1 L898.5,2012.8 L899.9,2012.5 L901.3,2012.3 L902.6,2011.9 L903.9,2011.4 L905.2,2012.1 L906.5,2010.9 L907.8,2011.3 L909.1,2011.7 L910.4,2010.5 L911.7,2010.9 L913.0,2010.9 L914.4,2010.0 L915.9,2010.3 L917.3,2010.5 L918.9,2010.0 L920.5,2010.1 L922.2,2009.2 L924.0,2009.1 L925.9,2008.7 L927.9,2008.9 L930.0,2009.1 L931.2,2008.5 L932.3,2008.6 L933.6,2008.0 L934.8,2008.2 L936.1,2007.3 L937.4,2007.3 L938.7,2007.6 L940.1,2007.5 L941.5,2006.9 L942.9,2006.3 L944.3,2006.3 L945.8,2006.1 L947.3,2005.9 L948.8,2006.4 L950.3,2005.4 L951.8,2006.0 L953.3,2005.8 L954.9,2004.6 L956.4,2004.8 L958.0,2004.7 L959.6,2003.9 L961.2,2004.1 L962.8,2004.5 L964.3,2003.3 L965.9,2003.6 L967.6,2002.8 L969.2,2003.1 L970.8,2003.3 L972.4,2002.2 L974.0,2001.7 L975.6,2001.6 L977.1,2001.9 L978.7,2001.0 L980.3,2000.8 L981.9,2001.0 L983.4,2001.3 L985.0,2000.4 L986.5,2000.1 L988.0,2000.1 L989.5,1999.2 L991.0,1999.5 L992.5,1998.8 L994.0,1999.0 L995.5,1999.1 L996.9,1997.8 L998.4,1998.1 L999.9,1997.8 L1001.4,1997.0 L1002.9,1996.8 L1004.4,1997.4 L1005.9,1997.1 L1007.4,1995.8 L1008.9,1996.2 L1010.4,1996.1 L1011.8,1995.0 L1013.3,1995.1 L1014.8,1994.1 L1016.3,1994.2 L1017.8,1994.2 L1019.3,1993.8 L1020.8,1993.7 L1022.3,1992.5 L1023.8,1992.5 L1025.3,1992.8 L1026.8,1992.1 L1028.2,1991.6 L1029.7,1991.2 L1031.2,1991.6 L1032.7,1990.8 L1034.2,1989.8 L1035.7,1990.4 L1037.2,1989.5 L1038.7,1989.2 L1040.2,1988.6 L1041.7,1988.6 L1043.1,1988.1 L1044.6,1987.4 L1046.1,1987.7 L1047.6,1986.8 L1049.1,1987.2 L1050.6,1986.0 L1052.1,1986.5 L1053.7,1986.2 L1055.2,1985.4 L1056.8,1985.3 L1058.4,1984.4 L1060.0,1984.6 L1061.6,1983.8 L1063.2,1983.2 L1064.8,1983.6 L1066.4,1982.5 L1068.1,1982.1 L1069.7,1982.3 L1071.4,1981.3 L1073.0,1981.2 L1074.6,1980.2 L1076.2,1980.6 L1077.9,1979.5 L1079.5,1978.8 L1081.1,1979.5 L1082.7,1978.1 L1084.3,1978.6 L1085.8,1978.3 L1087.4,1977.4 L1088.9,1976.3 L1090.4,1976.0 L1091.9,1975.8 L1093.4,1975.6 L1094.8,1975.5 L1096.2,1975.6 L1097.6,1974.5 L1099.0,1973.9 L1100.3,1974.1 L1101.6,1973.3 L1102.9,1972.9 L1104.1,1973.1 L1105.3,1973.0 L1106.4,1972.0 L1107.5,1972.2 L1108.6,1972.2 L1111.1,1971.7 L1113.3,1970.8 L1115.3,1970.9 L1117.1,1969.7 L1118.7,1970.0 L1120.1,1969.7 L1121.5,1969.6 L1122.7,1968.9 L1123.9,1968.2 L1125.0,1968.0 L1126.2,1968.4 L1127.3,1967.8 L1128.4,1968.2 L1129.7,1967.4 L1131.0,1968.1 L1132.4,1967.3 L1134.0,1966.9 L1135.7,1966.9 L1137.4,1967.1 L1139.2,1967.1 L1140.9,1966.8 L1142.7,1966.5 L1144.4,1966.8 L1146.1,1967.3 L1147.8,1966.8 L1149.4,1967.3 L1151.0,1966.2 L1152.5,1967.4 L1153.9,1967.3 L1155.1,1967.0 L1156.3,1967.0 L1158.7,1967.4 L1160.4,1968.3 L1161.8,1967.9 L1162.9,1969.3 L1164.0,1969.9 L1165.2,1970.3 L1166.7,1971.8 L1168.1,1973.0 L1169.5,1973.4 L1170.9,1975.0 L1172.6,1974.9 L1173.8,1974.8 L1175.0,1974.4 L1176.4,1973.1 L1177.8,1972.9 L1179.1,1971.7 L1180.5,1971.3 L1181.8,1969.6 L1183.1,1969.4 L1184.2,1968.3 L1185.0,1967.1 L1185.6,1966.4 L1186.4,1964.3 L1187.6,1963.8 L1189.3,1962.5 L1192.0,1961.2 L1192.9,1960.5 L1194.0,1959.6 L1195.1,1959.3 L1196.3,1959.3 L1197.5,1958.4 L1198.8,1957.7 L1200.2,1957.6 L1201.6,1957.2 L1203.1,1956.8 L1204.6,1955.6 L1206.2,1956.0 L1207.8,1954.9 L1209.3,1954.9 L1210.9,1953.4 L1212.6,1954.0 L1214.2,1953.0 L1215.8,1953.0 L1217.4,1952.4 L1219.0,1951.7 L1220.5,1950.3 L1222.0,1950.1 L1223.5,1949.4 L1225.0,1949.5 L1226.4,1948.3 L1227.7,1947.9 L1229.2,1947.1 L1230.8,1946.6 L1232.2,1947.0 L1233.7,1946.4 L1235.1,1945.2 L1236.6,1945.0 L1238.0,1944.1 L1239.4,1943.6 L1240.7,1942.9 L1242.1,1942.6 L1243.5,1941.6 L1244.8,1941.1 L1246.2,1940.8 L1247.6,1939.9 L1248.9,1939.6 L1250.3,1939.6 L1251.7,1938.0 L1253.1,1937.5 L1254.6,1937.8 L1256.0,1936.3 L1257.5,1936.0 L1258.9,1936.2 L1260.3,1935.4 L1261.7,1934.4 L1263.2,1933.6 L1264.7,1933.4 L1266.2,1932.8 L1267.7,1932.9 L1269.2,1932.5 L1270.8,1931.8 L1272.3,1931.3 L1273.8,1930.8 L1275.4,1930.2 L1276.9,1929.7 L1278.3,1929.3 L1279.8,1927.7 L1281.2,1927.4 L1282.7,1926.8 L1284.0,1926.8 L1285.4,1926.2 L1286.6,1925.5 L1287.9,1925.7 L1289.1,1924.7 L1290.2,1924.1 L1292.2,1923.4 L1293.9,1923.0 L1295.4,1922.7 L1296.7,1922.2 L1298.0,1921.6 L1299.2,1920.9 L1300.3,1920.7 L1301.6,1920.1 L1302.9,1919.4 L1304.4,1919.2 L1306.1,1918.0 L1308.1,1917.8 L1309.2,1917.2 L1310.3,1916.0 L1311.5,1916.0 L1312.7,1915.1 L1313.9,1914.5 L1315.2,1914.1 L1316.5,1913.6 L1317.8,1913.0 L1319.1,1912.1 L1320.5,1910.8 L1321.9,1910.4 L1323.3,1909.4 L1324.8,1908.3 L1326.2,1908.1 L1327.7,1907.3 L1329.1,1907.0 L1330.6,1905.5 L1332.1,1905.4 L1333.5,1904.2 L1335.0,1903.0 L1336.5,1903.0 L1337.9,1901.7 L1339.4,1901.3 L1340.8,1900.1 L1342.1,1899.4 L1343.5,1899.8 L1344.8,1898.1 L1346.2,1897.6 L1347.5,1897.0 L1348.9,1896.3 L1350.3,1896.5 L1351.7,1896.0 L1353.1,1895.0 L1354.5,1894.0 L1355.9,1894.0 L1357.3,1892.9 L1358.7,1891.8 L1360.1,1891.8 L1361.5,1890.8 L1362.9,1890.1 L1364.3,1889.5 L1365.7,1889.0 L1367.1,1888.2 L1368.5,1888.1 L1369.8,1887.9 L1371.2,1887.0 L1372.6,1885.7 L1373.9,1886.0 L1375.3,1884.7 L1376.6,1884.8 L1378.1,1884.7 L1379.6,1884.0 L1381.1,1883.8 L1382.5,1883.2 L1384.0,1882.1 L1385.5,1881.6 L1386.9,1881.6 L1388.4,1881.5 L1389.8,1880.6 L1391.3,1880.3 L1392.7,1880.5 L1394.2,1879.7 L1395.6,1879.6 L1397.0,1879.2 L1398.4,1879.3 L1399.9,1877.8 L1401.3,1877.7 L1402.7,1878.0 L1404.1,1877.4 L1405.5,1876.3 L1407.0,1875.9 L1408.4,1875.5 L1409.8,1875.4 L1411.2,1875.2 L1412.6,1873.8 L1414.1,1873.2 L1415.5,1873.1 L1416.9,1872.1 L1418.4,1871.9 L1419.8,1871.4 L1421.3,1870.1 L1422.7,1869.4 L1424.1,1868.6 L1425.5,1867.9 L1427.0,1867.1 L1428.4,1866.4 L1429.8,1865.7 L1431.2,1865.0 L1432.5,1864.3 L1433.9,1863.6 L1435.3,1862.9 L1436.6,1862.3 L1437.9,1861.6 L1439.2,1861.1 L1440.5,1860.5 L1441.8,1860.0 L1443.4,1859.4 L1445.0,1858.8 L1446.6,1858.3 L1448.1,1857.8 L1449.6,1857.3 L1451.2,1856.8 L1452.7,1856.4 L1454.1,1856.0 L1455.6,1855.6 L1457.0,1855.2 L1458.4,1854.9 L1459.8,1854.5 L1461.2,1854.2 L1462.6,1853.9 L1463.9,1853.5 L1465.2,1853.2 L1466.5,1852.9 L1467.8,1852.6 L1469.5,1852.2 L1471.2,1851.8 L1472.9,1851.4 L1474.5,1851.0 L1476.0,1850.6 L1477.6,1850.3 L1479.1,1850.0 L1480.5,1849.7 L1481.9,1849.4 L1483.3,1849.2 L1484.6,1849.0 L1485.9,1848.8 L1487.2,1848.7 L1489.1,1848.5 L1490.8,1848.4 L1492.4,1848.3 L1493.9,1848.3 L1495.4,1848.4 L1496.8,1848.6 L1498.4,1849.0 L1500.0,1849.5 L1501.3,1850.0 L1502.6,1850.7 L1503.9,1851.4 L1505.2,1852.3 L1506.6,1853.2 L1508.0,1854.1 L1509.3,1855.1 L1510.7,1856.0 L1512.0,1856.9 L1513.3,1857.8 L1514.6,1858.6 L1516.2,1859.5 L1517.7,1860.3 L1519.3,1861.1 L1520.8,1861.9 L1522.4,1862.7 L1523.8,1863.5 L1525.2,1864.2 L1526.5,1865.0 L1527.7,1865.8 L1529.3,1867.0 L1530.7,1868.2 L1531.9,1869.5 L1533.0,1870.7 L1534.0,1871.9 L1535.0,1873.1 L1536.0,1874.3 L1536.8,1875.4 L1537.5,1876.5 L1538.2,1878.0 L1539.0,1880.0 L1539.4,1881.1 L1539.8,1882.4 L1540.2,1883.7 L1540.6,1885.2 L1541.0,1886.7 L1541.5,1888.3 L1541.9,1890.0 L1542.3,1891.7 L1542.7,1893.4 L1543.2,1895.2 L1543.6,1897.0 L1543.9,1898.3 L1544.2,1899.7 L1544.6,1901.1 L1544.9,1902.5 L1545.2,1904.0 L1545.6,1905.4 L1545.9,1906.9 L1546.3,1908.5 L1546.6,1910.0 L1546.9,1911.6 L1547.3,1913.2 L1547.6,1914.9 L1547.9,1916.5 L1548.2,1918.3 L1548.5,1920.0 L1548.7,1921.4 L1548.9,1922.8 L1549.2,1924.2 L1549.4,1925.7 L1549.6,1927.2 L1549.8,1928.8 L1550.0,1930.4 L1550.2,1932.0 L1550.4,1933.6 L1550.6,1935.2 L1550.8,1936.8 L1551.0,1938.4 L1551.2,1940.0 L1551.4,1941.5 L1551.6,1943.0 L1551.8,1944.5 L1552.0,1946.0 L1552.1,1947.4 L1552.3,1948.7 L1552.5,1950.0 L1552.8,1951.9 L1553.0,1953.6 L1553.3,1955.2 L1553.5,1956.7 L1553.7,1958.2 L1554.0,1959.6 L1554.2,1961.0 L1554.4,1962.4 L1554.6,1963.8 L1554.8,1965.2 L1555.0,1966.7 L1555.3,1968.3 L1555.5,1970.0 L1555.7,1971.5 L1555.9,1973.0 L1556.1,1974.6 L1556.3,1976.2 L1556.5,1977.9 L1556.6,1979.6 L1556.8,1981.3 L1557.0,1983.0 L1557.2,1984.7 L1557.4,1986.4 L1557.6,1988.0 L1557.8,1989.6 L1558.0,1991.1 L1558.1,1992.5 L1558.3,1993.8 L1558.5,1995.0 L1558.9,1997.3 L1559.2,1999.1 L1559.5,2000.6 L1559.8,2001.9 L1560.1,2003.2 L1560.6,2004.5 L1561.1,2006.2 L1561.5,2007.5 L1562.0,2008.8 L1562.6,2010.2 L1563.1,2011.6 L1563.7,2013.0 L1564.4,2014.5 L1565.0,2016.0 L1565.6,2017.5 L1566.3,2019.1 L1566.9,2020.8 L1567.4,2022.2 L1567.9,2023.6 L1568.4,2025.2 L1568.9,2026.8 L1569.4,2028.4 L1569.9,2030.1 L1570.4,2031.7 L1570.9,2033.4 L1571.4,2034.9 L1572.0,2036.4 L1572.5,2037.8 L1573.1,2039.1 L1573.7,2040.2 L1574.9,2041.9 L1576.2,2043.2 L1577.5,2044.3 L1578.8,2045.1 L1580.1,2046.0 L1581.4,2046.9 L1582.5,2048.0 L1583.5,2049.2 L1584.3,2050.5 L1585.1,2051.8 L1585.8,2053.1 L1586.6,2054.5 L1587.4,2056.0 L1588.3,2057.7 L1588.9,2058.9 L1589.6,2060.2 L1590.3,2061.7 L1591.1,2063.2 L1591.8,2064.7 L1592.6,2066.2 L1593.3,2067.7 L1594.1,2069.1 L1594.8,2070.4 L1595.5,2071.4 L1596.1,2072.3 L1597.6,2073.8 L1599.0,2074.4 L1600.4,2074.4 L1601.9,2074.2 L1603.3,2073.6 L1604.7,2072.6 L1606.2,2071.4 L1607.9,2070.5 L1609.7,2070.3 L1611.0,2070.6 L1612.3,2071.2 L1613.7,2072.1 L1615.1,2073.0 L1616.6,2074.0 L1618.2,2074.9 L1619.7,2075.7 L1621.3,2076.2 L1622.8,2076.5 L1624.3,2076.8 L1625.9,2077.0 L1627.5,2077.1 L1629.1,2077.1 L1630.7,2077.1 L1632.2,2076.9 L1633.6,2076.6 L1634.9,2076.2 L1636.3,2075.5 L1637.6,2074.7 L1638.6,2073.7 L1639.7,2072.5 L1640.6,2071.1 L1641.6,2069.4 L1642.7,2067.4 L1643.2,2066.3 L1643.7,2065.1 L1644.2,2063.8 L1644.8,2062.4 L1645.3,2060.9 L1645.8,2059.4 L1646.3,2057.8 L1646.8,2056.3 L1647.3,2054.7 L1647.8,2053.1 L1648.4,2051.5 L1648.9,2050.0 L1649.4,2048.6 L1650.0,2047.3 L1650.5,2046.0 L1651.3,2044.3 L1652.0,2042.6 L1652.8,2040.9 L1653.6,2039.2 L1654.4,2037.6 L1655.2,2036.1 L1656.0,2034.8 L1656.8,2033.6 L1657.6,2032.6 L1658.4,2031.9 L1659.2,2031.5 L1660.3,2031.5 L1661.4,2032.1 L1662.5,2033.2 L1663.7,2034.6 L1664.8,2036.1 L1665.9,2037.7 L1666.9,2039.1 L1668.0,2040.2 L1669.4,2041.3 L1670.7,2042.2 L1672.0,2043.0 L1673.2,2043.8 L1674.5,2044.8 L1675.8,2046.0 L1676.8,2047.2 L1677.8,2048.6 L1678.8,2050.1 L1679.8,2051.7 L1680.7,2053.2 L1681.7,2054.6 L1682.6,2055.8 L1683.5,2056.7 L1685.4,2057.3 L1687.1,2056.7 L1689.4,2057.3 L1690.4,2058.0 L1691.5,2059.0 L1692.8,2060.2 L1694.2,2061.5 L1695.6,2062.9 L1696.9,2064.3 L1698.2,2065.6 L1699.3,2066.7 L1700.3,2067.7 L1701.0,2068.4" fill="none" stroke="#000000" stroke-width="2.9" stroke-linejoin="round" stroke-linecap="round"/>
<rect x="157" y="18.5" width="1547.5" height="2092" fill="none" stroke="#000" stroke-width="7" stroke-linejoin="round"/>
<path d="M157.2,2110V2141M264.4,2110V2127M371.7,2110V2141M478.9,2110V2127M586.1,2110V2141M693.4,2110V2127M800.6,2110V2141M907.8,2110V2127M1015.1,2110V2141M1122.3,2110V2127M1229.5,2110V2141M1336.8,2110V2127M1444.0,2110V2141M1551.3,2110V2127M1658.5,2110V2141" stroke="#000" stroke-width="6.5" stroke-linecap="round" fill="none"/>
<text transform="translate(157.2,2215.5) scale(1,1.045)" font-size="66" text-anchor="middle">4000</text>
<text transform="translate(371.7,2215.5) scale(1,1.045)" font-size="66" text-anchor="middle">3500</text>
<text transform="translate(586.1,2215.5) scale(1,1.045)" font-size="66" text-anchor="middle">3000</text>
<text transform="translate(800.6,2215.5) scale(1,1.045)" font-size="66" text-anchor="middle">2500</text>
<text transform="translate(1015.1,2215.5) scale(1,1.045)" font-size="66" text-anchor="middle">2000</text>
<text transform="translate(1229.5,2215.5) scale(1,1.045)" font-size="66" text-anchor="middle">1500</text>
<text transform="translate(1444.0,2215.5) scale(1,1.045)" font-size="66" text-anchor="middle">1000</text>
<text transform="translate(1658.5,2215.5) scale(1,1.045)" font-size="66" text-anchor="middle">500</text>
<text x="972.8" y="2344" font-size="70" text-anchor="middle">Wavenumber (cm<tspan font-size="43" dy="-30">-1</tspan><tspan dy="30">)</tspan></text>
<text transform="translate(65,1055.9) rotate(-90) scale(1,1.04)" font-size="63.4" text-anchor="middle">Transmittance (a.u.)</text>
<text transform="translate(203,164.8) scale(0.988,1)" font-size="57" fill="#0000a0">Fe<tspan font-size="33" dy="19">3</tspan><tspan dy="-19">O</tspan><tspan font-size="33" dy="19">4</tspan><tspan dy="-19">/mSi/Ca_2</tspan></text>
<text transform="translate(205.8,400.8) scale(0.992,1)" font-size="57" fill="#000080">Fe<tspan font-size="33" dy="19">3</tspan><tspan dy="-19">O</tspan><tspan font-size="33" dy="19">4</tspan><tspan dy="-19">/mSi_2</tspan></text>
<text transform="translate(202.4,625.6) scale(0.985,1)" font-size="57" fill="#ff0080">Fe<tspan font-size="33" dy="19">3</tspan><tspan dy="-19">O</tspan><tspan font-size="33" dy="19">4</tspan><tspan dy="-19">/mSi/Ca_1C</tspan></text>
<text transform="translate(202.4,902.2) scale(0.99,1)" font-size="57" fill="#ff8000">Fe<tspan font-size="33" dy="19">3</tspan><tspan dy="-19">O</tspan><tspan font-size="33" dy="19">4</tspan><tspan dy="-19">/mSi/Ca_1B</tspan></text>
<text transform="translate(202.4,1217.3) scale(0.983,1)" font-size="57" fill="#ff0000">Fe<tspan font-size="33" dy="19">3</tspan><tspan dy="-19">O</tspan><tspan font-size="33" dy="19">4</tspan><tspan dy="-19">/mSi/Ca_1A</tspan></text>
<text transform="translate(200.9,1488.3) scale(0.977,1)" font-size="57" fill="#800000">Fe<tspan font-size="33" dy="19">3</tspan><tspan dy="-19">O</tspan><tspan font-size="33" dy="19">4</tspan><tspan dy="-19">/mSi_1</tspan></text>
<text transform="translate(228,1914.1) scale(1.0,1)" font-size="57" fill="#000000">Fe<tspan font-size="33" dy="19">3</tspan><tspan dy="-19">O</tspan><tspan font-size="33" dy="19">4</tspan><tspan dy="-19"></tspan></text>
<text transform="translate(1451,220) rotate(-90)" font-size="38" fill="#008000">Si-O-Si</text>
<text transform="translate(1481.9,501.5) rotate(-90)" font-size="38" fill="#000">Si-O-Si</text>
<text transform="translate(1278.9,1200.5) rotate(-90)" font-size="37" fill="#ff0000">O-C-O</text>
<text transform="translate(1513.4,1203.5) rotate(-90)" font-size="37" fill="#ff0000">O-C-O</text>
<text transform="translate(1473,1525) rotate(-90)" font-size="38" fill="#ff0000">Si-O-(Ca)</text>
<text transform="translate(1394,1616) rotate(-90)" font-size="38" fill="#008000">Si-O-Si</text>
<text transform="translate(1478.2,1741) rotate(-90)" font-size="38" fill="#800000">Si-O<tspan font-size="24" dy="12">x</tspan></text>
<text transform="translate(1607.2,1880) rotate(-90)" font-size="38" fill="#000">Si-O(H)</text>
<text transform="translate(1655.4,1957) rotate(-90)" font-size="37">Fe<tspan font-size="24" dy="-17">3+</tspan><tspan dy="17">-O</tspan></text>
<text transform="translate(1696.2,1957) rotate(-90)" font-size="37">Fe<tspan font-size="24" dy="-17">2+</tspan><tspan dy="17">-O</tspan></text>
<text transform="translate(1188.4,1876) rotate(-90)" font-size="38" fill="#000">C=O</text>
<text transform="translate(1307.6,1876) rotate(-90)" font-size="38" fill="#000">C=O</text>
<text transform="translate(420.9,2009.5) rotate(-90)" font-size="38" fill="#000">O-H</text>
<text transform="translate(1398.9,2054) rotate(-90)" font-size="38" fill="#000">Si-O-Si</text>
<text transform="translate(1511,2059) rotate(-90)" font-size="38" fill="#000">Si-O-Si</text>
</svg></body></html>
